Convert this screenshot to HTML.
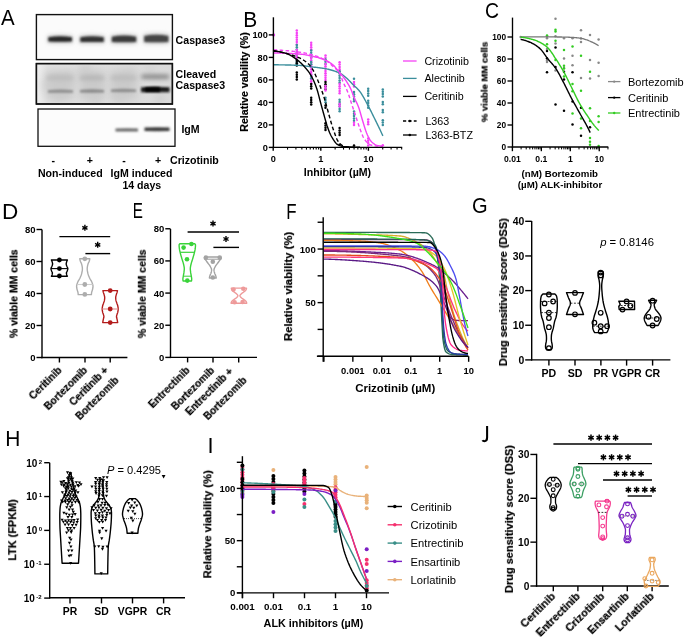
<!DOCTYPE html>
<html><head><meta charset="utf-8"><style>
html,body{margin:0;padding:0;background:#fff;}
svg{display:block;font-family:"Liberation Sans", sans-serif;}
text{filter:url(#gs);}
</style></head><body>
<svg width="685" height="637" viewBox="0 0 685 637">
<defs><filter id="gs" x="-5%" y="-20%" width="110%" height="140%" color-interpolation-filters="sRGB"><feColorMatrix type="saturate" values="0"/></filter></defs>
<rect width="685" height="637" fill="#fff"/>
<text x="0" y="0" font-size="22.5" transform="translate(1.10,25.40) scale(0.910,1)">A</text>
<text x="0" y="0" font-size="22.5" transform="translate(243.29,26.70) scale(0.933,1)">B</text>
<text x="0" y="0" font-size="22.5" transform="translate(484.95,17.70) scale(0.864,1)">C</text>
<text x="0" y="0" font-size="22.5" transform="translate(1.99,218.80) scale(1.004,1)">D</text>
<text x="0" y="0" font-size="22.5" transform="translate(132.65,217.60) scale(0.677,1)">E</text>
<text x="0" y="0" font-size="22.5" transform="translate(286.20,218.80) scale(0.750,1)">F</text>
<text x="0" y="0" font-size="22.5" transform="translate(471.92,212.50) scale(0.893,1)">G</text>
<text x="0" y="0" font-size="22.5" transform="translate(5.33,445.90) scale(0.931,1)">H</text>
<text x="0" y="0" font-size="22.5" transform="translate(207.46,452.80) scale(0.967,1)">I</text>
<path d="M487.1,426.0 L487.1,437.6 Q487.1,441.2 484.4,441.2 Q483.0,441.2 482.4,440.3" fill="none" stroke="#000" stroke-width="2.05"/>
<defs><filter id="bl" x="-30%" y="-80%" width="160%" height="260%"><feGaussianBlur stdDeviation="1.3"/></filter><filter id="bl2" x="-30%" y="-80%" width="160%" height="260%"><feGaussianBlur stdDeviation="2.2"/></filter><filter id="bl3" x="-50%" y="-50%" width="200%" height="200%"><feGaussianBlur stdDeviation="4"/></filter><linearGradient id="g2" x1="0" x2="1" y1="0" y2="0"><stop offset="0" stop-color="#f0f0f0"/><stop offset="0.08" stop-color="#e2e2e2"/><stop offset="1" stop-color="#dadada"/></linearGradient></defs>
<rect x="36.4" y="14.6" width="136" height="45" fill="#fbfbfb" stroke="#111" stroke-width="1.4"/>
<path d="M47.5,35.849999999999994 Q60.15,33.769999999999996 72.8,35.849999999999994 L72.8,43.05 Q60.15,43.44 47.5,43.05 Z" fill="#c8c8c8" filter="url(#bl2)"/>
<path d="M79.5,35.699999999999996 Q92.05,33.62 104.6,35.699999999999996 L104.6,43.4 Q92.05,43.79 79.5,43.4 Z" fill="#c8c8c8" filter="url(#bl2)"/>
<path d="M111,35.25 Q124.0,33.17 137,35.25 L137,43.45 Q124.0,43.84 111,43.45 Z" fill="#c8c8c8" filter="url(#bl2)"/>
<path d="M143.4,34.349999999999994 Q156.3,32.269999999999996 169.2,34.349999999999994 L169.2,43.55 Q156.3,43.94 143.4,43.55 Z" fill="#c8c8c8" filter="url(#bl2)"/>
<path d="M48.3,37.3 Q60.15,35.22 72,37.3 L72,41.599999999999994 Q60.15,41.989999999999995 48.3,41.599999999999994 Z" fill="#262626" filter="url(#bl)"/>
<path d="M80.3,37.199999999999996 Q92.05,35.12 103.8,37.199999999999996 L103.8,41.9 Q92.05,42.29 80.3,41.9 Z" fill="#303030" filter="url(#bl)"/>
<path d="M111.8,36.7 Q124.0,34.46 136.2,36.7 L136.2,42.1 Q124.0,42.52 111.8,42.1 Z" fill="#3a3a3a" filter="url(#bl)"/>
<path d="M144.2,36.0 Q156.3,33.6 168.4,36.0 L168.4,42.099999999999994 Q156.3,42.55 144.2,42.099999999999994 Z" fill="#444444" filter="url(#bl)"/>
<rect x="36.4" y="63.6" width="136" height="40.4" fill="url(#g2)" stroke="#111" stroke-width="1.4"/>
<g clip-path="url(#cb2)">
<clipPath id="cb2"><rect x="37.2" y="64.4" width="134.4" height="38.8"/></clipPath>
<circle cx="60" cy="95" r="6" fill="#cbcbcb" filter="url(#bl3)"/>
<circle cx="85" cy="70" r="7" fill="#cfcfcf" filter="url(#bl3)"/>
<circle cx="120" cy="98" r="6" fill="#cdcdcd" filter="url(#bl3)"/>
<circle cx="100" cy="85" r="5" fill="#d2d2d2" filter="url(#bl3)"/>
<circle cx="150" cy="70" r="5" fill="#d0d0d0" filter="url(#bl3)"/>
<circle cx="48" cy="85" r="6" fill="#d2d2d2" filter="url(#bl3)"/>
<circle cx="160" cy="99" r="5" fill="#cbcbcb" filter="url(#bl3)"/>
<circle cx="70" cy="80" r="6" fill="#cdcdcd" filter="url(#bl3)"/>
<circle cx="128" cy="75" r="6" fill="#cfcfcf" filter="url(#bl3)"/>
<circle cx="95" cy="100" r="5" fill="#cbcbcb" filter="url(#bl3)"/>
<rect x="46" y="70" width="28" height="30" fill="#cacaca" filter="url(#bl3)"/>
<rect x="79" y="70" width="26" height="30" fill="#cacaca" filter="url(#bl3)"/>
<rect x="110" y="70" width="27" height="30" fill="#cacaca" filter="url(#bl3)"/>
<path d="M47,76.0 Q60.0,74.4 73,76.0 L73,80.0 Q60.0,80.3 47,80.0 Z" fill="#bcbcbc" filter="url(#bl2)"/>
<path d="M80,76.0 Q92.0,74.4 104,76.0 L104,80.0 Q92.0,80.3 80,80.0 Z" fill="#b6b6b6" filter="url(#bl2)"/>
<path d="M111,76.0 Q123.5,74.4 136,76.0 L136,80.0 Q123.5,80.3 111,80.0 Z" fill="#bcbcbc" filter="url(#bl2)"/>
<path d="M48,90.3 Q60.5,88.7 73,90.3 L73,92.7 Q60.5,93.0 48,92.7 Z" fill="#8e8e8e" filter="url(#bl)"/>
<path d="M80,90.1 Q92.0,88.5 104,90.1 L104,92.5 Q92.0,92.8 80,92.5 Z" fill="#8a8a8a" filter="url(#bl)"/>
<path d="M111,89.6 Q123.5,88.0 136,89.6 L136,92.0 Q123.5,92.3 111,92.0 Z" fill="#8e8e8e" filter="url(#bl)"/>
<path d="M141.5,74.6 Q155.25,73.8 169,74.6 L169,79.1 Q155.25,79.25 141.5,79.1 Z" fill="#8a8a8a" filter="url(#bl2)"/>
<path d="M141,87.15 Q155.25,86.35000000000001 169.5,87.15 L169.5,92.15 Q155.25,92.30000000000001 141,92.15 Z" fill="#1a1a1a" filter="url(#bl)"/>
<path d="M145,87.45 Q152.5,86.97 160,87.45 L160,91.65 Q152.5,91.74000000000001 145,91.65 Z" fill="#000" filter="url(#bl)"/>
</g>
<rect x="36.4" y="63.6" width="136" height="40.4" fill="none" stroke="#111" stroke-width="1.4"/>
<rect x="38" y="109" width="137" height="37.3" fill="#fcfcfc" stroke="#111" stroke-width="1.3"/>
<path d="M115.5,128.50000000000003 Q126.75,128.02 138,128.50000000000003 L138,131.4 Q126.75,131.49 115.5,131.4 Z" fill="#6a6a6a" filter="url(#bl)"/>
<path d="M144.5,127.59999999999998 Q157.0,127.11999999999998 169.5,127.59999999999998 L169.5,131.1 Q157.0,131.19 144.5,131.1 Z" fill="#3a3a3a" filter="url(#bl)"/>
<text x="175.60" y="44.20" font-size="10.6" font-weight="bold">Caspase3</text>
<text x="175.60" y="77.80" font-size="10.6" font-weight="bold">Cleaved</text>
<text x="175.60" y="89.20" font-size="10.6" font-weight="bold">Caspase3</text>
<text x="181.40" y="133.20" font-size="10.6" font-weight="bold">IgM</text>
<text x="53.20" y="163.50" font-size="10.6" font-weight="bold" text-anchor="middle">-</text>
<text x="89.90" y="163.50" font-size="10.6" font-weight="bold" text-anchor="middle">+</text>
<text x="124.00" y="163.50" font-size="10.6" font-weight="bold" text-anchor="middle">-</text>
<text x="158.00" y="163.50" font-size="10.6" font-weight="bold" text-anchor="middle">+</text>
<text x="170.00" y="163.60" font-size="10.6" font-weight="bold">Crizotinib</text>
<text x="37.90" y="176.80" font-size="10.6" font-weight="bold">Non-induced</text>
<text x="110.60" y="176.80" font-size="10.6" font-weight="bold">IgM induced</text>
<text x="122.40" y="189.00" font-size="10.6" font-weight="bold">14 days</text>
<circle cx="296.80" cy="30.60" r="1.25" fill="#f542f5"/>
<circle cx="296.80" cy="32.90" r="1.25" fill="#f542f5"/>
<circle cx="296.80" cy="35.20" r="1.25" fill="#f542f5"/>
<circle cx="296.80" cy="37.50" r="1.25" fill="#f542f5"/>
<circle cx="296.80" cy="39.80" r="1.25" fill="#f542f5"/>
<circle cx="296.80" cy="42.10" r="1.25" fill="#f542f5"/>
<circle cx="296.80" cy="44.40" r="1.25" fill="#f542f5"/>
<circle cx="296.80" cy="45.00" r="1.25" fill="#3b8e9c"/>
<circle cx="296.80" cy="47.30" r="1.25" fill="#3b8e9c"/>
<circle cx="296.80" cy="49.60" r="1.25" fill="#3b8e9c"/>
<circle cx="296.80" cy="51.90" r="1.25" fill="#3b8e9c"/>
<circle cx="296.80" cy="54.20" r="1.25" fill="#3b8e9c"/>
<circle cx="296.80" cy="56.50" r="1.25" fill="#3b8e9c"/>
<circle cx="296.80" cy="50.00" r="1.25" fill="#f542f5"/>
<circle cx="296.80" cy="52.30" r="1.25" fill="#f542f5"/>
<circle cx="296.80" cy="54.60" r="1.25" fill="#f542f5"/>
<circle cx="296.80" cy="56.90" r="1.25" fill="#f542f5"/>
<circle cx="296.80" cy="59.20" r="1.25" fill="#f542f5"/>
<circle cx="296.80" cy="60.00" r="1.25" fill="#3b8e9c"/>
<circle cx="296.80" cy="62.30" r="1.25" fill="#3b8e9c"/>
<circle cx="296.80" cy="64.60" r="1.25" fill="#3b8e9c"/>
<circle cx="296.80" cy="61.00" r="1.25" fill="#000"/>
<circle cx="296.80" cy="63.30" r="1.25" fill="#000"/>
<circle cx="296.80" cy="65.60" r="1.25" fill="#000"/>
<circle cx="296.80" cy="72.50" r="1.25" fill="#000"/>
<circle cx="296.80" cy="74.80" r="1.25" fill="#000"/>
<circle cx="296.80" cy="77.10" r="1.25" fill="#000"/>
<circle cx="296.80" cy="79.40" r="1.25" fill="#000"/>
<circle cx="311.20" cy="42.70" r="1.25" fill="#f542f5"/>
<circle cx="311.20" cy="45.00" r="1.25" fill="#f542f5"/>
<circle cx="311.20" cy="47.30" r="1.25" fill="#f542f5"/>
<circle cx="311.20" cy="49.60" r="1.25" fill="#f542f5"/>
<circle cx="311.20" cy="50.50" r="1.25" fill="#3b8e9c"/>
<circle cx="311.20" cy="52.80" r="1.25" fill="#3b8e9c"/>
<circle cx="311.20" cy="55.10" r="1.25" fill="#3b8e9c"/>
<circle cx="311.20" cy="57.40" r="1.25" fill="#3b8e9c"/>
<circle cx="311.20" cy="58.00" r="1.25" fill="#f542f5"/>
<circle cx="311.20" cy="60.30" r="1.25" fill="#f542f5"/>
<circle cx="311.20" cy="62.60" r="1.25" fill="#f542f5"/>
<circle cx="311.20" cy="64.90" r="1.25" fill="#f542f5"/>
<circle cx="311.20" cy="67.20" r="1.25" fill="#f542f5"/>
<circle cx="311.20" cy="69.50" r="1.25" fill="#f542f5"/>
<circle cx="311.20" cy="62.00" r="1.25" fill="#3b8e9c"/>
<circle cx="311.20" cy="64.30" r="1.25" fill="#3b8e9c"/>
<circle cx="311.20" cy="72.00" r="1.25" fill="#f542f5"/>
<circle cx="311.20" cy="74.30" r="1.25" fill="#f542f5"/>
<circle cx="311.20" cy="76.60" r="1.25" fill="#f542f5"/>
<circle cx="311.20" cy="78.90" r="1.25" fill="#f542f5"/>
<circle cx="311.20" cy="81.20" r="1.25" fill="#f542f5"/>
<circle cx="311.20" cy="83.50" r="1.25" fill="#f542f5"/>
<circle cx="311.20" cy="76.00" r="1.25" fill="#3b8e9c"/>
<circle cx="311.20" cy="78.30" r="1.25" fill="#3b8e9c"/>
<circle cx="311.20" cy="84.00" r="1.25" fill="#000"/>
<circle cx="311.20" cy="86.30" r="1.25" fill="#000"/>
<circle cx="311.20" cy="88.60" r="1.25" fill="#000"/>
<circle cx="311.20" cy="97.70" r="1.25" fill="#000"/>
<circle cx="311.20" cy="100.00" r="1.25" fill="#000"/>
<circle cx="311.20" cy="102.30" r="1.25" fill="#000"/>
<circle cx="311.20" cy="104.60" r="1.25" fill="#000"/>
<circle cx="325.50" cy="55.50" r="1.25" fill="#f542f5"/>
<circle cx="325.50" cy="57.80" r="1.25" fill="#f542f5"/>
<circle cx="325.50" cy="59.40" r="1.25" fill="#3b8e9c"/>
<circle cx="325.50" cy="61.70" r="1.25" fill="#3b8e9c"/>
<circle cx="325.50" cy="64.00" r="1.25" fill="#3b8e9c"/>
<circle cx="325.50" cy="64.00" r="1.25" fill="#f542f5"/>
<circle cx="325.50" cy="66.30" r="1.25" fill="#f542f5"/>
<circle cx="325.50" cy="68.60" r="1.25" fill="#f542f5"/>
<circle cx="325.50" cy="70.90" r="1.25" fill="#f542f5"/>
<circle cx="325.50" cy="73.20" r="1.25" fill="#f542f5"/>
<circle cx="325.50" cy="75.50" r="1.25" fill="#f542f5"/>
<circle cx="325.50" cy="77.80" r="1.25" fill="#f542f5"/>
<circle cx="325.50" cy="80.10" r="1.25" fill="#f542f5"/>
<circle cx="325.50" cy="82.00" r="1.25" fill="#000"/>
<circle cx="325.50" cy="84.30" r="1.25" fill="#000"/>
<circle cx="325.50" cy="86.60" r="1.25" fill="#000"/>
<circle cx="325.50" cy="88.90" r="1.25" fill="#000"/>
<circle cx="325.50" cy="86.00" r="1.25" fill="#f542f5"/>
<circle cx="325.50" cy="88.30" r="1.25" fill="#f542f5"/>
<circle cx="325.50" cy="90.60" r="1.25" fill="#f542f5"/>
<circle cx="325.50" cy="97.70" r="1.25" fill="#3b8e9c"/>
<circle cx="325.50" cy="100.00" r="1.25" fill="#3b8e9c"/>
<circle cx="325.50" cy="102.30" r="1.25" fill="#3b8e9c"/>
<circle cx="325.50" cy="105.50" r="1.25" fill="#000"/>
<circle cx="325.50" cy="107.80" r="1.25" fill="#000"/>
<circle cx="325.50" cy="123.20" r="1.25" fill="#000"/>
<circle cx="325.50" cy="125.50" r="1.25" fill="#000"/>
<circle cx="325.50" cy="127.80" r="1.25" fill="#000"/>
<circle cx="325.50" cy="130.10" r="1.25" fill="#000"/>
<circle cx="339.60" cy="62.30" r="1.25" fill="#f542f5"/>
<circle cx="339.60" cy="64.60" r="1.25" fill="#f542f5"/>
<circle cx="339.60" cy="66.90" r="1.25" fill="#f542f5"/>
<circle cx="339.60" cy="69.20" r="1.25" fill="#f542f5"/>
<circle cx="339.60" cy="71.50" r="1.25" fill="#f542f5"/>
<circle cx="339.60" cy="71.20" r="1.25" fill="#3b8e9c"/>
<circle cx="339.60" cy="73.50" r="1.25" fill="#3b8e9c"/>
<circle cx="339.60" cy="75.80" r="1.25" fill="#3b8e9c"/>
<circle cx="339.60" cy="78.10" r="1.25" fill="#3b8e9c"/>
<circle cx="339.60" cy="80.40" r="1.25" fill="#3b8e9c"/>
<circle cx="339.60" cy="82.70" r="1.25" fill="#3b8e9c"/>
<circle cx="339.60" cy="84.00" r="1.25" fill="#f542f5"/>
<circle cx="339.60" cy="86.30" r="1.25" fill="#f542f5"/>
<circle cx="339.60" cy="88.60" r="1.25" fill="#f542f5"/>
<circle cx="339.60" cy="90.90" r="1.25" fill="#f542f5"/>
<circle cx="339.60" cy="93.20" r="1.25" fill="#f542f5"/>
<circle cx="339.60" cy="99.70" r="1.25" fill="#3b8e9c"/>
<circle cx="339.60" cy="102.00" r="1.25" fill="#3b8e9c"/>
<circle cx="339.60" cy="104.30" r="1.25" fill="#3b8e9c"/>
<circle cx="339.60" cy="106.60" r="1.25" fill="#3b8e9c"/>
<circle cx="339.60" cy="108.90" r="1.25" fill="#3b8e9c"/>
<circle cx="339.60" cy="111.20" r="1.25" fill="#3b8e9c"/>
<circle cx="339.60" cy="104.00" r="1.25" fill="#f542f5"/>
<circle cx="339.60" cy="106.30" r="1.25" fill="#f542f5"/>
<circle cx="339.60" cy="128.10" r="1.25" fill="#000"/>
<circle cx="339.60" cy="130.40" r="1.25" fill="#000"/>
<circle cx="339.60" cy="132.70" r="1.25" fill="#000"/>
<circle cx="339.60" cy="135.00" r="1.25" fill="#000"/>
<circle cx="339.60" cy="144.80" r="1.25" fill="#000"/>
<circle cx="354.00" cy="78.80" r="1.25" fill="#3b8e9c"/>
<circle cx="354.00" cy="81.90" r="1.25" fill="#f542f5"/>
<circle cx="354.00" cy="84.20" r="1.25" fill="#f542f5"/>
<circle cx="354.00" cy="86.50" r="1.25" fill="#f542f5"/>
<circle cx="354.00" cy="92.00" r="1.25" fill="#3b8e9c"/>
<circle cx="354.00" cy="94.30" r="1.25" fill="#3b8e9c"/>
<circle cx="354.00" cy="96.60" r="1.25" fill="#3b8e9c"/>
<circle cx="354.00" cy="98.90" r="1.25" fill="#3b8e9c"/>
<circle cx="354.00" cy="101.20" r="1.25" fill="#3b8e9c"/>
<circle cx="354.00" cy="111.50" r="1.25" fill="#3b8e9c"/>
<circle cx="354.00" cy="113.80" r="1.25" fill="#3b8e9c"/>
<circle cx="354.00" cy="116.10" r="1.25" fill="#3b8e9c"/>
<circle cx="354.00" cy="118.40" r="1.25" fill="#3b8e9c"/>
<circle cx="354.00" cy="120.70" r="1.25" fill="#3b8e9c"/>
<circle cx="354.00" cy="122.80" r="1.25" fill="#f542f5"/>
<circle cx="354.00" cy="125.10" r="1.25" fill="#f542f5"/>
<circle cx="354.00" cy="145.40" r="1.25" fill="#000"/>
<circle cx="368.20" cy="88.80" r="1.25" fill="#3b8e9c"/>
<circle cx="368.20" cy="91.10" r="1.25" fill="#3b8e9c"/>
<circle cx="368.20" cy="93.40" r="1.25" fill="#3b8e9c"/>
<circle cx="368.20" cy="95.70" r="1.25" fill="#3b8e9c"/>
<circle cx="368.20" cy="100.80" r="1.25" fill="#3b8e9c"/>
<circle cx="368.20" cy="103.10" r="1.25" fill="#3b8e9c"/>
<circle cx="368.20" cy="105.40" r="1.25" fill="#3b8e9c"/>
<circle cx="368.20" cy="107.70" r="1.25" fill="#3b8e9c"/>
<circle cx="368.20" cy="119.60" r="1.25" fill="#f542f5"/>
<circle cx="368.20" cy="121.90" r="1.25" fill="#f542f5"/>
<circle cx="368.20" cy="124.20" r="1.25" fill="#f542f5"/>
<circle cx="368.20" cy="138.50" r="1.25" fill="#f542f5"/>
<circle cx="368.20" cy="140.80" r="1.25" fill="#f542f5"/>
<circle cx="368.20" cy="143.10" r="1.25" fill="#f542f5"/>
<circle cx="368.20" cy="145.40" r="1.25" fill="#f542f5"/>
<circle cx="382.80" cy="89.50" r="1.25" fill="#3b8e9c"/>
<circle cx="382.80" cy="91.80" r="1.25" fill="#3b8e9c"/>
<circle cx="382.80" cy="94.10" r="1.25" fill="#3b8e9c"/>
<circle cx="382.80" cy="96.40" r="1.25" fill="#3b8e9c"/>
<circle cx="382.80" cy="102.00" r="1.25" fill="#3b8e9c"/>
<circle cx="382.80" cy="104.30" r="1.25" fill="#3b8e9c"/>
<circle cx="382.80" cy="110.00" r="1.25" fill="#3b8e9c"/>
<circle cx="382.80" cy="112.30" r="1.25" fill="#3b8e9c"/>
<circle cx="382.80" cy="120.30" r="1.25" fill="#3b8e9c"/>
<circle cx="382.80" cy="122.60" r="1.25" fill="#3b8e9c"/>
<circle cx="382.80" cy="124.90" r="1.25" fill="#3b8e9c"/>
<circle cx="382.80" cy="145.20" r="1.25" fill="#f542f5"/>
<circle cx="273.60" cy="34.90" r="1.6" fill="#f542f5"/>
<path d="M273.60,64.80 L274.51,64.80 L275.42,64.80 L276.33,64.81 L277.24,64.81 L278.15,64.82 L279.06,64.83 L279.98,64.84 L280.89,64.85 L281.80,64.86 L282.71,64.88 L283.62,64.89 L284.53,64.91 L285.44,64.93 L286.35,64.95 L287.26,64.97 L288.17,64.99 L289.08,65.02 L290.00,65.04 L290.91,65.07 L291.82,65.10 L292.73,65.13 L293.64,65.16 L294.55,65.19 L295.46,65.22 L296.37,65.25 L297.28,65.29 L298.19,65.33 L299.10,65.36 L300.01,65.40 L300.93,65.45 L301.84,65.52 L302.75,65.61 L303.66,65.71 L304.57,65.83 L305.48,65.95 L306.39,66.09 L307.30,66.22 L308.21,66.36 L309.12,66.50 L310.03,66.63 L310.94,66.75 L311.86,66.87 L312.77,66.98 L313.68,67.09 L314.59,67.20 L315.50,67.31 L316.41,67.41 L317.32,67.52 L318.23,67.63 L319.14,67.75 L320.05,67.86 L320.96,67.99 L321.87,68.12 L322.78,68.25 L323.70,68.40 L324.61,68.56 L325.52,68.72 L326.43,68.90 L327.34,69.09 L328.25,69.29 L329.16,69.50 L330.07,69.73 L330.98,69.97 L331.89,70.22 L332.80,70.49 L333.72,70.78 L334.63,71.08 L335.54,71.40 L336.45,71.74 L337.36,72.09 L338.27,72.46 L339.18,72.86 L340.09,73.29 L341.00,73.80 L341.91,74.39 L342.82,75.04 L343.73,75.75 L344.64,76.50 L345.56,77.27 L346.47,78.05 L347.38,78.84 L348.29,79.70 L349.20,80.62 L350.11,81.58 L351.02,82.55 L351.93,83.51 L352.84,84.44 L353.75,85.32 L354.66,86.15 L355.57,86.97 L356.49,87.81 L357.40,88.70 L358.31,89.65 L359.22,90.70 L360.13,91.88 L361.04,93.19 L361.95,94.61 L362.86,96.12 L363.77,97.71 L364.68,99.35 L365.59,101.03 L366.50,102.72 L367.42,104.41 L368.33,106.09 L369.24,107.82 L370.15,109.59 L371.06,111.41 L371.97,113.25 L372.88,115.11 L373.79,116.97 L374.70,118.81 L375.61,120.65 L376.52,122.51 L377.44,124.37 L378.35,126.26 L379.26,128.15 L380.17,130.07 L381.08,132.00 L381.99,133.94 L382.90,135.90" stroke="#3b8e9c" stroke-width="1.4" fill="none"/>
<path d="M273.60,53.00 L274.51,53.00 L275.42,53.01 L276.33,53.01 L277.24,53.03 L278.15,53.04 L279.06,53.06 L279.98,53.08 L280.89,53.10 L281.80,53.12 L282.71,53.15 L283.62,53.18 L284.53,53.22 L285.44,53.25 L286.35,53.29 L287.26,53.33 L288.17,53.37 L289.08,53.42 L290.00,53.47 L290.91,53.51 L291.82,53.57 L292.73,53.62 L293.64,53.67 L294.55,53.73 L295.46,53.79 L296.37,53.85 L297.28,53.91 L298.19,53.97 L299.10,54.04 L300.01,54.10 L300.93,54.18 L301.84,54.27 L302.75,54.39 L303.66,54.52 L304.57,54.66 L305.48,54.82 L306.39,54.99 L307.30,55.17 L308.21,55.35 L309.12,55.54 L310.03,55.73 L310.94,55.92 L311.86,56.12 L312.77,56.32 L313.68,56.53 L314.59,56.74 L315.50,56.97 L316.41,57.20 L317.32,57.45 L318.23,57.70 L319.14,57.97 L320.05,58.25 L320.96,58.54 L321.87,58.85 L322.78,59.18 L323.70,59.52 L324.61,59.87 L325.52,60.25 L326.43,60.66 L327.34,61.13 L328.25,61.64 L329.16,62.19 L330.07,62.79 L330.98,63.43 L331.89,64.12 L332.80,64.84 L333.72,65.63 L334.63,66.56 L335.54,67.59 L336.45,68.69 L337.36,69.84 L338.27,70.99 L339.18,72.12 L340.09,73.20 L341.00,74.26 L341.91,75.32 L342.82,76.40 L343.73,77.53 L344.64,78.73 L345.56,80.01 L346.47,81.35 L347.38,82.77 L348.29,84.27 L349.20,85.87 L350.11,87.60 L351.02,89.48 L351.93,91.78 L352.84,94.28 L353.75,96.63 L354.66,98.65 L355.57,100.50 L356.49,102.33 L357.40,104.27 L358.31,106.46 L359.22,109.06 L360.13,112.07 L361.04,115.28 L361.95,118.48 L362.86,121.49 L363.77,124.45 L364.68,127.43 L365.59,130.28 L366.50,132.84 L367.42,134.97 L368.33,136.87 L369.24,138.62 L370.15,140.14 L371.06,141.35 L371.97,142.22 L372.88,142.99 L373.79,143.68 L374.70,144.28 L375.61,144.78 L376.52,145.15 L377.44,145.41 L378.35,145.59 L379.26,145.76 L380.17,145.90 L381.08,146.00 L381.99,146.08 L382.90,146.10" stroke="#f542f5" stroke-width="1.4" fill="none"/>
<path d="M273.60,50.00 L274.51,50.00 L275.42,50.02 L276.33,50.03 L277.24,50.06 L278.15,50.09 L279.06,50.13 L279.98,50.17 L280.89,50.23 L281.80,50.28 L282.71,50.34 L283.62,50.41 L284.53,50.48 L285.44,50.56 L286.35,50.64 L287.26,50.72 L288.17,50.81 L289.08,50.91 L290.00,51.00 L290.91,51.10 L291.82,51.20 L292.73,51.31 L293.64,51.41 L294.55,51.52 L295.46,51.63 L296.37,51.74 L297.28,51.86 L298.19,51.97 L299.10,52.09 L300.01,52.20 L300.93,52.33 L301.84,52.47 L302.75,52.63 L303.66,52.80 L304.57,52.98 L305.48,53.18 L306.39,53.38 L307.30,53.60 L308.21,53.82 L309.12,54.04 L310.03,54.27 L310.94,54.51 L311.86,54.75 L312.77,55.00 L313.68,55.26 L314.59,55.53 L315.50,55.82 L316.41,56.13 L317.32,56.45 L318.23,56.78 L319.14,57.13 L320.05,57.50 L320.96,57.90 L321.87,58.31 L322.78,58.76 L323.70,59.23 L324.61,59.73 L325.52,60.27 L326.43,60.87 L327.34,61.52 L328.25,62.23 L329.16,62.98 L330.07,63.76 L330.98,64.57 L331.89,65.39 L332.80,66.22 L333.72,67.03 L334.63,67.81 L335.54,68.58 L336.45,69.41 L337.36,70.31 L338.27,71.34 L339.18,72.53 L340.09,74.06 L341.00,76.23 L341.91,78.73 L342.82,81.22 L343.73,83.39 L344.64,85.33 L345.56,87.20 L346.47,89.10 L347.38,91.16 L348.29,93.48 L349.20,96.20 L350.11,99.15 L351.02,102.06 L351.93,104.82 L352.84,107.56 L353.75,110.29 L354.66,113.01 L355.57,115.72 L356.49,118.50 L357.40,121.31 L358.31,124.08 L359.22,126.74 L360.13,129.21 L361.04,131.68 L361.95,134.09 L362.86,136.30 L363.77,138.12 L364.68,139.49 L365.59,140.72 L366.50,141.85 L367.42,142.84 L368.33,143.67 L369.24,144.31 L370.15,144.72 L371.06,145.00 L371.97,145.24 L372.88,145.45 L373.79,145.63 L374.70,145.79 L375.61,145.91 L376.52,146.02 L377.44,146.10 L378.35,146.18 L379.26,146.25 L380.17,146.31 L381.08,146.36 L381.99,146.39 L382.90,146.40" stroke="#f542f5" stroke-width="1.4" fill="none" stroke-dasharray="3.6 2.4"/>
<path d="M273.60,51.20 L274.32,51.21 L275.04,51.24 L275.76,51.29 L276.48,51.36 L277.20,51.44 L277.92,51.54 L278.64,51.65 L279.36,51.78 L280.08,51.92 L280.80,52.07 L281.52,52.23 L282.24,52.39 L282.96,52.57 L283.68,52.75 L284.40,52.93 L285.12,53.12 L285.84,53.31 L286.56,53.53 L287.28,53.78 L288.00,54.07 L288.72,54.40 L289.44,54.75 L290.16,55.14 L290.88,55.55 L291.60,55.98 L292.32,56.44 L293.04,56.91 L293.76,57.40 L294.48,57.89 L295.20,58.40 L295.92,58.92 L296.64,59.44 L297.36,59.97 L298.08,60.53 L298.80,61.12 L299.52,61.76 L300.24,62.42 L300.96,63.11 L301.68,63.82 L302.40,64.56 L303.12,65.31 L303.84,66.08 L304.56,66.87 L305.28,67.66 L306.00,68.49 L306.72,69.34 L307.44,70.23 L308.16,71.16 L308.88,72.15 L309.60,73.19 L310.32,74.31 L311.04,75.52 L311.76,76.83 L312.48,78.24 L313.20,79.74 L313.92,81.32 L314.64,83.00 L315.36,84.81 L316.08,86.76 L316.80,88.84 L317.52,91.06 L318.24,93.57 L318.96,96.35 L319.68,99.22 L320.40,102.00 L321.12,104.65 L321.84,107.28 L322.56,109.88 L323.28,112.46 L324.00,115.01 L324.72,117.63 L325.44,120.26 L326.16,122.79 L326.88,125.15 L327.60,127.25 L328.32,129.24 L329.04,131.13 L329.76,132.91 L330.48,134.53 L331.20,135.98 L331.92,137.25 L332.64,138.46 L333.36,139.63 L334.08,140.73 L334.80,141.75 L335.52,142.67 L336.24,143.45 L336.96,144.08 L337.68,144.54 L338.40,144.92 L339.12,145.27 L339.84,145.59 L340.56,145.89 L341.28,146.15 L342.00,146.37 L342.72,146.55 L343.44,146.69 L344.16,146.78 L344.88,146.82 L345.60,146.86 L346.32,146.89 L347.04,146.92 L347.76,146.96 L348.48,146.98 L349.20,147.01 L349.92,147.04 L350.64,147.06 L351.36,147.08 L352.08,147.10 L352.80,147.12 L353.52,147.13 L354.24,147.15 L354.96,147.16 L355.68,147.17 L356.40,147.18 L357.12,147.19 L357.84,147.19 L358.56,147.20 L359.28,147.20 L360.00,147.20" stroke="#000" stroke-width="1.4" fill="none"/>
<path d="M273.60,50.70 L274.28,50.80 L274.96,50.91 L275.64,51.02 L276.31,51.14 L276.99,51.27 L277.67,51.40 L278.35,51.54 L279.03,51.68 L279.71,51.82 L280.38,51.97 L281.06,52.13 L281.74,52.29 L282.42,52.45 L283.10,52.62 L283.78,52.79 L284.45,52.97 L285.13,53.14 L285.81,53.32 L286.49,53.51 L287.17,53.69 L287.85,53.88 L288.52,54.08 L289.20,54.27 L289.88,54.47 L290.56,54.66 L291.24,54.87 L291.92,55.08 L292.59,55.29 L293.27,55.51 L293.95,55.74 L294.63,55.98 L295.31,56.22 L295.99,56.48 L296.66,56.74 L297.34,57.01 L298.02,57.30 L298.70,57.60 L299.38,57.90 L300.06,58.23 L300.73,58.56 L301.41,58.92 L302.09,59.29 L302.77,59.68 L303.45,60.09 L304.12,60.53 L304.80,60.99 L305.48,61.48 L306.16,61.99 L306.84,62.53 L307.52,63.10 L308.19,63.70 L308.87,64.36 L309.55,65.10 L310.23,65.93 L310.91,66.83 L311.59,67.80 L312.26,68.82 L312.94,69.91 L313.62,71.09 L314.30,72.43 L314.98,73.88 L315.66,75.41 L316.34,76.97 L317.01,78.53 L317.69,80.09 L318.37,81.69 L319.05,83.34 L319.73,85.05 L320.41,86.81 L321.08,88.64 L321.76,90.53 L322.44,92.49 L323.12,94.50 L323.80,96.59 L324.48,98.74 L325.15,101.02 L325.83,103.42 L326.51,105.90 L327.19,108.42 L327.87,110.93 L328.55,113.39 L329.22,115.78 L329.90,118.18 L330.58,120.60 L331.26,122.98 L331.94,125.29 L332.62,127.47 L333.29,129.48 L333.97,131.41 L334.65,133.35 L335.33,135.24 L336.01,137.04 L336.69,138.68 L337.36,140.11 L338.04,141.28 L338.72,142.16 L339.40,142.93 L340.08,143.65 L340.75,144.32 L341.43,144.93 L342.11,145.45 L342.79,145.89 L343.47,146.22 L344.15,146.44 L344.82,146.54 L345.50,146.63 L346.18,146.71 L346.86,146.78 L347.54,146.85 L348.22,146.91 L348.89,146.96 L349.57,147.01 L350.25,147.06 L350.93,147.09 L351.61,147.13 L352.29,147.15 L352.97,147.17 L353.64,147.19 L354.32,147.20 L355.00,147.20" stroke="#000" stroke-width="1.4" fill="none" stroke-dasharray="3.8 2.4"/>
<line x1="273.40" y1="17.30" x2="273.40" y2="148.10" stroke="#000" stroke-width="1.4"/>
<line x1="268.80" y1="147.40" x2="273.40" y2="147.40" stroke="#000" stroke-width="1.4"/>
<text x="267.80" y="150.71" font-size="9.2" font-weight="bold" text-anchor="end">0</text>
<line x1="268.80" y1="124.90" x2="273.40" y2="124.90" stroke="#000" stroke-width="1.4"/>
<text x="267.80" y="128.21" font-size="9.2" font-weight="bold" text-anchor="end">20</text>
<line x1="268.80" y1="102.40" x2="273.40" y2="102.40" stroke="#000" stroke-width="1.4"/>
<text x="267.80" y="105.71" font-size="9.2" font-weight="bold" text-anchor="end">40</text>
<line x1="268.80" y1="79.90" x2="273.40" y2="79.90" stroke="#000" stroke-width="1.4"/>
<text x="267.80" y="83.21" font-size="9.2" font-weight="bold" text-anchor="end">60</text>
<line x1="268.80" y1="57.40" x2="273.40" y2="57.40" stroke="#000" stroke-width="1.4"/>
<text x="267.80" y="60.71" font-size="9.2" font-weight="bold" text-anchor="end">80</text>
<line x1="268.80" y1="34.90" x2="273.40" y2="34.90" stroke="#000" stroke-width="1.4"/>
<text x="267.80" y="38.21" font-size="9.2" font-weight="bold" text-anchor="end">100</text>
<line x1="272.70" y1="147.40" x2="402.20" y2="147.40" stroke="#000" stroke-width="1.4"/>
<line x1="273.20" y1="147.40" x2="273.20" y2="150.80" stroke="#000" stroke-width="1.4"/>
<line x1="287.53" y1="147.40" x2="287.53" y2="149.60" stroke="#000" stroke-width="1.1"/>
<line x1="295.91" y1="147.40" x2="295.91" y2="149.60" stroke="#000" stroke-width="1.1"/>
<line x1="301.86" y1="147.40" x2="301.86" y2="149.60" stroke="#000" stroke-width="1.1"/>
<line x1="306.47" y1="147.40" x2="306.47" y2="149.60" stroke="#000" stroke-width="1.1"/>
<line x1="310.24" y1="147.40" x2="310.24" y2="149.60" stroke="#000" stroke-width="1.1"/>
<line x1="313.43" y1="147.40" x2="313.43" y2="149.60" stroke="#000" stroke-width="1.1"/>
<line x1="316.19" y1="147.40" x2="316.19" y2="149.60" stroke="#000" stroke-width="1.1"/>
<line x1="318.62" y1="147.40" x2="318.62" y2="149.60" stroke="#000" stroke-width="1.1"/>
<line x1="320.80" y1="147.40" x2="320.80" y2="150.80" stroke="#000" stroke-width="1.4"/>
<line x1="335.13" y1="147.40" x2="335.13" y2="149.60" stroke="#000" stroke-width="1.1"/>
<line x1="343.51" y1="147.40" x2="343.51" y2="149.60" stroke="#000" stroke-width="1.1"/>
<line x1="349.46" y1="147.40" x2="349.46" y2="149.60" stroke="#000" stroke-width="1.1"/>
<line x1="354.07" y1="147.40" x2="354.07" y2="149.60" stroke="#000" stroke-width="1.1"/>
<line x1="357.84" y1="147.40" x2="357.84" y2="149.60" stroke="#000" stroke-width="1.1"/>
<line x1="361.03" y1="147.40" x2="361.03" y2="149.60" stroke="#000" stroke-width="1.1"/>
<line x1="363.79" y1="147.40" x2="363.79" y2="149.60" stroke="#000" stroke-width="1.1"/>
<line x1="366.22" y1="147.40" x2="366.22" y2="149.60" stroke="#000" stroke-width="1.1"/>
<line x1="368.40" y1="147.40" x2="368.40" y2="150.80" stroke="#000" stroke-width="1.4"/>
<line x1="382.73" y1="147.40" x2="382.73" y2="149.60" stroke="#000" stroke-width="1.1"/>
<line x1="391.11" y1="147.40" x2="391.11" y2="149.60" stroke="#000" stroke-width="1.1"/>
<line x1="397.06" y1="147.40" x2="397.06" y2="149.60" stroke="#000" stroke-width="1.1"/>
<line x1="401.67" y1="147.40" x2="401.67" y2="149.60" stroke="#000" stroke-width="1.1"/>
<text x="273.20" y="162.00" font-size="9.2" font-weight="bold" text-anchor="middle">0</text>
<text x="320.80" y="162.00" font-size="9.2" font-weight="bold" text-anchor="middle">1</text>
<text x="368.40" y="162.00" font-size="9.2" font-weight="bold" text-anchor="middle">10</text>
<text x="303.80" y="176.30" font-size="10.6" font-weight="bold">Inhibitor (µM)</text>
<text x="248.00" y="82.00" font-size="10.6" font-weight="bold" text-anchor="middle" transform="rotate(-90 248.00 82.00)" stroke="#000" stroke-width="0.22">Relative vability (%)</text>
<line x1="403.00" y1="61.00" x2="416.60" y2="61.00" stroke="#f542f5" stroke-width="1.3"/>
<text x="424.40" y="65.00" font-size="10.7">Crizotinib</text>
<line x1="403.00" y1="78.40" x2="416.60" y2="78.40" stroke="#3b8e9c" stroke-width="1.3"/>
<text x="424.40" y="82.40" font-size="10.7">Alectinib</text>
<line x1="403.00" y1="96.40" x2="416.60" y2="96.40" stroke="#000" stroke-width="1.3"/>
<text x="424.40" y="100.40" font-size="10.7">Ceritinib</text>
<line x1="403.00" y1="121.00" x2="416.60" y2="121.00" stroke="#000" stroke-width="1.3" stroke-dasharray="3.2 2.2"/>
<circle cx="409.80" cy="121.00" r="1.3" fill="#000"/>
<text x="425.40" y="125.00" font-size="10.7">L363</text>
<line x1="403.00" y1="135.00" x2="416.60" y2="135.00" stroke="#000" stroke-width="1.3"/>
<circle cx="409.80" cy="135.00" r="1.3" fill="#000"/>
<text x="425.40" y="139.00" font-size="10.7">L363-BTZ</text>
<circle cx="547.00" cy="36.20" r="1.25" fill="#888"/>
<circle cx="547.00" cy="38.30" r="1.25" fill="#888"/>
<circle cx="547.00" cy="35.50" r="1.25" fill="#33cc22"/>
<circle cx="547.00" cy="44.20" r="1.25" fill="#33cc22"/>
<circle cx="547.00" cy="51.00" r="1.25" fill="#000"/>
<circle cx="547.00" cy="49.00" r="1.25" fill="#888"/>
<circle cx="547.00" cy="58.40" r="1.25" fill="#888"/>
<circle cx="547.00" cy="58.40" r="1.25" fill="#000"/>
<circle cx="547.00" cy="60.50" r="1.25" fill="#888"/>
<circle cx="547.00" cy="72.20" r="1.25" fill="#000"/>
<circle cx="547.00" cy="62.00" r="1.25" fill="#888"/>
<circle cx="555.50" cy="18.80" r="1.25" fill="#888"/>
<circle cx="555.50" cy="29.80" r="1.25" fill="#33cc22"/>
<circle cx="555.50" cy="31.50" r="1.25" fill="#33cc22"/>
<circle cx="555.50" cy="36.20" r="1.25" fill="#888"/>
<circle cx="555.50" cy="40.80" r="1.25" fill="#33cc22"/>
<circle cx="555.50" cy="43.60" r="1.25" fill="#888"/>
<circle cx="555.50" cy="47.40" r="1.25" fill="#000"/>
<circle cx="555.50" cy="59.90" r="1.25" fill="#33cc22"/>
<circle cx="555.50" cy="66.90" r="1.25" fill="#000"/>
<circle cx="555.50" cy="70.50" r="1.25" fill="#888"/>
<circle cx="555.50" cy="104.60" r="1.25" fill="#000"/>
<circle cx="564.00" cy="38.30" r="1.25" fill="#888"/>
<circle cx="564.00" cy="50.00" r="1.25" fill="#33cc22"/>
<circle cx="564.00" cy="58.40" r="1.25" fill="#888"/>
<circle cx="564.00" cy="65.80" r="1.25" fill="#33cc22"/>
<circle cx="564.00" cy="68.00" r="1.25" fill="#888"/>
<circle cx="564.00" cy="71.80" r="1.25" fill="#000"/>
<circle cx="564.00" cy="76.40" r="1.25" fill="#33cc22"/>
<circle cx="564.00" cy="79.60" r="1.25" fill="#000"/>
<circle cx="564.00" cy="110.80" r="1.25" fill="#000"/>
<circle cx="564.00" cy="68.50" r="1.25" fill="#33cc22"/>
<circle cx="572.50" cy="38.30" r="1.25" fill="#888"/>
<circle cx="572.50" cy="46.40" r="1.25" fill="#33cc22"/>
<circle cx="572.50" cy="55.70" r="1.25" fill="#888"/>
<circle cx="572.50" cy="65.20" r="1.25" fill="#888"/>
<circle cx="572.50" cy="72.20" r="1.25" fill="#000"/>
<circle cx="572.50" cy="83.90" r="1.25" fill="#33cc22"/>
<circle cx="572.50" cy="91.30" r="1.25" fill="#33cc22"/>
<circle cx="572.50" cy="101.40" r="1.25" fill="#000"/>
<circle cx="572.50" cy="113.50" r="1.25" fill="#33cc22"/>
<circle cx="572.50" cy="124.50" r="1.25" fill="#000"/>
<circle cx="581.00" cy="30.30" r="1.25" fill="#888"/>
<circle cx="581.00" cy="42.10" r="1.25" fill="#888"/>
<circle cx="581.00" cy="55.70" r="1.25" fill="#33cc22"/>
<circle cx="581.00" cy="78.10" r="1.25" fill="#888"/>
<circle cx="581.00" cy="90.80" r="1.25" fill="#33cc22"/>
<circle cx="581.00" cy="107.80" r="1.25" fill="#000"/>
<circle cx="581.00" cy="118.40" r="1.25" fill="#33cc22"/>
<circle cx="581.00" cy="128.30" r="1.25" fill="#33cc22"/>
<circle cx="581.00" cy="135.80" r="1.25" fill="#000"/>
<circle cx="581.00" cy="38.50" r="1.25" fill="#888"/>
<circle cx="590.00" cy="35.10" r="1.25" fill="#888"/>
<circle cx="590.00" cy="59.90" r="1.25" fill="#888"/>
<circle cx="590.00" cy="71.80" r="1.25" fill="#33cc22"/>
<circle cx="590.00" cy="78.60" r="1.25" fill="#888"/>
<circle cx="590.00" cy="108.20" r="1.25" fill="#33cc22"/>
<circle cx="590.00" cy="120.90" r="1.25" fill="#33cc22"/>
<circle cx="590.00" cy="127.30" r="1.25" fill="#000"/>
<circle cx="590.00" cy="141.70" r="1.25" fill="#33cc22"/>
<circle cx="590.00" cy="144.70" r="1.25" fill="#33cc22"/>
<circle cx="590.00" cy="138.00" r="1.25" fill="#33cc22"/>
<circle cx="598.60" cy="39.40" r="1.25" fill="#888"/>
<circle cx="598.60" cy="62.70" r="1.25" fill="#888"/>
<circle cx="598.60" cy="76.00" r="1.25" fill="#888"/>
<circle cx="598.60" cy="116.30" r="1.25" fill="#33cc22"/>
<circle cx="598.60" cy="122.00" r="1.25" fill="#33cc22"/>
<circle cx="598.60" cy="145.90" r="1.25" fill="#33cc22"/>
<circle cx="520.60" cy="37.00" r="1.2" fill="#888"/>
<path d="M520.60,36.80 L521.25,36.80 L521.90,36.81 L522.55,36.81 L523.20,36.81 L523.85,36.82 L524.50,36.82 L525.15,36.82 L525.80,36.83 L526.45,36.83 L527.10,36.83 L527.75,36.84 L528.40,36.84 L529.05,36.84 L529.70,36.85 L530.35,36.85 L531.00,36.85 L531.65,36.86 L532.30,36.86 L532.95,36.86 L533.60,36.87 L534.25,36.87 L534.90,36.87 L535.55,36.88 L536.20,36.88 L536.85,36.88 L537.50,36.89 L538.15,36.89 L538.80,36.89 L539.45,36.90 L540.10,36.90 L540.75,36.90 L541.40,36.91 L542.05,36.91 L542.70,36.91 L543.35,36.91 L544.00,36.92 L544.65,36.92 L545.30,36.92 L545.95,36.92 L546.60,36.93 L547.25,36.93 L547.90,36.93 L548.55,36.93 L549.20,36.94 L549.85,36.94 L550.50,36.94 L551.15,36.94 L551.80,36.95 L552.45,36.95 L553.10,36.95 L553.75,36.96 L554.40,36.96 L555.05,36.96 L555.70,36.97 L556.35,36.97 L557.00,36.98 L557.65,36.98 L558.30,36.99 L558.95,36.99 L559.60,37.00 L560.25,37.00 L560.90,37.01 L561.55,37.02 L562.20,37.03 L562.85,37.05 L563.50,37.06 L564.15,37.08 L564.80,37.10 L565.45,37.12 L566.10,37.14 L566.75,37.16 L567.40,37.19 L568.05,37.22 L568.70,37.24 L569.35,37.27 L570.00,37.30 L570.65,37.33 L571.30,37.36 L571.95,37.40 L572.60,37.43 L573.25,37.47 L573.90,37.52 L574.55,37.56 L575.20,37.62 L575.85,37.67 L576.50,37.74 L577.15,37.80 L577.80,37.87 L578.45,37.95 L579.10,38.03 L579.75,38.12 L580.40,38.21 L581.05,38.31 L581.70,38.42 L582.35,38.56 L583.00,38.71 L583.65,38.89 L584.30,39.08 L584.95,39.29 L585.60,39.51 L586.25,39.74 L586.90,39.98 L587.55,40.23 L588.20,40.48 L588.85,40.74 L589.50,41.00 L590.15,41.26 L590.80,41.53 L591.45,41.81 L592.10,42.11 L592.75,42.42 L593.40,42.75 L594.05,43.08 L594.70,43.43 L595.35,43.78 L596.00,44.15 L596.65,44.52 L597.30,44.91 L597.95,45.30 L598.60,45.70" stroke="#777" stroke-width="1.3" fill="none"/>
<path d="M520.60,39.40 L521.18,39.49 L521.76,39.59 L522.34,39.71 L522.92,39.84 L523.50,39.98 L524.08,40.14 L524.66,40.31 L525.24,40.49 L525.82,40.68 L526.40,40.87 L526.98,41.08 L527.56,41.30 L528.14,41.52 L528.72,41.75 L529.30,41.99 L529.88,42.23 L530.46,42.48 L531.04,42.73 L531.62,42.99 L532.20,43.26 L532.78,43.55 L533.36,43.86 L533.94,44.19 L534.52,44.53 L535.10,44.89 L535.68,45.26 L536.26,45.66 L536.84,46.07 L537.42,46.49 L538.00,46.94 L538.58,47.40 L539.16,47.88 L539.74,48.37 L540.32,48.89 L540.90,49.48 L541.48,50.13 L542.06,50.84 L542.64,51.59 L543.22,52.38 L543.80,53.20 L544.38,54.03 L544.96,54.87 L545.54,55.71 L546.12,56.54 L546.70,57.35 L547.28,58.13 L547.86,58.88 L548.44,59.59 L549.02,60.27 L549.60,60.94 L550.18,61.60 L550.76,62.25 L551.34,62.90 L551.92,63.55 L552.50,64.22 L553.08,64.90 L553.66,65.59 L554.24,66.32 L554.82,67.08 L555.40,67.87 L555.98,68.71 L556.56,69.60 L557.14,70.54 L557.72,71.52 L558.30,72.53 L558.88,73.58 L559.46,74.65 L560.04,75.74 L560.62,76.85 L561.20,77.97 L561.78,79.09 L562.36,80.22 L562.94,81.33 L563.52,82.44 L564.10,83.55 L564.68,84.68 L565.26,85.83 L565.84,86.99 L566.42,88.16 L567.00,89.33 L567.58,90.51 L568.16,91.69 L568.74,92.87 L569.32,94.03 L569.90,95.19 L570.48,96.33 L571.06,97.45 L571.64,98.55 L572.22,99.64 L572.80,100.71 L573.38,101.78 L573.96,102.83 L574.54,103.88 L575.12,104.92 L575.70,105.96 L576.28,106.99 L576.86,108.03 L577.44,109.06 L578.02,110.09 L578.60,111.12 L579.18,112.16 L579.76,113.20 L580.34,114.23 L580.92,115.24 L581.50,116.25 L582.08,117.26 L582.66,118.27 L583.24,119.29 L583.82,120.30 L584.40,121.33 L584.98,122.37 L585.56,123.42 L586.14,124.49 L586.72,125.58 L587.30,126.69 L587.88,127.83 L588.46,128.99 L589.04,130.18 L589.62,131.38 L590.20,132.60" stroke="#000" stroke-width="1.4" fill="none"/>
<path d="M520.60,37.20 L521.25,37.25 L521.90,37.31 L522.56,37.38 L523.21,37.46 L523.86,37.55 L524.51,37.65 L525.17,37.76 L525.82,37.88 L526.47,38.01 L527.12,38.15 L527.78,38.29 L528.43,38.44 L529.08,38.59 L529.74,38.75 L530.39,38.91 L531.04,39.08 L531.69,39.25 L532.35,39.42 L533.00,39.60 L533.65,39.78 L534.30,39.99 L534.96,40.21 L535.61,40.45 L536.26,40.70 L536.91,40.96 L537.57,41.25 L538.22,41.54 L538.87,41.84 L539.52,42.16 L540.17,42.49 L540.83,42.83 L541.48,43.19 L542.13,43.57 L542.78,43.96 L543.44,44.38 L544.09,44.82 L544.74,45.28 L545.39,45.77 L546.05,46.29 L546.70,46.83 L547.35,47.39 L548.00,47.99 L548.66,48.67 L549.31,49.42 L549.96,50.23 L550.62,51.11 L551.27,52.03 L551.92,52.99 L552.57,53.98 L553.23,54.98 L553.88,56.00 L554.53,57.01 L555.18,58.02 L555.84,59.00 L556.49,59.98 L557.14,60.98 L557.79,61.98 L558.45,62.99 L559.10,64.02 L559.75,65.06 L560.40,66.12 L561.05,67.20 L561.71,68.29 L562.36,69.40 L563.01,70.54 L563.66,71.70 L564.32,72.89 L564.97,74.12 L565.62,75.38 L566.27,76.67 L566.93,77.98 L567.58,79.30 L568.23,80.63 L568.88,81.97 L569.54,83.32 L570.19,84.65 L570.84,85.98 L571.50,87.29 L572.15,88.61 L572.80,89.95 L573.45,91.31 L574.11,92.67 L574.76,94.04 L575.41,95.39 L576.06,96.74 L576.72,98.06 L577.37,99.36 L578.02,100.62 L578.67,101.84 L579.33,103.02 L579.98,104.16 L580.63,105.28 L581.28,106.37 L581.93,107.44 L582.59,108.50 L583.24,109.53 L583.89,110.55 L584.54,111.55 L585.20,112.55 L585.85,113.53 L586.50,114.51 L587.15,115.48 L587.81,116.46 L588.46,117.43 L589.11,118.40 L589.76,119.36 L590.42,120.31 L591.07,121.25 L591.72,122.17 L592.38,123.07 L593.03,123.95 L593.68,124.80 L594.33,125.62 L594.99,126.40 L595.64,127.15 L596.29,127.87 L596.94,128.57 L597.60,129.24 L598.25,129.88 L598.90,130.50" stroke="#33cc22" stroke-width="1.4" fill="none"/>
<line x1="512.50" y1="17.60" x2="512.50" y2="147.68" stroke="#000" stroke-width="1.35"/>
<line x1="507.50" y1="147.00" x2="512.50" y2="147.00" stroke="#000" stroke-width="1.35"/>
<text x="506.00" y="149.99" font-size="8.3" font-weight="bold" text-anchor="end">0</text>
<line x1="507.50" y1="125.00" x2="512.50" y2="125.00" stroke="#000" stroke-width="1.35"/>
<text x="506.00" y="127.99" font-size="8.3" font-weight="bold" text-anchor="end">20</text>
<line x1="507.50" y1="103.00" x2="512.50" y2="103.00" stroke="#000" stroke-width="1.35"/>
<text x="506.00" y="105.99" font-size="8.3" font-weight="bold" text-anchor="end">40</text>
<line x1="507.50" y1="81.00" x2="512.50" y2="81.00" stroke="#000" stroke-width="1.35"/>
<text x="506.00" y="83.99" font-size="8.3" font-weight="bold" text-anchor="end">60</text>
<line x1="507.50" y1="59.00" x2="512.50" y2="59.00" stroke="#000" stroke-width="1.35"/>
<text x="506.00" y="61.99" font-size="8.3" font-weight="bold" text-anchor="end">80</text>
<line x1="507.50" y1="37.00" x2="512.50" y2="37.00" stroke="#000" stroke-width="1.35"/>
<text x="506.00" y="39.99" font-size="8.3" font-weight="bold" text-anchor="end">100</text>
<line x1="511.82" y1="147.00" x2="608.30" y2="147.00" stroke="#000" stroke-width="1.35"/>
<line x1="512.40" y1="147.00" x2="512.40" y2="151.20" stroke="#000" stroke-width="1.35"/>
<line x1="521.11" y1="147.00" x2="521.11" y2="149.40" stroke="#000" stroke-width="1.0"/>
<line x1="526.21" y1="147.00" x2="526.21" y2="149.40" stroke="#000" stroke-width="1.0"/>
<line x1="529.83" y1="147.00" x2="529.83" y2="149.40" stroke="#000" stroke-width="1.0"/>
<line x1="532.64" y1="147.00" x2="532.64" y2="149.40" stroke="#000" stroke-width="1.0"/>
<line x1="534.93" y1="147.00" x2="534.93" y2="149.40" stroke="#000" stroke-width="1.0"/>
<line x1="536.87" y1="147.00" x2="536.87" y2="149.40" stroke="#000" stroke-width="1.0"/>
<line x1="538.54" y1="147.00" x2="538.54" y2="149.40" stroke="#000" stroke-width="1.0"/>
<line x1="540.03" y1="147.00" x2="540.03" y2="149.40" stroke="#000" stroke-width="1.0"/>
<line x1="541.35" y1="147.00" x2="541.35" y2="151.20" stroke="#000" stroke-width="1.35"/>
<line x1="550.06" y1="147.00" x2="550.06" y2="149.40" stroke="#000" stroke-width="1.0"/>
<line x1="555.16" y1="147.00" x2="555.16" y2="149.40" stroke="#000" stroke-width="1.0"/>
<line x1="558.78" y1="147.00" x2="558.78" y2="149.40" stroke="#000" stroke-width="1.0"/>
<line x1="561.59" y1="147.00" x2="561.59" y2="149.40" stroke="#000" stroke-width="1.0"/>
<line x1="563.88" y1="147.00" x2="563.88" y2="149.40" stroke="#000" stroke-width="1.0"/>
<line x1="565.82" y1="147.00" x2="565.82" y2="149.40" stroke="#000" stroke-width="1.0"/>
<line x1="567.49" y1="147.00" x2="567.49" y2="149.40" stroke="#000" stroke-width="1.0"/>
<line x1="568.98" y1="147.00" x2="568.98" y2="149.40" stroke="#000" stroke-width="1.0"/>
<line x1="570.30" y1="147.00" x2="570.30" y2="151.20" stroke="#000" stroke-width="1.35"/>
<line x1="579.01" y1="147.00" x2="579.01" y2="149.40" stroke="#000" stroke-width="1.0"/>
<line x1="584.11" y1="147.00" x2="584.11" y2="149.40" stroke="#000" stroke-width="1.0"/>
<line x1="587.73" y1="147.00" x2="587.73" y2="149.40" stroke="#000" stroke-width="1.0"/>
<line x1="590.54" y1="147.00" x2="590.54" y2="149.40" stroke="#000" stroke-width="1.0"/>
<line x1="592.83" y1="147.00" x2="592.83" y2="149.40" stroke="#000" stroke-width="1.0"/>
<line x1="594.77" y1="147.00" x2="594.77" y2="149.40" stroke="#000" stroke-width="1.0"/>
<line x1="596.44" y1="147.00" x2="596.44" y2="149.40" stroke="#000" stroke-width="1.0"/>
<line x1="597.93" y1="147.00" x2="597.93" y2="149.40" stroke="#000" stroke-width="1.0"/>
<line x1="599.25" y1="147.00" x2="599.25" y2="151.20" stroke="#000" stroke-width="1.35"/>
<line x1="607.96" y1="147.00" x2="607.96" y2="149.40" stroke="#000" stroke-width="1.0"/>
<text x="512.40" y="162.20" font-size="8.6" font-weight="bold" text-anchor="middle">0.01</text>
<text x="541.35" y="162.20" font-size="8.6" font-weight="bold" text-anchor="middle">0.1</text>
<text x="570.30" y="162.20" font-size="8.6" font-weight="bold" text-anchor="middle">1</text>
<text x="599.25" y="162.20" font-size="8.6" font-weight="bold" text-anchor="middle">10</text>
<text x="559.80" y="176.50" font-size="9.7" font-weight="bold" text-anchor="middle">(nM) Bortezomib</text>
<text x="560.00" y="187.50" font-size="9.7" font-weight="bold" text-anchor="middle">(µM) ALK-inhibitor</text>
<text x="487.60" y="82.00" font-size="9.5" font-weight="bold" text-anchor="middle" transform="rotate(-90 487.60 82.00)" stroke="#000" stroke-width="0.22">% viable MM cells</text>
<line x1="608.00" y1="81.60" x2="620.40" y2="81.60" stroke="#888" stroke-width="1.3"/>
<circle cx="614.20" cy="81.60" r="1.2" fill="#888"/>
<text x="628.00" y="85.60" font-size="11.0">Bortezomib</text>
<line x1="608.00" y1="97.60" x2="620.40" y2="97.60" stroke="#000" stroke-width="1.3"/>
<circle cx="614.20" cy="97.60" r="1.2" fill="#000"/>
<text x="628.00" y="101.60" font-size="11.0">Ceritinib</text>
<line x1="608.00" y1="113.00" x2="620.40" y2="113.00" stroke="#33cc22" stroke-width="1.3"/>
<circle cx="614.20" cy="113.00" r="1.2" fill="#33cc22"/>
<text x="628.00" y="117.00" font-size="11.0">Entrectinib</text>
<line x1="42.00" y1="229.60" x2="42.00" y2="358.20" stroke="#000" stroke-width="1.4"/>
<line x1="36.50" y1="357.50" x2="42.00" y2="357.50" stroke="#000" stroke-width="1.4"/>
<text x="35.50" y="360.92" font-size="9.5" font-weight="bold" text-anchor="end">0</text>
<line x1="36.50" y1="325.50" x2="42.00" y2="325.50" stroke="#000" stroke-width="1.4"/>
<text x="35.50" y="328.92" font-size="9.5" font-weight="bold" text-anchor="end">20</text>
<line x1="36.50" y1="293.50" x2="42.00" y2="293.50" stroke="#000" stroke-width="1.4"/>
<text x="35.50" y="296.92" font-size="9.5" font-weight="bold" text-anchor="end">40</text>
<line x1="36.50" y1="261.50" x2="42.00" y2="261.50" stroke="#000" stroke-width="1.4"/>
<text x="35.50" y="264.92" font-size="9.5" font-weight="bold" text-anchor="end">60</text>
<line x1="36.50" y1="229.50" x2="42.00" y2="229.50" stroke="#000" stroke-width="1.4"/>
<text x="35.50" y="232.92" font-size="9.5" font-weight="bold" text-anchor="end">80</text>
<line x1="41.30" y1="357.50" x2="127.40" y2="357.50" stroke="#000" stroke-width="1.4"/>
<line x1="59.40" y1="357.50" x2="59.40" y2="362.50" stroke="#000" stroke-width="1.4"/>
<line x1="85.00" y1="357.50" x2="85.00" y2="362.50" stroke="#000" stroke-width="1.4"/>
<line x1="110.20" y1="357.50" x2="110.20" y2="362.50" stroke="#000" stroke-width="1.4"/>
<text x="17.30" y="293.80" font-size="10.5" font-weight="bold" text-anchor="middle" transform="rotate(-90 17.30 293.80)" stroke="#000" stroke-width="0.22">% viable MM cells</text>
<line x1="59.40" y1="236.60" x2="110.20" y2="236.60" stroke="#000" stroke-width="1.4"/>
<line x1="85.40" y1="253.60" x2="110.20" y2="253.60" stroke="#000" stroke-width="1.4"/>
<line x1="84.90" y1="224.80" x2="84.90" y2="230.80" stroke="#000" stroke-width="1.4"/>
<line x1="82.30" y1="226.30" x2="87.50" y2="229.30" stroke="#000" stroke-width="1.4"/>
<line x1="82.30" y1="229.30" x2="87.50" y2="226.30" stroke="#000" stroke-width="1.4"/>
<circle cx="84.90" cy="227.80" r="1.1" fill="#000"/>
<line x1="97.70" y1="241.80" x2="97.70" y2="247.80" stroke="#000" stroke-width="1.4"/>
<line x1="95.10" y1="243.30" x2="100.30" y2="246.30" stroke="#000" stroke-width="1.4"/>
<line x1="95.10" y1="246.30" x2="100.30" y2="243.30" stroke="#000" stroke-width="1.4"/>
<circle cx="97.70" cy="244.80" r="1.1" fill="#000"/>
<path d="M67.40,260.00 L67.20,260.40 L67.02,260.81 L66.86,261.21 L66.71,261.62 L66.59,262.02 L66.48,262.43 L66.37,262.83 L66.28,263.24 L66.22,263.64 L66.20,264.05 L66.25,264.45 L66.35,264.86 L66.50,265.26 L66.66,265.67 L66.84,266.07 L66.99,266.48 L67.16,266.88 L67.36,267.29 L67.56,267.69 L67.72,268.10 L67.80,268.50 L67.78,268.91 L67.72,269.31 L67.62,269.72 L67.49,270.12 L67.35,270.53 L67.22,270.94 L67.07,271.34 L66.86,271.75 L66.65,272.15 L66.48,272.56 L66.40,272.96 L66.42,273.37 L66.48,273.77 L66.57,274.18 L66.68,274.58 L66.80,274.99 L66.95,275.39 L67.16,275.79 L67.40,276.20 L51.40,276.20 L51.64,275.79 L51.85,275.39 L52.00,274.99 L52.12,274.58 L52.23,274.18 L52.32,273.77 L52.38,273.37 L52.40,272.96 L52.32,272.56 L52.15,272.15 L51.94,271.75 L51.73,271.34 L51.58,270.94 L51.45,270.53 L51.31,270.12 L51.18,269.72 L51.08,269.31 L51.02,268.91 L51.00,268.50 L51.08,268.10 L51.24,267.69 L51.44,267.29 L51.64,266.88 L51.81,266.48 L51.96,266.07 L52.14,265.67 L52.30,265.26 L52.45,264.86 L52.55,264.45 L52.60,264.05 L52.58,263.64 L52.52,263.24 L52.43,262.83 L52.32,262.43 L52.21,262.02 L52.09,261.62 L51.94,261.21 L51.78,260.81 L51.60,260.40 L51.40,260.00 Z" stroke="#000" stroke-width="1.4" fill="none" stroke-linejoin="round"/>
<line x1="51.00" y1="268.60" x2="67.80" y2="268.60" stroke="#000" stroke-width="1.1"/>
<circle cx="59.40" cy="260.00" r="2.4" fill="#000"/>
<circle cx="59.40" cy="268.60" r="2.4" fill="#000"/>
<circle cx="59.40" cy="276.00" r="2.4" fill="#000"/>
<path d="M89.80,258.80 L89.64,259.69 L89.42,260.59 L89.13,261.49 L88.70,262.38 L88.26,263.28 L87.96,264.17 L87.74,265.06 L87.54,265.96 L87.37,266.86 L87.25,267.75 L87.20,268.65 L87.23,269.54 L87.32,270.44 L87.47,271.33 L87.64,272.23 L87.82,273.12 L88.05,274.01 L88.34,274.91 L88.67,275.81 L89.04,276.70 L89.42,277.60 L89.84,278.49 L90.35,279.38 L90.91,280.28 L91.43,281.18 L91.83,282.07 L92.16,282.97 L92.49,283.86 L92.76,284.75 L92.95,285.65 L93.00,286.55 L92.93,287.44 L92.77,288.34 L92.58,289.23 L92.37,290.12 L92.06,291.02 L91.74,291.92 L91.56,292.81 L91.45,293.71 L91.40,294.60 L78.20,294.60 L78.15,293.71 L78.04,292.81 L77.86,291.92 L77.54,291.02 L77.23,290.12 L77.02,289.23 L76.83,288.34 L76.67,287.44 L76.60,286.55 L76.65,285.65 L76.84,284.75 L77.11,283.86 L77.44,282.97 L77.77,282.07 L78.17,281.18 L78.69,280.28 L79.25,279.38 L79.76,278.49 L80.18,277.60 L80.56,276.70 L80.93,275.81 L81.26,274.91 L81.55,274.01 L81.78,273.12 L81.96,272.23 L82.13,271.33 L82.28,270.44 L82.37,269.54 L82.40,268.65 L82.35,267.75 L82.23,266.86 L82.06,265.96 L81.86,265.06 L81.64,264.17 L81.34,263.28 L80.90,262.38 L80.47,261.49 L80.18,260.59 L79.96,259.69 L79.80,258.80 Z" stroke="#adadad" stroke-width="1.4" fill="none" stroke-linejoin="round"/>
<line x1="76.91" y1="284.50" x2="92.69" y2="284.50" stroke="#d0d0d0" stroke-width="1.1"/>
<circle cx="84.80" cy="258.80" r="2.4" fill="#adadad"/>
<circle cx="84.80" cy="284.50" r="2.4" fill="#adadad"/>
<circle cx="84.80" cy="294.40" r="2.4" fill="#adadad"/>
<path d="M117.50,290.60 L117.30,291.40 L117.09,292.20 L116.84,293.00 L116.57,293.80 L116.31,294.60 L116.10,295.40 L115.90,296.20 L115.75,297.00 L115.70,297.80 L115.74,298.60 L115.82,299.40 L115.93,300.20 L116.12,301.00 L116.38,301.80 L116.67,302.60 L116.93,303.40 L117.23,304.20 L117.53,305.00 L117.76,305.80 L117.91,306.60 L118.06,307.40 L118.16,308.20 L118.20,309.00 L118.16,309.80 L118.06,310.60 L117.91,311.40 L117.76,312.20 L117.52,313.00 L117.22,313.80 L116.97,314.60 L116.72,315.40 L116.53,316.20 L116.53,317.00 L116.69,317.80 L116.91,318.60 L117.08,319.40 L117.24,320.20 L117.40,321.00 L117.55,321.80 L117.70,322.60 L102.70,322.60 L102.85,321.80 L103.00,321.00 L103.16,320.20 L103.32,319.40 L103.49,318.60 L103.71,317.80 L103.87,317.00 L103.87,316.20 L103.68,315.40 L103.43,314.60 L103.18,313.80 L102.88,313.00 L102.64,312.20 L102.49,311.40 L102.34,310.60 L102.24,309.80 L102.20,309.00 L102.24,308.20 L102.34,307.40 L102.49,306.60 L102.64,305.80 L102.87,305.00 L103.17,304.20 L103.47,303.40 L103.73,302.60 L104.02,301.80 L104.28,301.00 L104.47,300.20 L104.58,299.40 L104.66,298.60 L104.70,297.80 L104.65,297.00 L104.50,296.20 L104.30,295.40 L104.09,294.60 L103.83,293.80 L103.56,293.00 L103.31,292.20 L103.10,291.40 L102.90,290.60 Z" stroke="#b31b1b" stroke-width="1.4" fill="none" stroke-linejoin="round"/>
<line x1="102.20" y1="309.00" x2="118.20" y2="309.00" stroke="#e09090" stroke-width="1.1"/>
<circle cx="110.20" cy="290.60" r="2.4" fill="#b31b1b"/>
<circle cx="110.20" cy="309.00" r="2.4" fill="#b31b1b"/>
<circle cx="110.20" cy="322.60" r="2.4" fill="#b31b1b"/>
<text x="62.50" y="371.00" font-size="10.2" font-weight="bold" text-anchor="end" transform="rotate(-45 62.50 371.00)" stroke="#000" stroke-width="0.22">Ceritinib</text>
<text x="88.00" y="371.00" font-size="10.2" font-weight="bold" text-anchor="end" transform="rotate(-45 88.00 371.00)" stroke="#000" stroke-width="0.22">Bortezomib</text>
<text x="109.00" y="371.00" font-size="10.2" font-weight="bold" text-anchor="end" transform="rotate(-45 109.00 371.00)" stroke="#000" stroke-width="0.22">Ceritinib +</text>
<text x="119.50" y="381.00" font-size="10.2" font-weight="bold" text-anchor="end" transform="rotate(-45 119.50 381.00)" stroke="#000" stroke-width="0.22">Bortezomib</text>
<line x1="170.50" y1="229.00" x2="170.50" y2="358.10" stroke="#000" stroke-width="1.4"/>
<line x1="165.30" y1="357.40" x2="170.50" y2="357.40" stroke="#000" stroke-width="1.4"/>
<text x="164.30" y="360.82" font-size="9.5" font-weight="bold" text-anchor="end">0</text>
<line x1="165.30" y1="325.24" x2="170.50" y2="325.24" stroke="#000" stroke-width="1.4"/>
<text x="164.30" y="328.66" font-size="9.5" font-weight="bold" text-anchor="end">20</text>
<line x1="165.30" y1="293.08" x2="170.50" y2="293.08" stroke="#000" stroke-width="1.4"/>
<text x="164.30" y="296.50" font-size="9.5" font-weight="bold" text-anchor="end">40</text>
<line x1="165.30" y1="260.92" x2="170.50" y2="260.92" stroke="#000" stroke-width="1.4"/>
<text x="164.30" y="264.34" font-size="9.5" font-weight="bold" text-anchor="end">60</text>
<line x1="165.30" y1="228.76" x2="170.50" y2="228.76" stroke="#000" stroke-width="1.4"/>
<text x="164.30" y="232.18" font-size="9.5" font-weight="bold" text-anchor="end">80</text>
<line x1="169.80" y1="357.40" x2="257.00" y2="357.40" stroke="#000" stroke-width="1.4"/>
<line x1="187.60" y1="357.40" x2="187.60" y2="362.40" stroke="#000" stroke-width="1.4"/>
<line x1="213.00" y1="357.40" x2="213.00" y2="362.40" stroke="#000" stroke-width="1.4"/>
<line x1="238.70" y1="357.40" x2="238.70" y2="362.40" stroke="#000" stroke-width="1.4"/>
<text x="145.60" y="293.80" font-size="10.5" font-weight="bold" text-anchor="middle" transform="rotate(-90 145.60 293.80)" stroke="#000" stroke-width="0.22">% viable MM cells</text>
<line x1="187.60" y1="232.00" x2="239.00" y2="232.00" stroke="#000" stroke-width="1.4"/>
<line x1="213.40" y1="247.40" x2="239.00" y2="247.40" stroke="#000" stroke-width="1.4"/>
<line x1="213.00" y1="220.60" x2="213.00" y2="226.60" stroke="#000" stroke-width="1.4"/>
<line x1="210.40" y1="222.10" x2="215.60" y2="225.10" stroke="#000" stroke-width="1.4"/>
<line x1="210.40" y1="225.10" x2="215.60" y2="222.10" stroke="#000" stroke-width="1.4"/>
<circle cx="213.00" cy="223.60" r="1.1" fill="#000"/>
<line x1="226.00" y1="236.00" x2="226.00" y2="242.00" stroke="#000" stroke-width="1.4"/>
<line x1="223.40" y1="237.50" x2="228.60" y2="240.50" stroke="#000" stroke-width="1.4"/>
<line x1="223.40" y1="240.50" x2="228.60" y2="237.50" stroke="#000" stroke-width="1.4"/>
<circle cx="226.00" cy="239.00" r="1.1" fill="#000"/>
<path d="M194.90,243.80 L195.45,244.73 L195.49,245.66 L195.43,246.59 L195.35,247.52 L195.25,248.45 L195.11,249.38 L194.94,250.31 L194.74,251.24 L194.53,252.17 L194.31,253.10 L194.06,254.03 L193.80,254.96 L193.53,255.89 L193.26,256.82 L192.98,257.75 L192.70,258.68 L192.42,259.61 L192.13,260.54 L191.83,261.47 L191.53,262.40 L191.26,263.33 L191.04,264.26 L190.83,265.19 L190.62,266.12 L190.44,267.05 L190.33,267.98 L190.30,268.91 L190.35,269.84 L190.45,270.77 L190.56,271.70 L190.68,272.63 L190.83,273.56 L191.00,274.49 L191.17,275.42 L191.32,276.35 L191.50,277.28 L191.65,278.21 L191.70,279.14 L191.64,280.07 L191.50,281.00 L183.10,281.00 L182.96,280.07 L182.90,279.14 L182.95,278.21 L183.10,277.28 L183.28,276.35 L183.43,275.42 L183.60,274.49 L183.77,273.56 L183.92,272.63 L184.04,271.70 L184.15,270.77 L184.25,269.84 L184.30,268.91 L184.27,267.98 L184.16,267.05 L183.98,266.12 L183.77,265.19 L183.56,264.26 L183.34,263.33 L183.07,262.40 L182.77,261.47 L182.47,260.54 L182.18,259.61 L181.90,258.68 L181.62,257.75 L181.34,256.82 L181.07,255.89 L180.80,254.96 L180.54,254.03 L180.29,253.10 L180.07,252.17 L179.86,251.24 L179.66,250.31 L179.49,249.38 L179.35,248.45 L179.25,247.52 L179.17,246.59 L179.11,245.66 L179.15,244.73 L179.70,243.80 Z" stroke="#39d339" stroke-width="1.4" fill="none" stroke-linejoin="round"/>
<line x1="180.10" y1="252.30" x2="194.50" y2="252.30" stroke="#39d339" stroke-width="1.2"/>
<line x1="183.30" y1="276.20" x2="191.30" y2="276.20" stroke="#39d339" stroke-width="1.0"/>
<circle cx="183.60" cy="247.60" r="2.3" fill="#39d339"/>
<circle cx="191.40" cy="244.00" r="2.3" fill="#39d339"/>
<circle cx="187.00" cy="259.20" r="2.3" fill="#39d339"/>
<circle cx="187.30" cy="280.60" r="2.3" fill="#39d339"/>
<path d="M220.80,257.00 L221.09,257.52 L221.19,258.05 L221.19,258.57 L220.89,259.10 L220.35,259.62 L219.89,260.15 L219.49,260.68 L219.10,261.20 L218.72,261.73 L218.34,262.25 L217.96,262.77 L217.57,263.30 L217.16,263.82 L216.74,264.35 L216.33,264.88 L215.96,265.40 L215.64,265.93 L215.36,266.45 L215.07,266.98 L214.79,267.50 L214.53,268.02 L214.30,268.55 L214.13,269.07 L214.03,269.60 L214.00,270.12 L214.04,270.65 L214.13,271.18 L214.25,271.70 L214.39,272.23 L214.53,272.75 L214.68,273.27 L214.88,273.80 L215.12,274.32 L215.36,274.85 L215.59,275.38 L215.77,275.90 L215.91,276.43 L216.02,276.95 L216.12,277.48 L216.20,278.00 L209.40,278.00 L209.48,277.48 L209.58,276.95 L209.69,276.43 L209.83,275.90 L210.01,275.38 L210.24,274.85 L210.48,274.32 L210.72,273.80 L210.92,273.27 L211.07,272.75 L211.21,272.23 L211.35,271.70 L211.47,271.18 L211.56,270.65 L211.60,270.12 L211.57,269.60 L211.47,269.07 L211.30,268.55 L211.07,268.02 L210.81,267.50 L210.53,266.98 L210.24,266.45 L209.96,265.93 L209.64,265.40 L209.27,264.88 L208.86,264.35 L208.44,263.82 L208.03,263.30 L207.64,262.77 L207.26,262.25 L206.88,261.73 L206.50,261.20 L206.11,260.68 L205.71,260.15 L205.25,259.62 L204.71,259.10 L204.41,258.57 L204.41,258.05 L204.51,257.52 L204.80,257.00 Z" stroke="#a3a3a3" stroke-width="1.4" fill="none" stroke-linejoin="round"/>
<line x1="204.81" y1="259.20" x2="220.79" y2="259.20" stroke="#a3a3a3" stroke-width="1.1"/>
<circle cx="205.90" cy="257.60" r="2.3" fill="#a3a3a3"/>
<circle cx="219.70" cy="257.60" r="2.3" fill="#a3a3a3"/>
<circle cx="212.80" cy="261.70" r="2.3" fill="#a3a3a3"/>
<circle cx="212.80" cy="277.50" r="2.3" fill="#a3a3a3"/>
<path d="M246.50,288.10 L246.47,288.48 L246.38,288.86 L246.25,289.23 L246.09,289.61 L245.91,289.99 L245.65,290.37 L245.28,290.74 L244.83,291.12 L244.34,291.50 L243.85,291.88 L243.38,292.25 L242.86,292.63 L242.32,293.01 L241.80,293.38 L241.34,293.76 L240.97,294.14 L240.61,294.52 L240.27,294.89 L240.02,295.27 L239.90,295.65 L239.96,296.03 L240.16,296.41 L240.45,296.78 L240.79,297.16 L241.13,297.54 L241.53,297.92 L242.02,298.29 L242.55,298.67 L243.09,299.05 L243.60,299.43 L244.10,299.80 L244.63,300.18 L245.15,300.56 L245.62,300.94 L245.98,301.31 L246.20,301.69 L246.39,302.07 L246.55,302.44 L246.66,302.82 L246.70,303.20 L231.10,303.20 L231.14,302.82 L231.25,302.44 L231.41,302.07 L231.60,301.69 L231.82,301.31 L232.18,300.94 L232.65,300.56 L233.17,300.18 L233.70,299.80 L234.20,299.43 L234.71,299.05 L235.25,298.67 L235.78,298.29 L236.27,297.92 L236.67,297.54 L237.01,297.16 L237.35,296.78 L237.64,296.41 L237.84,296.03 L237.90,295.65 L237.78,295.27 L237.53,294.89 L237.19,294.52 L236.83,294.14 L236.46,293.76 L236.00,293.38 L235.48,293.01 L234.94,292.63 L234.42,292.25 L233.95,291.88 L233.46,291.50 L232.97,291.12 L232.52,290.74 L232.15,290.37 L231.89,289.99 L231.71,289.61 L231.55,289.23 L231.42,288.86 L231.33,288.48 L231.30,288.10 Z" stroke="#ee9a9a" stroke-width="1.4" fill="none" stroke-linejoin="round"/>
<circle cx="233.50" cy="289.60" r="2.3" fill="#ee9a9a"/>
<circle cx="243.30" cy="288.80" r="2.3" fill="#ee9a9a"/>
<circle cx="234.60" cy="302.30" r="2.3" fill="#ee9a9a"/>
<circle cx="242.60" cy="302.00" r="2.3" fill="#ee9a9a"/>
<text x="190.50" y="371.00" font-size="10.2" font-weight="bold" text-anchor="end" transform="rotate(-45 190.50 371.00)" stroke="#000" stroke-width="0.22">Entrectinib</text>
<text x="215.50" y="371.50" font-size="10.2" font-weight="bold" text-anchor="end" transform="rotate(-45 215.50 371.50)" stroke="#000" stroke-width="0.22">Bortezomib</text>
<text x="234.00" y="372.50" font-size="10.2" font-weight="bold" text-anchor="end" transform="rotate(-45 234.00 372.50)" stroke="#000" stroke-width="0.22">Entrectinib +</text>
<text x="247.50" y="381.00" font-size="10.2" font-weight="bold" text-anchor="end" transform="rotate(-45 247.50 381.00)" stroke="#000" stroke-width="0.22">Bortezomib</text>
<path d="M323.70,232.40 L324.60,232.40 L325.50,232.40 L326.41,232.40 L327.31,232.40 L328.21,232.40 L329.11,232.40 L330.01,232.40 L330.91,232.40 L331.82,232.40 L332.72,232.40 L333.62,232.40 L334.52,232.40 L335.42,232.40 L336.33,232.40 L337.23,232.40 L338.13,232.40 L339.03,232.40 L339.93,232.40 L340.84,232.40 L341.74,232.41 L342.64,232.41 L343.54,232.41 L344.44,232.41 L345.34,232.41 L346.25,232.41 L347.15,232.41 L348.05,232.41 L348.95,232.41 L349.85,232.41 L350.76,232.41 L351.66,232.41 L352.56,232.41 L353.46,232.41 L354.36,232.42 L355.27,232.42 L356.17,232.42 L357.07,232.42 L357.97,232.42 L358.87,232.42 L359.77,232.42 L360.68,232.42 L361.58,232.42 L362.48,232.42 L363.38,232.43 L364.28,232.43 L365.19,232.43 L366.09,232.43 L366.99,232.43 L367.89,232.43 L368.79,232.43 L369.70,232.44 L370.60,232.44 L371.50,232.44 L372.40,232.44 L373.30,232.44 L374.20,232.44 L375.11,232.44 L376.01,232.45 L376.91,232.45 L377.81,232.45 L378.71,232.45 L379.62,232.45 L380.52,232.45 L381.42,232.46 L382.32,232.46 L383.22,232.46 L384.13,232.46 L385.03,232.46 L385.93,232.47 L386.83,232.47 L387.73,232.47 L388.63,232.47 L389.54,232.47 L390.44,232.48 L391.34,232.48 L392.24,232.48 L393.14,232.48 L394.05,232.48 L394.95,232.49 L395.85,232.49 L396.75,232.49 L397.65,232.49 L398.56,232.50 L399.46,232.50 L400.36,232.50 L401.26,232.50 L402.16,232.51 L403.06,232.51 L403.97,232.51 L404.87,232.52 L405.77,232.52 L406.67,232.52 L407.57,232.53 L408.48,232.53 L409.38,232.54 L410.28,232.55 L411.18,232.55 L412.08,232.56 L412.99,232.57 L413.89,232.58 L414.79,232.59 L415.69,232.60 L416.59,232.62 L417.50,232.63 L418.40,232.64 L419.30,232.66 L420.20,232.68 L421.10,232.70 L422.00,232.72 L422.91,232.74 L423.81,232.76 L424.71,232.78 L425.61,232.82 L426.51,233.03 L427.42,233.43 L428.32,234.00 L429.22,234.73 L430.12,235.59 L431.02,236.57 L431.92,237.63 L432.83,239.20 L433.73,241.51 L434.63,244.38 L435.53,247.68 L436.43,251.90 L437.34,257.27 L438.24,263.95 L439.14,273.38 L440.04,285.63 L440.94,303.60 L441.85,321.67 L442.75,337.55 L443.65,344.11 L444.55,348.49 L445.45,351.21 L446.36,352.28 L447.26,352.92 L448.16,353.44 L449.06,353.85 L449.96,354.15 L450.86,354.36 L451.77,354.48 L452.67,354.54 L453.57,354.60 L454.47,354.65 L455.37,354.70 L456.28,354.74 L457.18,354.78 L458.08,354.82 L458.98,354.85 L459.88,354.88 L460.78,354.91 L461.69,354.93 L462.59,354.95 L463.49,354.96 L464.39,354.98 L465.29,354.99 L466.20,354.99 L467.10,355.00 L468.00,355.00" stroke="#2b6b58" stroke-width="1.35" fill="none" stroke-linejoin="round"/>
<path d="M323.70,233.80 L324.60,233.81 L325.50,233.82 L326.41,233.83 L327.31,233.84 L328.21,233.85 L329.11,233.87 L330.01,233.88 L330.91,233.89 L331.82,233.91 L332.72,233.92 L333.62,233.93 L334.52,233.95 L335.42,233.96 L336.33,233.98 L337.23,234.00 L338.13,234.01 L339.03,234.03 L339.93,234.05 L340.84,234.06 L341.74,234.08 L342.64,234.10 L343.54,234.12 L344.44,234.14 L345.34,234.16 L346.25,234.17 L347.15,234.19 L348.05,234.21 L348.95,234.23 L349.85,234.25 L350.76,234.28 L351.66,234.30 L352.56,234.32 L353.46,234.34 L354.36,234.36 L355.27,234.38 L356.17,234.40 L357.07,234.43 L357.97,234.45 L358.87,234.47 L359.77,234.49 L360.68,234.52 L361.58,234.54 L362.48,234.56 L363.38,234.58 L364.28,234.60 L365.19,234.62 L366.09,234.64 L366.99,234.66 L367.89,234.69 L368.79,234.71 L369.70,234.73 L370.60,234.75 L371.50,234.77 L372.40,234.79 L373.30,234.81 L374.20,234.83 L375.11,234.86 L376.01,234.88 L376.91,234.90 L377.81,234.93 L378.71,234.96 L379.62,234.98 L380.52,235.01 L381.42,235.04 L382.32,235.07 L383.22,235.10 L384.13,235.13 L385.03,235.17 L385.93,235.20 L386.83,235.24 L387.73,235.28 L388.63,235.32 L389.54,235.36 L390.44,235.40 L391.34,235.45 L392.24,235.50 L393.14,235.55 L394.05,235.60 L394.95,235.65 L395.85,235.71 L396.75,235.77 L397.65,235.83 L398.56,235.89 L399.46,235.96 L400.36,236.03 L401.26,236.14 L402.16,236.29 L403.06,236.47 L403.97,236.69 L404.87,236.94 L405.77,237.23 L406.67,237.54 L407.57,237.87 L408.48,238.23 L409.38,238.61 L410.28,239.01 L411.18,239.42 L412.08,239.84 L412.99,240.27 L413.89,240.71 L414.79,241.15 L415.69,241.60 L416.59,242.05 L417.50,242.51 L418.40,243.00 L419.30,243.52 L420.20,244.07 L421.10,244.65 L422.00,245.27 L422.91,245.91 L423.81,246.59 L424.71,247.31 L425.61,248.06 L426.51,248.84 L427.42,249.66 L428.32,250.52 L429.22,251.45 L430.12,252.51 L431.02,253.69 L431.92,254.97 L432.83,256.32 L433.73,257.73 L434.63,259.16 L435.53,260.59 L436.43,262.01 L437.34,263.34 L438.24,264.61 L439.14,265.87 L440.04,267.19 L440.94,268.61 L441.85,270.19 L442.75,272.01 L443.65,274.10 L444.55,276.81 L445.45,280.90 L446.36,285.55 L447.26,289.82 L448.16,293.50 L449.06,297.12 L449.96,300.67 L450.86,304.11 L451.77,307.43 L452.67,310.61 L453.57,313.62 L454.47,316.44 L455.37,319.07 L456.28,321.63 L457.18,324.14 L458.08,326.59 L458.98,328.99 L459.88,331.31 L460.78,333.56 L461.69,335.73 L462.59,337.80 L463.49,339.78 L464.39,341.66 L465.29,343.43 L466.20,345.08 L467.10,346.60 L468.00,348.00" stroke="#d7ac2a" stroke-width="1.35" fill="none" stroke-linejoin="round"/>
<path d="M323.70,239.50 L324.60,239.50 L325.50,239.50 L326.41,239.50 L327.31,239.50 L328.21,239.50 L329.11,239.50 L330.01,239.50 L330.91,239.50 L331.82,239.50 L332.72,239.50 L333.62,239.50 L334.52,239.50 L335.42,239.50 L336.33,239.50 L337.23,239.50 L338.13,239.50 L339.03,239.50 L339.93,239.50 L340.84,239.51 L341.74,239.51 L342.64,239.51 L343.54,239.51 L344.44,239.51 L345.34,239.51 L346.25,239.51 L347.15,239.51 L348.05,239.51 L348.95,239.51 L349.85,239.51 L350.76,239.51 L351.66,239.51 L352.56,239.51 L353.46,239.52 L354.36,239.52 L355.27,239.52 L356.17,239.52 L357.07,239.52 L357.97,239.52 L358.87,239.52 L359.77,239.52 L360.68,239.52 L361.58,239.53 L362.48,239.53 L363.38,239.53 L364.28,239.53 L365.19,239.53 L366.09,239.53 L366.99,239.53 L367.89,239.53 L368.79,239.54 L369.70,239.54 L370.60,239.54 L371.50,239.54 L372.40,239.54 L373.30,239.54 L374.20,239.54 L375.11,239.55 L376.01,239.55 L376.91,239.55 L377.81,239.55 L378.71,239.55 L379.62,239.55 L380.52,239.56 L381.42,239.56 L382.32,239.56 L383.22,239.56 L384.13,239.56 L385.03,239.57 L385.93,239.57 L386.83,239.57 L387.73,239.57 L388.63,239.57 L389.54,239.57 L390.44,239.58 L391.34,239.58 L392.24,239.58 L393.14,239.58 L394.05,239.59 L394.95,239.59 L395.85,239.59 L396.75,239.59 L397.65,239.59 L398.56,239.60 L399.46,239.60 L400.36,239.60 L401.26,239.60 L402.16,239.61 L403.06,239.61 L403.97,239.61 L404.87,239.61 L405.77,239.62 L406.67,239.62 L407.57,239.62 L408.48,239.63 L409.38,239.63 L410.28,239.64 L411.18,239.64 L412.08,239.65 L412.99,239.65 L413.89,239.66 L414.79,239.67 L415.69,239.67 L416.59,239.68 L417.50,239.69 L418.40,239.70 L419.30,239.71 L420.20,239.72 L421.10,239.74 L422.00,239.75 L422.91,239.76 L423.81,239.78 L424.71,239.79 L425.61,239.83 L426.51,239.95 L427.42,240.15 L428.32,240.43 L429.22,240.79 L430.12,241.21 L431.02,241.70 L431.92,242.26 L432.83,242.88 L433.73,243.78 L434.63,245.36 L435.53,247.48 L436.43,250.02 L437.34,252.84 L438.24,255.82 L439.14,259.57 L440.04,264.09 L440.94,269.05 L441.85,274.14 L442.75,279.51 L443.65,285.57 L444.55,291.68 L445.45,297.20 L446.36,301.65 L447.26,305.89 L448.16,309.94 L449.06,313.49 L449.96,316.23 L450.86,317.87 L451.77,318.61 L452.67,319.24 L453.57,319.74 L454.47,320.11 L455.37,320.34 L456.28,320.41 L457.18,320.44 L458.08,320.47 L458.98,320.49 L459.88,320.51 L460.78,320.53 L461.69,320.55 L462.59,320.56 L463.49,320.58 L464.39,320.58 L465.29,320.59 L466.20,320.60 L467.10,320.60 L468.00,320.60" stroke="#8c2466" stroke-width="1.35" fill="none" stroke-linejoin="round"/>
<path d="M323.70,238.90 L324.60,238.90 L325.50,238.90 L326.41,238.90 L327.31,238.90 L328.21,238.90 L329.11,238.90 L330.01,238.90 L330.91,238.90 L331.82,238.90 L332.72,238.90 L333.62,238.90 L334.52,238.91 L335.42,238.91 L336.33,238.91 L337.23,238.91 L338.13,238.91 L339.03,238.91 L339.93,238.91 L340.84,238.91 L341.74,238.92 L342.64,238.92 L343.54,238.92 L344.44,238.92 L345.34,238.92 L346.25,238.93 L347.15,238.93 L348.05,238.93 L348.95,238.93 L349.85,238.93 L350.76,238.94 L351.66,238.94 L352.56,238.94 L353.46,238.94 L354.36,238.95 L355.27,238.95 L356.17,238.95 L357.07,238.96 L357.97,238.96 L358.87,238.96 L359.77,238.97 L360.68,238.97 L361.58,238.97 L362.48,238.98 L363.38,238.98 L364.28,238.98 L365.19,238.99 L366.09,238.99 L366.99,238.99 L367.89,239.00 L368.79,239.00 L369.70,239.01 L370.60,239.01 L371.50,239.02 L372.40,239.02 L373.30,239.02 L374.20,239.03 L375.11,239.03 L376.01,239.04 L376.91,239.04 L377.81,239.05 L378.71,239.05 L379.62,239.06 L380.52,239.06 L381.42,239.07 L382.32,239.07 L383.22,239.08 L384.13,239.09 L385.03,239.09 L385.93,239.10 L386.83,239.10 L387.73,239.11 L388.63,239.12 L389.54,239.12 L390.44,239.13 L391.34,239.13 L392.24,239.14 L393.14,239.15 L394.05,239.15 L394.95,239.16 L395.85,239.17 L396.75,239.17 L397.65,239.18 L398.56,239.19 L399.46,239.20 L400.36,239.20 L401.26,239.21 L402.16,239.22 L403.06,239.23 L403.97,239.24 L404.87,239.25 L405.77,239.27 L406.67,239.28 L407.57,239.30 L408.48,239.31 L409.38,239.33 L410.28,239.35 L411.18,239.37 L412.08,239.40 L412.99,239.42 L413.89,239.45 L414.79,239.48 L415.69,239.52 L416.59,239.55 L417.50,239.59 L418.40,239.63 L419.30,239.67 L420.20,239.71 L421.10,239.76 L422.00,239.81 L422.91,239.86 L423.81,239.92 L424.71,239.98 L425.61,240.06 L426.51,240.19 L427.42,240.39 L428.32,240.66 L429.22,241.00 L430.12,241.41 L431.02,241.89 L431.92,242.46 L432.83,243.10 L433.73,243.83 L434.63,244.64 L435.53,245.73 L436.43,247.87 L437.34,251.13 L438.24,255.48 L439.14,261.04 L440.04,272.99 L440.94,289.02 L441.85,307.30 L442.75,324.04 L443.65,337.19 L444.55,342.60 L445.45,346.04 L446.36,348.56 L447.26,350.22 L448.16,351.11 L449.06,351.71 L449.96,352.23 L450.86,352.68 L451.77,353.05 L452.67,353.37 L453.57,353.61 L454.47,353.80 L455.37,353.94 L456.28,354.02 L457.18,354.09 L458.08,354.15 L458.98,354.21 L459.88,354.26 L460.78,354.31 L461.69,354.36 L462.59,354.39 L463.49,354.43 L464.39,354.45 L465.29,354.47 L466.20,354.49 L467.10,354.50 L468.00,354.50" stroke="#1f6457" stroke-width="1.35" fill="none" stroke-linejoin="round"/>
<path d="M323.70,240.40 L324.60,240.40 L325.50,240.40 L326.41,240.40 L327.31,240.41 L328.21,240.41 L329.11,240.42 L330.01,240.42 L330.91,240.43 L331.82,240.43 L332.72,240.44 L333.62,240.45 L334.52,240.46 L335.42,240.47 L336.33,240.48 L337.23,240.49 L338.13,240.50 L339.03,240.52 L339.93,240.53 L340.84,240.54 L341.74,240.56 L342.64,240.58 L343.54,240.59 L344.44,240.61 L345.34,240.63 L346.25,240.65 L347.15,240.66 L348.05,240.68 L348.95,240.70 L349.85,240.73 L350.76,240.75 L351.66,240.77 L352.56,240.79 L353.46,240.81 L354.36,240.84 L355.27,240.86 L356.17,240.89 L357.07,240.91 L357.97,240.94 L358.87,240.97 L359.77,240.99 L360.68,241.02 L361.58,241.06 L362.48,241.10 L363.38,241.15 L364.28,241.20 L365.19,241.26 L366.09,241.33 L366.99,241.40 L367.89,241.48 L368.79,241.56 L369.70,241.65 L370.60,241.75 L371.50,241.85 L372.40,241.95 L373.30,242.06 L374.20,242.17 L375.11,242.29 L376.01,242.41 L376.91,242.54 L377.81,242.67 L378.71,242.80 L379.62,242.94 L380.52,243.08 L381.42,243.25 L382.32,243.44 L383.22,243.64 L384.13,243.87 L385.03,244.11 L385.93,244.38 L386.83,244.66 L387.73,244.96 L388.63,245.27 L389.54,245.60 L390.44,245.94 L391.34,246.30 L392.24,246.67 L393.14,247.06 L394.05,247.45 L394.95,247.86 L395.85,248.27 L396.75,248.70 L397.65,249.13 L398.56,249.58 L399.46,250.03 L400.36,250.49 L401.26,250.98 L402.16,251.52 L403.06,252.10 L403.97,252.71 L404.87,253.36 L405.77,254.04 L406.67,254.75 L407.57,255.49 L408.48,256.25 L409.38,257.04 L410.28,257.84 L411.18,258.67 L412.08,259.53 L412.99,260.43 L413.89,261.37 L414.79,262.35 L415.69,263.38 L416.59,264.45 L417.50,265.55 L418.40,266.70 L419.30,267.89 L420.20,269.12 L421.10,270.39 L422.00,271.71 L422.91,273.12 L423.81,274.69 L424.71,276.36 L425.61,278.11 L426.51,279.90 L427.42,281.69 L428.32,283.45 L429.22,285.14 L430.12,286.73 L431.02,288.29 L431.92,289.81 L432.83,291.31 L433.73,292.79 L434.63,294.27 L435.53,295.73 L436.43,297.19 L437.34,298.64 L438.24,300.11 L439.14,301.58 L440.04,303.07 L440.94,304.57 L441.85,306.07 L442.75,307.58 L443.65,309.10 L444.55,310.62 L445.45,312.13 L446.36,313.65 L447.26,315.17 L448.16,316.69 L449.06,318.20 L449.96,319.71 L450.86,321.21 L451.77,322.71 L452.67,324.20 L453.57,325.68 L454.47,327.14 L455.37,328.60 L456.28,330.05 L457.18,331.50 L458.08,332.94 L458.98,334.37 L459.88,335.80 L460.78,337.22 L461.69,338.64 L462.59,340.05 L463.49,341.46 L464.39,342.86 L465.29,344.25 L466.20,345.64 L467.10,347.02 L468.00,348.40" stroke="#f07f1c" stroke-width="1.35" fill="none" stroke-linejoin="round"/>
<path d="M323.70,250.60 L324.60,250.60 L325.50,250.60 L326.41,250.61 L327.31,250.61 L328.21,250.62 L329.11,250.63 L330.01,250.63 L330.91,250.64 L331.82,250.66 L332.72,250.67 L333.62,250.68 L334.52,250.70 L335.42,250.71 L336.33,250.73 L337.23,250.75 L338.13,250.77 L339.03,250.79 L339.93,250.81 L340.84,250.84 L341.74,250.86 L342.64,250.89 L343.54,250.91 L344.44,250.94 L345.34,250.97 L346.25,251.00 L347.15,251.03 L348.05,251.06 L348.95,251.09 L349.85,251.12 L350.76,251.15 L351.66,251.19 L352.56,251.22 L353.46,251.26 L354.36,251.29 L355.27,251.33 L356.17,251.36 L357.07,251.40 L357.97,251.44 L358.87,251.48 L359.77,251.52 L360.68,251.56 L361.58,251.60 L362.48,251.64 L363.38,251.68 L364.28,251.72 L365.19,251.77 L366.09,251.81 L366.99,251.85 L367.89,251.90 L368.79,251.94 L369.70,251.98 L370.60,252.03 L371.50,252.07 L372.40,252.12 L373.30,252.16 L374.20,252.21 L375.11,252.25 L376.01,252.30 L376.91,252.34 L377.81,252.39 L378.71,252.43 L379.62,252.48 L380.52,252.53 L381.42,252.57 L382.32,252.62 L383.22,252.67 L384.13,252.73 L385.03,252.78 L385.93,252.84 L386.83,252.89 L387.73,252.95 L388.63,253.02 L389.54,253.08 L390.44,253.15 L391.34,253.23 L392.24,253.30 L393.14,253.38 L394.05,253.46 L394.95,253.55 L395.85,253.64 L396.75,253.73 L397.65,253.83 L398.56,253.93 L399.46,254.03 L400.36,254.15 L401.26,254.27 L402.16,254.40 L403.06,254.55 L403.97,254.71 L404.87,254.89 L405.77,255.07 L406.67,255.27 L407.57,255.48 L408.48,255.70 L409.38,255.93 L410.28,256.17 L411.18,256.42 L412.08,256.69 L412.99,256.96 L413.89,257.24 L414.79,257.53 L415.69,257.84 L416.59,258.15 L417.50,258.47 L418.40,258.79 L419.30,259.13 L420.20,259.47 L421.10,259.83 L422.00,260.19 L422.91,260.56 L423.81,260.93 L424.71,261.31 L425.61,261.70 L426.51,262.09 L427.42,262.50 L428.32,262.90 L429.22,263.31 L430.12,263.73 L431.02,264.16 L431.92,264.58 L432.83,265.02 L433.73,265.46 L434.63,265.95 L435.53,266.47 L436.43,267.02 L437.34,267.60 L438.24,268.22 L439.14,268.86 L440.04,269.52 L440.94,270.21 L441.85,270.92 L442.75,271.65 L443.65,272.40 L444.55,273.16 L445.45,273.94 L446.36,274.73 L447.26,275.53 L448.16,276.33 L449.06,277.15 L449.96,277.97 L450.86,278.81 L451.77,279.69 L452.67,280.62 L453.57,281.57 L454.47,282.56 L455.37,283.56 L456.28,284.59 L457.18,285.63 L458.08,286.67 L458.98,287.72 L459.88,288.76 L460.78,289.82 L461.69,290.89 L462.59,291.98 L463.49,293.08 L464.39,294.20 L465.29,295.33 L466.20,296.47 L467.10,297.63 L468.00,298.80" stroke="#6a1e8e" stroke-width="1.35" fill="none" stroke-linejoin="round"/>
<path d="M323.70,251.30 L324.60,251.30 L325.50,251.30 L326.41,251.31 L327.31,251.31 L328.21,251.32 L329.11,251.33 L330.01,251.34 L330.91,251.35 L331.82,251.36 L332.72,251.37 L333.62,251.39 L334.52,251.40 L335.42,251.42 L336.33,251.44 L337.23,251.46 L338.13,251.48 L339.03,251.50 L339.93,251.53 L340.84,251.55 L341.74,251.58 L342.64,251.61 L343.54,251.64 L344.44,251.67 L345.34,251.70 L346.25,251.74 L347.15,251.77 L348.05,251.81 L348.95,251.85 L349.85,251.89 L350.76,251.93 L351.66,251.97 L352.56,252.01 L353.46,252.06 L354.36,252.10 L355.27,252.15 L356.17,252.20 L357.07,252.25 L357.97,252.30 L358.87,252.35 L359.77,252.40 L360.68,252.46 L361.58,252.51 L362.48,252.57 L363.38,252.63 L364.28,252.69 L365.19,252.75 L366.09,252.81 L366.99,252.88 L367.89,252.94 L368.79,253.01 L369.70,253.07 L370.60,253.14 L371.50,253.21 L372.40,253.28 L373.30,253.35 L374.20,253.43 L375.11,253.50 L376.01,253.58 L376.91,253.65 L377.81,253.73 L378.71,253.81 L379.62,253.89 L380.52,253.97 L381.42,254.05 L382.32,254.14 L383.22,254.22 L384.13,254.31 L385.03,254.39 L385.93,254.48 L386.83,254.57 L387.73,254.66 L388.63,254.75 L389.54,254.85 L390.44,254.94 L391.34,255.03 L392.24,255.13 L393.14,255.23 L394.05,255.33 L394.95,255.42 L395.85,255.52 L396.75,255.63 L397.65,255.73 L398.56,255.83 L399.46,255.94 L400.36,256.04 L401.26,256.16 L402.16,256.30 L403.06,256.46 L403.97,256.63 L404.87,256.81 L405.77,257.01 L406.67,257.23 L407.57,257.46 L408.48,257.71 L409.38,257.97 L410.28,258.24 L411.18,258.53 L412.08,258.83 L412.99,259.14 L413.89,259.47 L414.79,259.81 L415.69,260.16 L416.59,260.52 L417.50,260.90 L418.40,261.29 L419.30,261.68 L420.20,262.09 L421.10,262.53 L422.00,263.01 L422.91,263.53 L423.81,264.10 L424.71,264.70 L425.61,265.35 L426.51,266.05 L427.42,266.79 L428.32,267.58 L429.22,268.42 L430.12,269.30 L431.02,270.24 L431.92,271.23 L432.83,272.27 L433.73,273.36 L434.63,274.51 L435.53,275.77 L436.43,277.35 L437.34,279.24 L438.24,281.36 L439.14,283.69 L440.04,286.15 L440.94,288.72 L441.85,291.32 L442.75,293.91 L443.65,296.44 L444.55,298.86 L445.45,301.14 L446.36,303.45 L447.26,305.80 L448.16,308.18 L449.06,310.56 L449.96,312.92 L450.86,315.25 L451.77,317.53 L452.67,319.74 L453.57,321.86 L454.47,323.88 L455.37,325.78 L456.28,327.63 L457.18,329.46 L458.08,331.25 L458.98,333.00 L459.88,334.72 L460.78,336.39 L461.69,338.02 L462.59,339.61 L463.49,341.14 L464.39,342.63 L465.29,344.06 L466.20,345.43 L467.10,346.75 L468.00,348.00" stroke="#7a2a7a" stroke-width="1.35" fill="none" stroke-linejoin="round"/>
<path d="M323.70,255.00 L324.60,255.00 L325.50,255.00 L326.41,255.00 L327.31,255.00 L328.21,255.01 L329.11,255.01 L330.01,255.02 L330.91,255.02 L331.82,255.02 L332.72,255.03 L333.62,255.04 L334.52,255.04 L335.42,255.05 L336.33,255.06 L337.23,255.07 L338.13,255.08 L339.03,255.09 L339.93,255.10 L340.84,255.11 L341.74,255.12 L342.64,255.14 L343.54,255.15 L344.44,255.17 L345.34,255.18 L346.25,255.20 L347.15,255.21 L348.05,255.23 L348.95,255.25 L349.85,255.27 L350.76,255.28 L351.66,255.30 L352.56,255.32 L353.46,255.35 L354.36,255.37 L355.27,255.39 L356.17,255.41 L357.07,255.44 L357.97,255.46 L358.87,255.49 L359.77,255.51 L360.68,255.54 L361.58,255.56 L362.48,255.59 L363.38,255.62 L364.28,255.65 L365.19,255.68 L366.09,255.71 L366.99,255.74 L367.89,255.77 L368.79,255.81 L369.70,255.84 L370.60,255.88 L371.50,255.91 L372.40,255.95 L373.30,255.98 L374.20,256.02 L375.11,256.06 L376.01,256.10 L376.91,256.14 L377.81,256.18 L378.71,256.22 L379.62,256.26 L380.52,256.30 L381.42,256.34 L382.32,256.39 L383.22,256.43 L384.13,256.48 L385.03,256.52 L385.93,256.57 L386.83,256.62 L387.73,256.67 L388.63,256.72 L389.54,256.76 L390.44,256.82 L391.34,256.87 L392.24,256.92 L393.14,256.97 L394.05,257.03 L394.95,257.08 L395.85,257.14 L396.75,257.19 L397.65,257.25 L398.56,257.31 L399.46,257.36 L400.36,257.43 L401.26,257.50 L402.16,257.59 L403.06,257.70 L403.97,257.83 L404.87,257.97 L405.77,258.13 L406.67,258.30 L407.57,258.49 L408.48,258.70 L409.38,258.92 L410.28,259.15 L411.18,259.40 L412.08,259.67 L412.99,259.95 L413.89,260.24 L414.79,260.55 L415.69,260.87 L416.59,261.20 L417.50,261.55 L418.40,261.91 L419.30,262.28 L420.20,262.66 L421.10,263.06 L422.00,263.47 L422.91,263.89 L423.81,264.32 L424.71,264.76 L425.61,265.22 L426.51,265.68 L427.42,266.16 L428.32,266.67 L429.22,267.26 L430.12,267.93 L431.02,268.68 L431.92,269.50 L432.83,270.39 L433.73,271.35 L434.63,272.37 L435.53,273.47 L436.43,274.62 L437.34,275.84 L438.24,277.12 L439.14,278.45 L440.04,279.84 L440.94,281.28 L441.85,282.78 L442.75,284.50 L443.65,286.54 L444.55,288.84 L445.45,291.35 L446.36,294.01 L447.26,296.75 L448.16,299.52 L449.06,302.25 L449.96,304.89 L450.86,307.53 L451.77,310.30 L452.67,313.16 L453.57,316.07 L454.47,319.00 L455.37,321.90 L456.28,324.74 L457.18,327.48 L458.08,330.09 L458.98,332.51 L459.88,334.73 L460.78,336.77 L461.69,338.74 L462.59,340.63 L463.49,342.43 L464.39,344.15 L465.29,345.77 L466.20,347.29 L467.10,348.70 L468.00,350.00" stroke="#e54b1f" stroke-width="1.35" fill="none" stroke-linejoin="round"/>
<path d="M323.70,257.10 L324.60,257.10 L325.50,257.10 L326.41,257.10 L327.31,257.10 L328.21,257.10 L329.11,257.10 L330.01,257.11 L330.91,257.11 L331.82,257.11 L332.72,257.11 L333.62,257.11 L334.52,257.12 L335.42,257.12 L336.33,257.12 L337.23,257.12 L338.13,257.13 L339.03,257.13 L339.93,257.14 L340.84,257.14 L341.74,257.14 L342.64,257.15 L343.54,257.15 L344.44,257.16 L345.34,257.16 L346.25,257.17 L347.15,257.18 L348.05,257.18 L348.95,257.19 L349.85,257.19 L350.76,257.20 L351.66,257.21 L352.56,257.22 L353.46,257.22 L354.36,257.23 L355.27,257.24 L356.17,257.25 L357.07,257.26 L357.97,257.27 L358.87,257.28 L359.77,257.28 L360.68,257.29 L361.58,257.30 L362.48,257.31 L363.38,257.33 L364.28,257.34 L365.19,257.35 L366.09,257.36 L366.99,257.37 L367.89,257.38 L368.79,257.39 L369.70,257.41 L370.60,257.42 L371.50,257.43 L372.40,257.45 L373.30,257.46 L374.20,257.47 L375.11,257.49 L376.01,257.50 L376.91,257.52 L377.81,257.53 L378.71,257.55 L379.62,257.56 L380.52,257.58 L381.42,257.60 L382.32,257.61 L383.22,257.63 L384.13,257.65 L385.03,257.66 L385.93,257.68 L386.83,257.70 L387.73,257.72 L388.63,257.74 L389.54,257.76 L390.44,257.78 L391.34,257.79 L392.24,257.81 L393.14,257.84 L394.05,257.86 L394.95,257.88 L395.85,257.90 L396.75,257.92 L397.65,257.94 L398.56,257.96 L399.46,257.99 L400.36,258.01 L401.26,258.04 L402.16,258.08 L403.06,258.14 L403.97,258.20 L404.87,258.27 L405.77,258.36 L406.67,258.45 L407.57,258.56 L408.48,258.67 L409.38,258.80 L410.28,258.94 L411.18,259.09 L412.08,259.25 L412.99,259.43 L413.89,259.61 L414.79,259.81 L415.69,260.02 L416.59,260.24 L417.50,260.47 L418.40,260.72 L419.30,260.98 L420.20,261.25 L421.10,261.54 L422.00,261.84 L422.91,262.15 L423.81,262.47 L424.71,262.81 L425.61,263.16 L426.51,263.53 L427.42,263.90 L428.32,264.30 L429.22,264.70 L430.12,265.12 L431.02,265.56 L431.92,266.01 L432.83,266.47 L433.73,266.95 L434.63,267.45 L435.53,267.96 L436.43,268.48 L437.34,269.29 L438.24,270.47 L439.14,271.96 L440.04,273.71 L440.94,275.64 L441.85,277.70 L442.75,279.82 L443.65,281.95 L444.55,284.01 L445.45,286.00 L446.36,288.11 L447.26,290.34 L448.16,292.67 L449.06,295.06 L449.96,297.48 L450.86,299.90 L451.77,302.28 L452.67,304.59 L453.57,306.79 L454.47,308.86 L455.37,310.78 L456.28,312.66 L457.18,314.52 L458.08,316.35 L458.98,318.14 L459.88,319.87 L460.78,321.53 L461.69,323.11 L462.59,324.59 L463.49,325.97 L464.39,327.23 L465.29,328.35 L466.20,329.35 L467.10,330.22 L468.00,331.00" stroke="#ff3a7a" stroke-width="1.35" fill="none" stroke-linejoin="round"/>
<path d="M323.70,259.10 L324.60,259.12 L325.50,259.13 L326.41,259.15 L327.31,259.17 L328.21,259.20 L329.11,259.22 L330.01,259.25 L330.91,259.28 L331.82,259.31 L332.72,259.35 L333.62,259.38 L334.52,259.42 L335.42,259.46 L336.33,259.50 L337.23,259.54 L338.13,259.59 L339.03,259.63 L339.93,259.68 L340.84,259.73 L341.74,259.78 L342.64,259.83 L343.54,259.88 L344.44,259.93 L345.34,259.99 L346.25,260.04 L347.15,260.10 L348.05,260.16 L348.95,260.22 L349.85,260.28 L350.76,260.34 L351.66,260.40 L352.56,260.46 L353.46,260.53 L354.36,260.59 L355.27,260.65 L356.17,260.72 L357.07,260.78 L357.97,260.85 L358.87,260.92 L359.77,260.98 L360.68,261.05 L361.58,261.12 L362.48,261.19 L363.38,261.26 L364.28,261.33 L365.19,261.41 L366.09,261.49 L366.99,261.57 L367.89,261.65 L368.79,261.73 L369.70,261.81 L370.60,261.90 L371.50,261.99 L372.40,262.08 L373.30,262.17 L374.20,262.27 L375.11,262.37 L376.01,262.47 L376.91,262.57 L377.81,262.67 L378.71,262.78 L379.62,262.89 L380.52,263.00 L381.42,263.12 L382.32,263.24 L383.22,263.36 L384.13,263.48 L385.03,263.61 L385.93,263.74 L386.83,263.87 L387.73,264.01 L388.63,264.15 L389.54,264.29 L390.44,264.44 L391.34,264.59 L392.24,264.74 L393.14,264.89 L394.05,265.05 L394.95,265.22 L395.85,265.38 L396.75,265.55 L397.65,265.73 L398.56,265.91 L399.46,266.09 L400.36,266.28 L401.26,266.48 L402.16,266.70 L403.06,266.94 L403.97,267.19 L404.87,267.46 L405.77,267.75 L406.67,268.05 L407.57,268.36 L408.48,268.69 L409.38,269.04 L410.28,269.39 L411.18,269.76 L412.08,270.14 L412.99,270.54 L413.89,270.94 L414.79,271.36 L415.69,271.78 L416.59,272.22 L417.50,272.66 L418.40,273.11 L419.30,273.58 L420.20,274.04 L421.10,274.52 L422.00,275.00 L422.91,275.49 L423.81,275.99 L424.71,276.50 L425.61,277.03 L426.51,277.58 L427.42,278.16 L428.32,278.76 L429.22,279.40 L430.12,280.07 L431.02,280.79 L431.92,281.55 L432.83,282.36 L433.73,283.22 L434.63,284.14 L435.53,285.12 L436.43,286.16 L437.34,287.44 L438.24,289.01 L439.14,290.82 L440.04,292.82 L440.94,294.97 L441.85,297.20 L442.75,299.47 L443.65,301.73 L444.55,303.94 L445.45,306.08 L446.36,308.33 L447.26,310.71 L448.16,313.16 L449.06,315.65 L449.96,318.13 L450.86,320.57 L451.77,322.92 L452.67,325.14 L453.57,327.19 L454.47,329.03 L455.37,330.65 L456.28,332.19 L457.18,333.71 L458.08,335.18 L458.98,336.61 L459.88,337.98 L460.78,339.30 L461.69,340.55 L462.59,341.74 L463.49,342.84 L464.39,343.86 L465.29,344.80 L466.20,345.64 L467.10,346.37 L468.00,347.00" stroke="#5a1a86" stroke-width="1.35" fill="none" stroke-linejoin="round"/>
<path d="M323.70,248.00 L324.60,248.00 L325.50,248.00 L326.41,248.00 L327.31,248.00 L328.21,248.00 L329.11,248.00 L330.01,248.00 L330.91,248.00 L331.82,248.00 L332.72,248.00 L333.62,248.00 L334.52,248.01 L335.42,248.01 L336.33,248.01 L337.23,248.01 L338.13,248.01 L339.03,248.01 L339.93,248.01 L340.84,248.01 L341.74,248.01 L342.64,248.02 L343.54,248.02 L344.44,248.02 L345.34,248.02 L346.25,248.02 L347.15,248.03 L348.05,248.03 L348.95,248.03 L349.85,248.03 L350.76,248.03 L351.66,248.04 L352.56,248.04 L353.46,248.04 L354.36,248.04 L355.27,248.05 L356.17,248.05 L357.07,248.05 L357.97,248.06 L358.87,248.06 L359.77,248.06 L360.68,248.06 L361.58,248.07 L362.48,248.07 L363.38,248.08 L364.28,248.08 L365.19,248.08 L366.09,248.09 L366.99,248.09 L367.89,248.09 L368.79,248.10 L369.70,248.10 L370.60,248.11 L371.50,248.11 L372.40,248.12 L373.30,248.12 L374.20,248.12 L375.11,248.13 L376.01,248.13 L376.91,248.14 L377.81,248.14 L378.71,248.15 L379.62,248.15 L380.52,248.16 L381.42,248.17 L382.32,248.17 L383.22,248.18 L384.13,248.18 L385.03,248.19 L385.93,248.19 L386.83,248.20 L387.73,248.21 L388.63,248.21 L389.54,248.22 L390.44,248.22 L391.34,248.23 L392.24,248.24 L393.14,248.24 L394.05,248.25 L394.95,248.26 L395.85,248.27 L396.75,248.27 L397.65,248.28 L398.56,248.29 L399.46,248.30 L400.36,248.30 L401.26,248.31 L402.16,248.32 L403.06,248.34 L403.97,248.35 L404.87,248.37 L405.77,248.39 L406.67,248.41 L407.57,248.44 L408.48,248.46 L409.38,248.49 L410.28,248.52 L411.18,248.56 L412.08,248.60 L412.99,248.64 L413.89,248.68 L414.79,248.73 L415.69,248.78 L416.59,248.83 L417.50,248.89 L418.40,248.95 L419.30,249.01 L420.20,249.08 L421.10,249.15 L422.00,249.22 L422.91,249.30 L423.81,249.38 L424.71,249.47 L425.61,249.58 L426.51,249.79 L427.42,250.09 L428.32,250.47 L429.22,250.93 L430.12,251.46 L431.02,252.04 L431.92,252.68 L432.83,253.36 L433.73,254.08 L434.63,254.83 L435.53,255.60 L436.43,256.40 L437.34,257.34 L438.24,258.42 L439.14,259.65 L440.04,260.99 L440.94,262.44 L441.85,263.99 L442.75,265.62 L443.65,267.32 L444.55,269.11 L445.45,271.12 L446.36,273.32 L447.26,275.70 L448.16,278.22 L449.06,280.87 L449.96,283.61 L450.86,286.41 L451.77,289.26 L452.67,292.20 L453.57,295.39 L454.47,298.77 L455.37,302.28 L456.28,305.86 L457.18,309.45 L458.08,312.97 L458.98,316.38 L459.88,319.60 L460.78,322.66 L461.69,325.66 L462.59,328.60 L463.49,331.49 L464.39,334.32 L465.29,337.09 L466.20,339.79 L467.10,342.43 L468.00,345.00" stroke="#e6c42a" stroke-width="1.35" fill="none" stroke-linejoin="round"/>
<path d="M323.70,245.90 L324.60,245.90 L325.50,245.90 L326.41,245.90 L327.31,245.90 L328.21,245.90 L329.11,245.90 L330.01,245.90 L330.91,245.90 L331.82,245.90 L332.72,245.90 L333.62,245.90 L334.52,245.90 L335.42,245.90 L336.33,245.90 L337.23,245.90 L338.13,245.90 L339.03,245.90 L339.93,245.90 L340.84,245.91 L341.74,245.91 L342.64,245.91 L343.54,245.91 L344.44,245.91 L345.34,245.91 L346.25,245.91 L347.15,245.91 L348.05,245.91 L348.95,245.91 L349.85,245.91 L350.76,245.91 L351.66,245.91 L352.56,245.91 L353.46,245.92 L354.36,245.92 L355.27,245.92 L356.17,245.92 L357.07,245.92 L357.97,245.92 L358.87,245.92 L359.77,245.92 L360.68,245.92 L361.58,245.93 L362.48,245.93 L363.38,245.93 L364.28,245.93 L365.19,245.93 L366.09,245.93 L366.99,245.93 L367.89,245.93 L368.79,245.94 L369.70,245.94 L370.60,245.94 L371.50,245.94 L372.40,245.94 L373.30,245.94 L374.20,245.94 L375.11,245.95 L376.01,245.95 L376.91,245.95 L377.81,245.95 L378.71,245.95 L379.62,245.95 L380.52,245.96 L381.42,245.96 L382.32,245.96 L383.22,245.96 L384.13,245.96 L385.03,245.97 L385.93,245.97 L386.83,245.97 L387.73,245.97 L388.63,245.97 L389.54,245.97 L390.44,245.98 L391.34,245.98 L392.24,245.98 L393.14,245.98 L394.05,245.99 L394.95,245.99 L395.85,245.99 L396.75,245.99 L397.65,245.99 L398.56,246.00 L399.46,246.00 L400.36,246.00 L401.26,246.00 L402.16,246.01 L403.06,246.01 L403.97,246.01 L404.87,246.01 L405.77,246.02 L406.67,246.02 L407.57,246.03 L408.48,246.03 L409.38,246.03 L410.28,246.04 L411.18,246.04 L412.08,246.05 L412.99,246.06 L413.89,246.06 L414.79,246.07 L415.69,246.08 L416.59,246.09 L417.50,246.10 L418.40,246.11 L419.30,246.12 L420.20,246.13 L421.10,246.14 L422.00,246.15 L422.91,246.17 L423.81,246.18 L424.71,246.19 L425.61,246.22 L426.51,246.30 L427.42,246.41 L428.32,246.57 L429.22,246.77 L430.12,247.00 L431.02,247.26 L431.92,247.55 L432.83,247.86 L433.73,248.19 L434.63,248.53 L435.53,248.89 L436.43,249.26 L437.34,249.68 L438.24,250.20 L439.14,250.80 L440.04,251.48 L440.94,252.22 L441.85,253.03 L442.75,253.90 L443.65,254.83 L444.55,255.83 L445.45,257.02 L446.36,258.38 L447.26,259.88 L448.16,261.49 L449.06,263.19 L449.96,264.94 L450.86,266.72 L451.77,268.51 L452.67,270.36 L453.57,272.35 L454.47,274.57 L455.37,277.09 L456.28,280.03 L457.18,284.12 L458.08,288.86 L458.98,293.55 L459.88,298.47 L460.78,303.46 L461.69,308.36 L462.59,313.09 L463.49,317.81 L464.39,322.28 L465.29,326.23 L466.20,329.82 L467.10,333.09 L468.00,336.00" stroke="#4d4df0" stroke-width="1.35" fill="none" stroke-linejoin="round"/>
<path d="M323.70,246.60 L324.60,246.60 L325.50,246.60 L326.41,246.60 L327.31,246.60 L328.21,246.60 L329.11,246.60 L330.01,246.60 L330.91,246.60 L331.82,246.60 L332.72,246.60 L333.62,246.60 L334.52,246.60 L335.42,246.60 L336.33,246.60 L337.23,246.61 L338.13,246.61 L339.03,246.61 L339.93,246.61 L340.84,246.61 L341.74,246.61 L342.64,246.61 L343.54,246.61 L344.44,246.61 L345.34,246.61 L346.25,246.62 L347.15,246.62 L348.05,246.62 L348.95,246.62 L349.85,246.62 L350.76,246.62 L351.66,246.62 L352.56,246.63 L353.46,246.63 L354.36,246.63 L355.27,246.63 L356.17,246.63 L357.07,246.64 L357.97,246.64 L358.87,246.64 L359.77,246.64 L360.68,246.64 L361.58,246.65 L362.48,246.65 L363.38,246.65 L364.28,246.65 L365.19,246.66 L366.09,246.66 L366.99,246.66 L367.89,246.66 L368.79,246.67 L369.70,246.67 L370.60,246.67 L371.50,246.67 L372.40,246.68 L373.30,246.68 L374.20,246.68 L375.11,246.69 L376.01,246.69 L376.91,246.69 L377.81,246.70 L378.71,246.70 L379.62,246.70 L380.52,246.71 L381.42,246.71 L382.32,246.71 L383.22,246.72 L384.13,246.72 L385.03,246.73 L385.93,246.73 L386.83,246.73 L387.73,246.74 L388.63,246.74 L389.54,246.75 L390.44,246.75 L391.34,246.75 L392.24,246.76 L393.14,246.76 L394.05,246.77 L394.95,246.77 L395.85,246.78 L396.75,246.78 L397.65,246.79 L398.56,246.79 L399.46,246.80 L400.36,246.80 L401.26,246.81 L402.16,246.81 L403.06,246.82 L403.97,246.83 L404.87,246.84 L405.77,246.85 L406.67,246.86 L407.57,246.88 L408.48,246.89 L409.38,246.91 L410.28,246.93 L411.18,246.95 L412.08,246.97 L412.99,246.99 L413.89,247.02 L414.79,247.04 L415.69,247.07 L416.59,247.10 L417.50,247.14 L418.40,247.17 L419.30,247.21 L420.20,247.25 L421.10,247.29 L422.00,247.33 L422.91,247.38 L423.81,247.43 L424.71,247.48 L425.61,247.55 L426.51,247.67 L427.42,247.86 L428.32,248.10 L429.22,248.41 L430.12,248.78 L431.02,249.23 L431.92,249.73 L432.83,250.31 L433.73,250.96 L434.63,251.68 L435.53,252.65 L436.43,254.57 L437.34,257.40 L438.24,261.03 L439.14,265.35 L440.04,270.24 L440.94,276.86 L441.85,287.60 L442.75,314.34 L443.65,327.09 L444.55,335.68 L445.45,341.55 L446.36,345.08 L447.26,347.31 L448.16,349.19 L449.06,350.69 L449.96,351.82 L450.86,352.55 L451.77,352.92 L452.67,353.18 L453.57,353.42 L454.47,353.62 L455.37,353.79 L456.28,353.94 L457.18,354.06 L458.08,354.16 L458.98,354.23 L459.88,354.29 L460.78,354.33 L461.69,354.36 L462.59,354.40 L463.49,354.43 L464.39,354.45 L465.29,354.47 L466.20,354.49 L467.10,354.50 L468.00,354.50" stroke="#2b3aa6" stroke-width="1.35" fill="none" stroke-linejoin="round"/>
<path d="M323.70,249.50 L324.60,249.50 L325.50,249.50 L326.41,249.50 L327.31,249.50 L328.21,249.50 L329.11,249.50 L330.01,249.50 L330.91,249.50 L331.82,249.50 L332.72,249.50 L333.62,249.50 L334.52,249.50 L335.42,249.50 L336.33,249.50 L337.23,249.50 L338.13,249.50 L339.03,249.50 L339.93,249.50 L340.84,249.50 L341.74,249.51 L342.64,249.51 L343.54,249.51 L344.44,249.51 L345.34,249.51 L346.25,249.51 L347.15,249.51 L348.05,249.51 L348.95,249.51 L349.85,249.51 L350.76,249.51 L351.66,249.51 L352.56,249.51 L353.46,249.51 L354.36,249.52 L355.27,249.52 L356.17,249.52 L357.07,249.52 L357.97,249.52 L358.87,249.52 L359.77,249.52 L360.68,249.52 L361.58,249.52 L362.48,249.52 L363.38,249.53 L364.28,249.53 L365.19,249.53 L366.09,249.53 L366.99,249.53 L367.89,249.53 L368.79,249.53 L369.70,249.54 L370.60,249.54 L371.50,249.54 L372.40,249.54 L373.30,249.54 L374.20,249.54 L375.11,249.54 L376.01,249.55 L376.91,249.55 L377.81,249.55 L378.71,249.55 L379.62,249.55 L380.52,249.55 L381.42,249.56 L382.32,249.56 L383.22,249.56 L384.13,249.56 L385.03,249.56 L385.93,249.57 L386.83,249.57 L387.73,249.57 L388.63,249.57 L389.54,249.57 L390.44,249.58 L391.34,249.58 L392.24,249.58 L393.14,249.58 L394.05,249.58 L394.95,249.59 L395.85,249.59 L396.75,249.59 L397.65,249.59 L398.56,249.60 L399.46,249.60 L400.36,249.60 L401.26,249.60 L402.16,249.61 L403.06,249.61 L403.97,249.61 L404.87,249.62 L405.77,249.62 L406.67,249.63 L407.57,249.63 L408.48,249.64 L409.38,249.64 L410.28,249.65 L411.18,249.66 L412.08,249.66 L412.99,249.67 L413.89,249.68 L414.79,249.69 L415.69,249.70 L416.59,249.71 L417.50,249.72 L418.40,249.74 L419.30,249.75 L420.20,249.77 L421.10,249.78 L422.00,249.80 L422.91,249.82 L423.81,249.84 L424.71,249.86 L425.61,249.88 L426.51,249.90 L427.42,249.92 L428.32,249.95 L429.22,249.98 L430.12,250.00 L431.02,250.06 L431.92,250.17 L432.83,250.33 L433.73,250.56 L434.63,250.85 L435.53,251.22 L436.43,251.67 L437.34,252.42 L438.24,255.36 L439.14,260.02 L440.04,265.24 L440.94,271.17 L441.85,278.53 L442.75,287.30 L443.65,299.68 L444.55,315.12 L445.45,323.05 L446.36,328.52 L447.26,333.22 L448.16,337.15 L449.06,340.34 L449.96,342.79 L450.86,344.51 L451.77,345.58 L452.67,346.44 L453.57,347.22 L454.47,347.91 L455.37,348.51 L456.28,349.02 L457.18,349.45 L458.08,349.80 L458.98,350.07 L459.88,350.25 L460.78,350.38 L461.69,350.49 L462.59,350.59 L463.49,350.68 L464.39,350.75 L465.29,350.82 L466.20,350.86 L467.10,350.89 L468.00,350.90" stroke="#ff2d8c" stroke-width="1.35" fill="none" stroke-linejoin="round"/>
<path d="M323.70,233.20 L324.60,233.20 L325.50,233.20 L326.41,233.21 L327.31,233.21 L328.21,233.22 L329.11,233.22 L330.01,233.23 L330.91,233.24 L331.82,233.25 L332.72,233.26 L333.62,233.27 L334.52,233.29 L335.42,233.30 L336.33,233.32 L337.23,233.33 L338.13,233.35 L339.03,233.37 L339.93,233.39 L340.84,233.41 L341.74,233.43 L342.64,233.45 L343.54,233.48 L344.44,233.50 L345.34,233.52 L346.25,233.55 L347.15,233.57 L348.05,233.60 L348.95,233.63 L349.85,233.65 L350.76,233.68 L351.66,233.71 L352.56,233.74 L353.46,233.77 L354.36,233.80 L355.27,233.83 L356.17,233.86 L357.07,233.89 L357.97,233.93 L358.87,233.96 L359.77,233.99 L360.68,234.03 L361.58,234.06 L362.48,234.11 L363.38,234.15 L364.28,234.20 L365.19,234.26 L366.09,234.32 L366.99,234.38 L367.89,234.45 L368.79,234.52 L369.70,234.59 L370.60,234.67 L371.50,234.75 L372.40,234.83 L373.30,234.92 L374.20,235.01 L375.11,235.11 L376.01,235.20 L376.91,235.31 L377.81,235.41 L378.71,235.51 L379.62,235.62 L380.52,235.74 L381.42,235.85 L382.32,235.97 L383.22,236.09 L384.13,236.21 L385.03,236.34 L385.93,236.46 L386.83,236.59 L387.73,236.72 L388.63,236.86 L389.54,236.99 L390.44,237.13 L391.34,237.27 L392.24,237.41 L393.14,237.56 L394.05,237.70 L394.95,237.85 L395.85,238.00 L396.75,238.15 L397.65,238.30 L398.56,238.45 L399.46,238.61 L400.36,238.76 L401.26,238.92 L402.16,239.09 L403.06,239.26 L403.97,239.43 L404.87,239.62 L405.77,239.81 L406.67,240.02 L407.57,240.23 L408.48,240.46 L409.38,240.69 L410.28,240.95 L411.18,241.21 L412.08,241.49 L412.99,241.78 L413.89,242.10 L414.79,242.42 L415.69,242.77 L416.59,243.14 L417.50,243.57 L418.40,244.09 L419.30,244.68 L420.20,245.34 L421.10,246.06 L422.00,246.83 L422.91,247.63 L423.81,248.47 L424.71,249.33 L425.61,250.19 L426.51,251.06 L427.42,251.92 L428.32,252.79 L429.22,253.71 L430.12,254.67 L431.02,255.66 L431.92,256.68 L432.83,257.72 L433.73,258.77 L434.63,259.84 L435.53,260.90 L436.43,261.96 L437.34,263.00 L438.24,264.03 L439.14,265.06 L440.04,266.09 L440.94,267.14 L441.85,268.22 L442.75,269.32 L443.65,270.47 L444.55,271.66 L445.45,272.91 L446.36,274.23 L447.26,275.63 L448.16,277.11 L449.06,278.67 L449.96,280.31 L450.86,282.03 L451.77,283.83 L452.67,285.72 L453.57,287.72 L454.47,289.89 L455.37,292.20 L456.28,294.62 L457.18,297.11 L458.08,299.63 L458.98,302.17 L459.88,304.68 L460.78,307.17 L461.69,309.68 L462.59,312.22 L463.49,314.79 L464.39,317.38 L465.29,320.00 L466.20,322.64 L467.10,325.31 L468.00,328.00" stroke="#3fe01a" stroke-width="1.35" fill="none" stroke-linejoin="round"/>
<path d="M323.70,242.20 L324.60,242.20 L325.50,242.20 L326.41,242.20 L327.31,242.20 L328.21,242.20 L329.11,242.20 L330.01,242.20 L330.91,242.20 L331.82,242.20 L332.72,242.20 L333.62,242.20 L334.52,242.20 L335.42,242.20 L336.33,242.20 L337.23,242.20 L338.13,242.20 L339.03,242.20 L339.93,242.21 L340.84,242.21 L341.74,242.21 L342.64,242.21 L343.54,242.21 L344.44,242.21 L345.34,242.21 L346.25,242.21 L347.15,242.21 L348.05,242.21 L348.95,242.21 L349.85,242.21 L350.76,242.21 L351.66,242.21 L352.56,242.22 L353.46,242.22 L354.36,242.22 L355.27,242.22 L356.17,242.22 L357.07,242.22 L357.97,242.22 L358.87,242.22 L359.77,242.22 L360.68,242.23 L361.58,242.23 L362.48,242.23 L363.38,242.23 L364.28,242.23 L365.19,242.23 L366.09,242.23 L366.99,242.23 L367.89,242.24 L368.79,242.24 L369.70,242.24 L370.60,242.24 L371.50,242.24 L372.40,242.24 L373.30,242.24 L374.20,242.25 L375.11,242.25 L376.01,242.25 L376.91,242.25 L377.81,242.25 L378.71,242.25 L379.62,242.26 L380.52,242.26 L381.42,242.26 L382.32,242.26 L383.22,242.26 L384.13,242.26 L385.03,242.27 L385.93,242.27 L386.83,242.27 L387.73,242.27 L388.63,242.27 L389.54,242.28 L390.44,242.28 L391.34,242.28 L392.24,242.28 L393.14,242.28 L394.05,242.29 L394.95,242.29 L395.85,242.29 L396.75,242.29 L397.65,242.29 L398.56,242.30 L399.46,242.30 L400.36,242.30 L401.26,242.30 L402.16,242.31 L403.06,242.31 L403.97,242.31 L404.87,242.31 L405.77,242.31 L406.67,242.32 L407.57,242.32 L408.48,242.32 L409.38,242.32 L410.28,242.33 L411.18,242.33 L412.08,242.33 L412.99,242.34 L413.89,242.34 L414.79,242.34 L415.69,242.35 L416.59,242.35 L417.50,242.36 L418.40,242.37 L419.30,242.37 L420.20,242.38 L421.10,242.39 L422.00,242.40 L422.91,242.41 L423.81,242.42 L424.71,242.43 L425.61,242.44 L426.51,242.45 L427.42,242.46 L428.32,242.48 L429.22,242.49 L430.12,242.55 L431.02,242.94 L431.92,243.63 L432.83,244.55 L433.73,245.62 L434.63,246.77 L435.53,247.94 L436.43,249.32 L437.34,250.98 L438.24,252.90 L439.14,255.09 L440.04,257.54 L440.94,260.44 L441.85,264.05 L442.75,268.61 L443.65,276.10 L444.55,285.58 L445.45,293.12 L446.36,300.24 L447.26,306.89 L448.16,313.01 L449.06,318.55 L449.96,323.72 L450.86,328.52 L451.77,332.80 L452.67,336.39 L453.57,339.45 L454.47,342.21 L455.37,344.54 L456.28,346.31 L457.18,347.61 L458.08,348.75 L458.98,349.73 L459.88,350.54 L460.78,351.17 L461.69,351.63 L462.59,352.03 L463.49,352.40 L464.39,352.73 L465.29,353.00 L466.20,353.22 L467.10,353.35 L468.00,353.40" stroke="#000000" stroke-width="1.35" fill="none" stroke-linejoin="round"/>
<line x1="323.20" y1="217.30" x2="323.20" y2="356.90" stroke="#000" stroke-width="1.4"/>
<line x1="317.60" y1="222.25" x2="323.20" y2="222.25" stroke="#000" stroke-width="1.4"/>
<line x1="317.60" y1="249.04" x2="323.20" y2="249.04" stroke="#000" stroke-width="1.4"/>
<text x="315.80" y="252.50" font-size="9.6" font-weight="bold" text-anchor="end">100</text>
<line x1="317.60" y1="275.83" x2="323.20" y2="275.83" stroke="#000" stroke-width="1.4"/>
<line x1="317.60" y1="302.62" x2="323.20" y2="302.62" stroke="#000" stroke-width="1.4"/>
<text x="315.80" y="306.08" font-size="9.6" font-weight="bold" text-anchor="end">50</text>
<line x1="317.60" y1="329.41" x2="323.20" y2="329.41" stroke="#000" stroke-width="1.4"/>
<line x1="317.60" y1="356.20" x2="323.20" y2="356.20" stroke="#000" stroke-width="1.4"/>
<line x1="323.20" y1="356.20" x2="323.20" y2="361.80" stroke="#000" stroke-width="1.4"/>
<line x1="316.90" y1="356.20" x2="468.60" y2="356.20" stroke="#000" stroke-width="1.4"/>
<line x1="323.90" y1="356.20" x2="323.90" y2="361.80" stroke="#000" stroke-width="1.4"/>
<line x1="352.85" y1="356.20" x2="352.85" y2="361.80" stroke="#000" stroke-width="1.4"/>
<line x1="381.80" y1="356.20" x2="381.80" y2="361.80" stroke="#000" stroke-width="1.4"/>
<line x1="410.75" y1="356.20" x2="410.75" y2="361.80" stroke="#000" stroke-width="1.4"/>
<line x1="439.70" y1="356.20" x2="439.70" y2="361.80" stroke="#000" stroke-width="1.4"/>
<line x1="468.65" y1="356.20" x2="468.65" y2="361.80" stroke="#000" stroke-width="1.4"/>
<text x="352.85" y="373.70" font-size="9.4" font-weight="bold" text-anchor="middle">0.001</text>
<text x="381.80" y="373.70" font-size="9.4" font-weight="bold" text-anchor="middle">0.01</text>
<text x="410.75" y="373.70" font-size="9.4" font-weight="bold" text-anchor="middle">0.1</text>
<text x="439.70" y="373.70" font-size="9.4" font-weight="bold" text-anchor="middle">1</text>
<text x="468.65" y="373.70" font-size="9.4" font-weight="bold" text-anchor="middle">10</text>
<text x="395.20" y="392.40" font-size="11.5" font-weight="bold" text-anchor="middle">Crizotinib (µM)</text>
<text x="291.60" y="286.50" font-size="11.3" font-weight="bold" text-anchor="middle" transform="rotate(-90 291.60 286.50)" stroke="#000" stroke-width="0.22">Relative viability (%)</text>
<line x1="531.70" y1="221.00" x2="531.70" y2="360.60" stroke="#000" stroke-width="1.4"/>
<line x1="525.20" y1="359.90" x2="531.70" y2="359.90" stroke="#000" stroke-width="1.4"/>
<text x="524.20" y="363.64" font-size="10.4" font-weight="bold" text-anchor="end">0</text>
<line x1="525.20" y1="325.25" x2="531.70" y2="325.25" stroke="#000" stroke-width="1.4"/>
<text x="524.20" y="328.99" font-size="10.4" font-weight="bold" text-anchor="end">10</text>
<line x1="525.20" y1="290.60" x2="531.70" y2="290.60" stroke="#000" stroke-width="1.4"/>
<text x="524.20" y="294.34" font-size="10.4" font-weight="bold" text-anchor="end">20</text>
<line x1="525.20" y1="255.95" x2="531.70" y2="255.95" stroke="#000" stroke-width="1.4"/>
<text x="524.20" y="259.69" font-size="10.4" font-weight="bold" text-anchor="end">30</text>
<line x1="525.20" y1="221.30" x2="531.70" y2="221.30" stroke="#000" stroke-width="1.4"/>
<text x="524.20" y="225.04" font-size="10.4" font-weight="bold" text-anchor="end">40</text>
<line x1="531.00" y1="359.90" x2="670.40" y2="359.90" stroke="#000" stroke-width="1.4"/>
<line x1="548.90" y1="359.90" x2="548.90" y2="365.60" stroke="#000" stroke-width="1.4"/>
<line x1="575.00" y1="359.90" x2="575.00" y2="365.60" stroke="#000" stroke-width="1.4"/>
<line x1="600.90" y1="359.90" x2="600.90" y2="365.60" stroke="#000" stroke-width="1.4"/>
<line x1="626.60" y1="359.90" x2="626.60" y2="365.60" stroke="#000" stroke-width="1.4"/>
<line x1="652.60" y1="359.90" x2="652.60" y2="365.60" stroke="#000" stroke-width="1.4"/>
<text x="548.90" y="377.20" font-size="10.6" font-weight="bold" text-anchor="middle">PD</text>
<text x="575.00" y="377.20" font-size="10.6" font-weight="bold" text-anchor="middle">SD</text>
<text x="600.90" y="377.20" font-size="10.6" font-weight="bold" text-anchor="middle">PR</text>
<text x="626.60" y="377.20" font-size="10.6" font-weight="bold" text-anchor="middle">VGPR</text>
<text x="652.60" y="377.20" font-size="10.6" font-weight="bold" text-anchor="middle">CR</text>
<text x="507.20" y="292.20" font-size="11.0" font-weight="bold" text-anchor="middle" transform="rotate(-90 507.20 292.20)" stroke="#000" stroke-width="0.22">Drug sensitivity score (DSS)</text>
<text x="600.20" y="246.00" font-size="11.3"><tspan font-style="italic">p</tspan> = 0.8146</text>
<path d="M554.90,294.00 L556.26,295.39 L556.70,296.79 L556.99,298.19 L557.16,299.58 L557.22,300.98 L557.26,302.37 L557.28,303.76 L557.30,305.16 L557.30,306.56 L557.25,307.95 L557.17,309.35 L557.07,310.74 L556.95,312.13 L556.77,313.53 L556.53,314.93 L556.25,316.32 L555.91,317.72 L555.42,319.11 L554.90,320.50 L554.51,321.90 L554.22,323.30 L553.96,324.69 L553.70,326.09 L553.44,327.48 L553.13,328.88 L552.66,330.27 L552.19,331.67 L551.84,333.06 L551.55,334.45 L551.39,335.85 L551.33,337.25 L551.30,338.64 L551.36,340.04 L551.52,341.43 L551.80,342.82 L552.10,344.22 L552.24,345.62 L552.29,347.01 L552.06,348.41 L551.10,349.80 L546.70,349.80 L545.74,348.41 L545.51,347.01 L545.56,345.62 L545.70,344.22 L546.00,342.82 L546.28,341.43 L546.44,340.04 L546.50,338.64 L546.47,337.25 L546.41,335.85 L546.25,334.45 L545.96,333.06 L545.61,331.67 L545.14,330.27 L544.67,328.88 L544.36,327.48 L544.10,326.09 L543.84,324.69 L543.58,323.30 L543.29,321.90 L542.90,320.50 L542.38,319.11 L541.89,317.72 L541.55,316.32 L541.27,314.93 L541.03,313.53 L540.85,312.13 L540.73,310.74 L540.63,309.35 L540.55,307.95 L540.50,306.56 L540.50,305.16 L540.52,303.76 L540.54,302.37 L540.58,300.98 L540.64,299.58 L540.81,298.19 L541.10,296.79 L541.54,295.39 L542.90,294.00 Z" stroke="#000" stroke-width="1.4" fill="none" stroke-linejoin="round"/>
<line x1="540.90" y1="312.60" x2="556.90" y2="312.60" stroke="#000" stroke-width="0.8" stroke-dasharray="2 1.5"/>
<line x1="540.56" y1="301.50" x2="557.24" y2="301.50" stroke="#000" stroke-width="0.8" stroke-dasharray="2 1.5"/>
<circle cx="548.90" cy="294.50" r="2.3" fill="none" stroke="#000" stroke-width="1.2"/>
<circle cx="544.60" cy="303.40" r="2.3" fill="none" stroke="#000" stroke-width="1.2"/>
<circle cx="553.10" cy="301.50" r="2.3" fill="none" stroke="#000" stroke-width="1.2"/>
<circle cx="548.90" cy="312.60" r="2.3" fill="none" stroke="#000" stroke-width="1.2"/>
<circle cx="548.90" cy="318.00" r="2.3" fill="none" stroke="#000" stroke-width="1.2"/>
<circle cx="548.90" cy="327.20" r="2.3" fill="none" stroke="#000" stroke-width="1.2"/>
<circle cx="548.90" cy="348.10" r="2.3" fill="none" stroke="#000" stroke-width="1.2"/>
<path d="M583.50,292.60 L583.28,293.15 L583.06,293.70 L582.84,294.24 L582.63,294.79 L582.42,295.34 L582.21,295.88 L582.00,296.43 L581.79,296.98 L581.59,297.53 L581.37,298.08 L581.13,298.62 L580.88,299.17 L580.62,299.72 L580.37,300.26 L580.14,300.81 L579.94,301.36 L579.78,301.91 L579.66,302.46 L579.60,303.00 L579.61,303.55 L579.69,304.10 L579.82,304.64 L579.99,305.19 L580.20,305.74 L580.43,306.29 L580.68,306.84 L580.93,307.38 L581.18,307.93 L581.40,308.48 L581.61,309.02 L581.80,309.57 L581.99,310.12 L582.18,310.67 L582.36,311.22 L582.55,311.76 L582.74,312.31 L582.93,312.86 L583.12,313.40 L583.31,313.95 L583.50,314.50 L566.50,314.50 L566.69,313.95 L566.88,313.40 L567.07,312.86 L567.26,312.31 L567.45,311.76 L567.64,311.22 L567.82,310.67 L568.01,310.12 L568.20,309.57 L568.39,309.02 L568.60,308.48 L568.82,307.93 L569.07,307.38 L569.32,306.84 L569.57,306.29 L569.80,305.74 L570.01,305.19 L570.18,304.64 L570.31,304.10 L570.39,303.55 L570.40,303.00 L570.34,302.46 L570.22,301.91 L570.06,301.36 L569.86,300.81 L569.63,300.26 L569.38,299.72 L569.12,299.17 L568.87,298.62 L568.63,298.08 L568.41,297.53 L568.21,296.98 L568.00,296.43 L567.79,295.88 L567.58,295.34 L567.37,294.79 L567.16,294.24 L566.94,293.70 L566.72,293.15 L566.50,292.60 Z" stroke="#000" stroke-width="1.4" fill="none" stroke-linejoin="round"/>
<line x1="570.40" y1="303.20" x2="579.60" y2="303.20" stroke="#000" stroke-width="0.8" stroke-dasharray="2 1.5"/>
<circle cx="575.00" cy="292.90" r="2.3" fill="none" stroke="#000" stroke-width="1.2"/>
<circle cx="575.00" cy="314.30" r="2.3" fill="none" stroke="#000" stroke-width="1.2"/>
<path d="M603.00,271.40 L603.40,272.93 L603.37,274.46 L603.30,275.99 L603.00,277.52 L602.51,279.05 L602.21,280.58 L602.00,282.11 L601.82,283.64 L601.72,285.17 L601.71,286.70 L601.76,288.23 L601.85,289.76 L601.97,291.29 L602.09,292.82 L602.21,294.35 L602.35,295.88 L602.52,297.41 L602.71,298.94 L602.93,300.47 L603.19,302.00 L603.52,303.53 L603.87,305.06 L604.25,306.59 L604.66,308.12 L605.11,309.65 L605.57,311.18 L606.06,312.71 L606.57,314.24 L607.04,315.77 L607.44,317.30 L607.82,318.83 L608.14,320.36 L608.34,321.89 L608.50,323.42 L608.62,324.95 L608.69,326.48 L608.63,328.01 L608.23,329.54 L607.66,331.07 L606.70,332.60 L594.70,332.60 L593.74,331.07 L593.17,329.54 L592.77,328.01 L592.71,326.48 L592.78,324.95 L592.90,323.42 L593.06,321.89 L593.26,320.36 L593.58,318.83 L593.96,317.30 L594.36,315.77 L594.83,314.24 L595.34,312.71 L595.83,311.18 L596.29,309.65 L596.74,308.12 L597.15,306.59 L597.53,305.06 L597.88,303.53 L598.21,302.00 L598.47,300.47 L598.69,298.94 L598.88,297.41 L599.05,295.88 L599.19,294.35 L599.31,292.82 L599.43,291.29 L599.55,289.76 L599.64,288.23 L599.69,286.70 L599.68,285.17 L599.58,283.64 L599.40,282.11 L599.19,280.58 L598.89,279.05 L598.40,277.52 L598.10,275.99 L598.03,274.46 L598.00,272.93 L598.40,271.40 Z" stroke="#000" stroke-width="1.4" fill="none" stroke-linejoin="round"/>
<line x1="592.72" y1="326.20" x2="608.68" y2="326.20" stroke="#000" stroke-width="0.8" stroke-dasharray="2 1.5"/>
<circle cx="600.70" cy="272.60" r="2.3" fill="none" stroke="#000" stroke-width="1.2"/>
<circle cx="600.70" cy="275.40" r="2.3" fill="none" stroke="#000" stroke-width="1.2"/>
<circle cx="600.70" cy="312.80" r="2.3" fill="none" stroke="#000" stroke-width="1.2"/>
<circle cx="594.40" cy="322.70" r="2.3" fill="none" stroke="#000" stroke-width="1.2"/>
<circle cx="600.70" cy="326.20" r="2.3" fill="none" stroke="#000" stroke-width="1.2"/>
<circle cx="607.10" cy="326.20" r="2.3" fill="none" stroke="#000" stroke-width="1.2"/>
<circle cx="600.70" cy="331.40" r="2.3" fill="none" stroke="#000" stroke-width="1.2"/>
<path d="M618.8,301.2 L634.5,301.2 L634.6,309.5 L619.2,309.5 L618.8,306.5 L620.2,304.3 Z" fill="none" stroke="#000" stroke-width="1.4" stroke-linejoin="round"/>
<line x1="620.50" y1="305.50" x2="633.50" y2="305.50" stroke="#000" stroke-width="0.8" stroke-dasharray="2 1.5"/>
<circle cx="626.60" cy="301.40" r="2.3" fill="none" stroke="#000" stroke-width="1.2"/>
<circle cx="622.50" cy="309.60" r="2.3" fill="none" stroke="#000" stroke-width="1.2"/>
<circle cx="630.40" cy="305.80" r="2.3" fill="none" stroke="#000" stroke-width="1.2"/>
<path d="M656.60,300.30 L656.32,300.93 L656.02,301.56 L655.69,302.19 L655.24,302.82 L654.75,303.45 L654.36,304.08 L654.20,304.71 L654.24,305.34 L654.36,305.97 L654.50,306.60 L654.66,307.23 L654.86,307.86 L655.11,308.49 L655.40,309.12 L655.75,309.75 L656.23,310.38 L656.79,311.01 L657.31,311.64 L657.83,312.27 L658.34,312.90 L658.83,313.53 L659.28,314.16 L659.73,314.79 L660.13,315.42 L660.42,316.05 L660.65,316.68 L660.85,317.31 L660.98,317.94 L660.99,318.57 L660.91,319.20 L660.77,319.83 L660.61,320.46 L660.40,321.09 L660.10,321.72 L659.78,322.35 L659.46,322.98 L659.14,323.61 L658.81,324.24 L658.46,324.87 L658.10,325.50 L647.10,325.50 L646.74,324.87 L646.39,324.24 L646.06,323.61 L645.74,322.98 L645.42,322.35 L645.10,321.72 L644.80,321.09 L644.59,320.46 L644.43,319.83 L644.29,319.20 L644.21,318.57 L644.22,317.94 L644.35,317.31 L644.55,316.68 L644.78,316.05 L645.07,315.42 L645.47,314.79 L645.92,314.16 L646.37,313.53 L646.86,312.90 L647.37,312.27 L647.89,311.64 L648.41,311.01 L648.97,310.38 L649.45,309.75 L649.80,309.12 L650.09,308.49 L650.34,307.86 L650.54,307.23 L650.70,306.60 L650.84,305.97 L650.96,305.34 L651.00,304.71 L650.84,304.08 L650.45,303.45 L649.96,302.82 L649.51,302.19 L649.18,301.56 L648.88,300.93 L648.60,300.30 Z" stroke="#000" stroke-width="1.4" fill="none" stroke-linejoin="round"/>
<line x1="644.22" y1="318.00" x2="660.98" y2="318.00" stroke="#000" stroke-width="0.8" stroke-dasharray="2 1.5"/>
<circle cx="652.60" cy="300.70" r="2.3" fill="none" stroke="#000" stroke-width="1.2"/>
<circle cx="648.50" cy="316.80" r="2.3" fill="none" stroke="#000" stroke-width="1.2"/>
<circle cx="656.70" cy="319.00" r="2.3" fill="none" stroke="#000" stroke-width="1.2"/>
<circle cx="652.60" cy="325.50" r="2.3" fill="none" stroke="#000" stroke-width="1.2"/>
<line x1="49.70" y1="462.80" x2="49.70" y2="598.40" stroke="#000" stroke-width="1.4"/>
<line x1="49.00" y1="597.70" x2="185.00" y2="597.70" stroke="#000" stroke-width="1.4"/>
<line x1="44.20" y1="462.70" x2="49.70" y2="462.70" stroke="#000" stroke-width="1.4"/>
<text x="37.40" y="466.50" font-size="10.0" font-weight="bold" text-anchor="end">10</text>
<text x="38.70" y="463.60" font-size="6.0" font-weight="bold">2</text>
<line x1="44.20" y1="496.55" x2="49.70" y2="496.55" stroke="#000" stroke-width="1.4"/>
<text x="37.40" y="500.35" font-size="10.0" font-weight="bold" text-anchor="end">10</text>
<text x="38.70" y="497.45" font-size="6.0" font-weight="bold">1</text>
<line x1="44.20" y1="530.40" x2="49.70" y2="530.40" stroke="#000" stroke-width="1.4"/>
<text x="37.40" y="534.20" font-size="10.0" font-weight="bold" text-anchor="end">10</text>
<text x="38.70" y="531.30" font-size="6.0" font-weight="bold">0</text>
<line x1="44.20" y1="564.25" x2="49.70" y2="564.25" stroke="#000" stroke-width="1.4"/>
<text x="34.90" y="568.05" font-size="10.0" font-weight="bold" text-anchor="end">10</text>
<text x="36.20" y="565.15" font-size="6.0" font-weight="bold">-1</text>
<line x1="44.20" y1="598.10" x2="49.70" y2="598.10" stroke="#000" stroke-width="1.4"/>
<text x="34.90" y="601.90" font-size="10.0" font-weight="bold" text-anchor="end">10</text>
<text x="36.20" y="599.00" font-size="6.0" font-weight="bold">-2</text>
<line x1="70.00" y1="597.70" x2="70.00" y2="603.40" stroke="#000" stroke-width="1.4"/>
<text x="70.00" y="614.80" font-size="10.4" font-weight="bold" text-anchor="middle">PR</text>
<line x1="101.50" y1="597.70" x2="101.50" y2="603.40" stroke="#000" stroke-width="1.4"/>
<text x="101.50" y="614.80" font-size="10.4" font-weight="bold" text-anchor="middle">SD</text>
<line x1="132.50" y1="597.70" x2="132.50" y2="603.40" stroke="#000" stroke-width="1.4"/>
<text x="132.50" y="614.80" font-size="10.4" font-weight="bold" text-anchor="middle">VGPR</text>
<line x1="163.60" y1="597.70" x2="163.60" y2="603.40" stroke="#000" stroke-width="1.4"/>
<text x="163.60" y="614.80" font-size="10.4" font-weight="bold" text-anchor="middle">CR</text>
<text x="16.20" y="530.00" font-size="10.9" font-weight="bold" text-anchor="middle" transform="rotate(-90 16.20 530.00)" stroke="#000" stroke-width="0.22">LTK (FPKM)</text>
<text x="107.00" y="474.40" font-size="11.1"><tspan font-style="italic">P</tspan> = 0.4295</text>
<path d="M161.70,475.08 L165.50,475.08 L163.60,478.41 Z" fill="#000"/>
<path d="M70.90,472.50 L71.22,474.77 L71.55,477.04 L71.90,479.31 L72.27,481.58 L72.67,483.85 L73.14,486.12 L73.67,488.39 L74.30,490.66 L75.07,492.93 L75.99,495.20 L77.13,497.47 L78.25,499.74 L79.28,502.01 L79.91,504.28 L80.34,506.55 L80.56,508.82 L80.69,511.09 L80.78,513.36 L80.80,515.63 L80.79,517.90 L80.77,520.17 L80.74,522.44 L80.70,524.71 L80.65,526.98 L80.56,529.25 L80.43,531.52 L80.29,533.79 L80.15,536.06 L80.00,538.33 L79.87,540.60 L79.73,542.87 L79.60,545.14 L79.46,547.41 L79.32,549.68 L79.18,551.95 L79.05,554.22 L78.91,556.49 L78.77,558.76 L78.64,561.03 L78.50,563.30 L62.10,563.30 L61.96,561.03 L61.83,558.76 L61.69,556.49 L61.55,554.22 L61.42,551.95 L61.28,549.68 L61.14,547.41 L61.00,545.14 L60.87,542.87 L60.73,540.60 L60.60,538.33 L60.45,536.06 L60.31,533.79 L60.17,531.52 L60.04,529.25 L59.95,526.98 L59.90,524.71 L59.86,522.44 L59.83,520.17 L59.81,517.90 L59.80,515.63 L59.82,513.36 L59.91,511.09 L60.04,508.82 L60.26,506.55 L60.69,504.28 L61.32,502.01 L62.35,499.74 L63.47,497.47 L64.61,495.20 L65.53,492.93 L66.30,490.66 L66.93,488.39 L67.46,486.12 L67.93,483.85 L68.33,481.58 L68.70,479.31 L69.05,477.04 L69.38,474.77 L69.70,472.50 Z" stroke="#000" stroke-width="1.4" fill="none" stroke-linejoin="round"/>
<path d="M102.50,479.10 L102.80,481.47 L103.03,483.84 L103.15,486.21 L103.20,488.58 L103.26,490.95 L103.37,493.32 L103.59,495.69 L104.10,498.06 L105.25,500.43 L107.14,502.80 L109.08,505.17 L110.55,507.54 L111.19,509.91 L111.48,512.28 L111.48,514.65 L111.42,517.02 L111.33,519.39 L111.21,521.76 L111.04,524.13 L110.83,526.50 L110.61,528.87 L110.38,531.24 L110.12,533.61 L109.83,535.98 L109.52,538.35 L109.19,540.72 L108.75,543.09 L108.38,545.46 L108.23,547.83 L108.13,550.20 L108.06,552.57 L108.00,554.94 L107.95,557.31 L107.91,559.68 L107.86,562.05 L107.82,564.42 L107.78,566.79 L107.75,569.16 L107.72,571.53 L107.70,573.90 L94.90,573.90 L94.88,571.53 L94.85,569.16 L94.82,566.79 L94.78,564.42 L94.74,562.05 L94.69,559.68 L94.65,557.31 L94.60,554.94 L94.54,552.57 L94.47,550.20 L94.37,547.83 L94.22,545.46 L93.85,543.09 L93.41,540.72 L93.08,538.35 L92.77,535.98 L92.48,533.61 L92.22,531.24 L91.99,528.87 L91.77,526.50 L91.56,524.13 L91.39,521.76 L91.27,519.39 L91.18,517.02 L91.12,514.65 L91.12,512.28 L91.41,509.91 L92.05,507.54 L93.52,505.17 L95.46,502.80 L97.35,500.43 L98.50,498.06 L99.01,495.69 L99.23,493.32 L99.34,490.95 L99.40,488.58 L99.45,486.21 L99.57,483.84 L99.80,481.47 L100.10,479.10 Z" stroke="#000" stroke-width="1.4" fill="none" stroke-linejoin="round"/>
<path d="M135.30,498.60 L136.41,499.47 L137.35,500.34 L138.09,501.20 L138.75,502.07 L139.32,502.94 L139.80,503.81 L140.21,504.67 L140.59,505.54 L140.93,506.41 L141.23,507.27 L141.49,508.14 L141.70,509.01 L141.90,509.88 L142.09,510.75 L142.26,511.61 L142.39,512.48 L142.48,513.35 L142.50,514.22 L142.43,515.08 L142.28,515.95 L142.08,516.82 L141.85,517.68 L141.62,518.55 L141.38,519.42 L141.10,520.29 L140.77,521.15 L140.43,522.02 L140.09,522.89 L139.78,523.76 L139.50,524.62 L139.21,525.49 L138.93,526.36 L138.68,527.23 L138.46,528.09 L138.31,528.96 L138.19,529.83 L138.08,530.70 L137.99,531.56 L137.93,532.43 L137.90,533.30 L127.10,533.30 L127.07,532.43 L127.01,531.56 L126.92,530.70 L126.81,529.83 L126.69,528.96 L126.54,528.09 L126.32,527.23 L126.07,526.36 L125.79,525.49 L125.50,524.62 L125.22,523.76 L124.91,522.89 L124.57,522.02 L124.23,521.15 L123.90,520.29 L123.62,519.42 L123.38,518.55 L123.15,517.68 L122.92,516.82 L122.72,515.95 L122.57,515.08 L122.50,514.22 L122.52,513.35 L122.61,512.48 L122.74,511.61 L122.91,510.75 L123.10,509.88 L123.30,509.01 L123.51,508.14 L123.77,507.27 L124.07,506.41 L124.41,505.54 L124.79,504.67 L125.20,503.81 L125.68,502.94 L126.25,502.07 L126.91,501.20 L127.65,500.34 L128.59,499.47 L129.70,498.60 Z" stroke="#000" stroke-width="1.4" fill="none" stroke-linejoin="round"/>
<line x1="124.00" y1="518.60" x2="141.00" y2="518.60" stroke="#000" stroke-width="0.7" stroke-dasharray="1 1"/>
<path d="M65.96,471.37 L69.16,471.37 L67.56,474.17 Z" fill="#000"/>
<path d="M69.02,472.49 L72.22,472.49 L70.62,475.29 Z" fill="#000"/>
<path d="M67.73,474.19 L70.93,474.19 L69.33,476.99 Z" fill="#000"/>
<path d="M66.85,476.23 L70.05,476.23 L68.45,479.03 Z" fill="#000"/>
<path d="M69.53,476.15 L72.73,476.15 L71.13,478.95 Z" fill="#000"/>
<path d="M65.86,477.31 L69.06,477.31 L67.46,480.11 Z" fill="#000"/>
<path d="M69.14,478.05 L72.34,478.05 L70.74,480.85 Z" fill="#000"/>
<path d="M71.20,477.44 L74.40,477.44 L72.80,480.24 Z" fill="#000"/>
<path d="M59.30,480.67 L62.50,480.67 L60.90,483.47 Z" fill="#000"/>
<path d="M62.26,480.12 L65.46,480.12 L63.86,482.92 Z" fill="#000"/>
<path d="M67.08,479.77 L70.28,479.77 L68.68,482.57 Z" fill="#000"/>
<path d="M70.49,480.01 L73.69,480.01 L72.09,482.81 Z" fill="#000"/>
<path d="M60.42,481.34 L63.62,481.34 L62.02,484.14 Z" fill="#000"/>
<path d="M64.05,482.04 L67.25,482.04 L65.65,484.84 Z" fill="#000"/>
<path d="M67.44,481.80 L70.64,481.80 L69.04,484.60 Z" fill="#000"/>
<path d="M71.31,481.59 L74.51,481.59 L72.91,484.39 Z" fill="#000"/>
<path d="M74.74,481.28 L77.94,481.28 L76.34,484.08 Z" fill="#000"/>
<path d="M77.85,481.43 L81.05,481.43 L79.45,484.23 Z" fill="#000"/>
<path d="M59.84,483.45 L63.04,483.45 L61.44,486.25 Z" fill="#000"/>
<path d="M62.55,483.61 L65.75,483.61 L64.15,486.41 Z" fill="#000"/>
<path d="M65.66,483.32 L68.86,483.32 L67.26,486.12 Z" fill="#000"/>
<path d="M68.94,483.72 L72.14,483.72 L70.54,486.52 Z" fill="#000"/>
<path d="M71.50,483.59 L74.70,483.59 L73.10,486.39 Z" fill="#000"/>
<path d="M76.22,483.90 L79.42,483.90 L77.82,486.70 Z" fill="#000"/>
<path d="M79.38,483.31 L82.58,483.31 L80.98,486.11 Z" fill="#000"/>
<path d="M62.08,484.84 L65.28,484.84 L63.68,487.64 Z" fill="#000"/>
<path d="M64.63,485.48 L67.83,485.48 L66.23,488.28 Z" fill="#000"/>
<path d="M66.92,485.21 L70.12,485.21 L68.52,488.01 Z" fill="#000"/>
<path d="M69.83,485.39 L73.03,485.39 L71.43,488.19 Z" fill="#000"/>
<path d="M73.41,485.29 L76.61,485.29 L75.01,488.09 Z" fill="#000"/>
<path d="M77.00,485.03 L80.20,485.03 L78.60,487.83 Z" fill="#000"/>
<path d="M63.86,487.31 L67.06,487.31 L65.46,490.11 Z" fill="#000"/>
<path d="M66.76,487.18 L69.96,487.18 L68.36,489.98 Z" fill="#000"/>
<path d="M69.97,487.66 L73.17,487.66 L71.57,490.46 Z" fill="#000"/>
<path d="M72.68,487.38 L75.88,487.38 L74.28,490.18 Z" fill="#000"/>
<path d="M64.85,489.42 L68.05,489.42 L66.45,492.22 Z" fill="#000"/>
<path d="M68.32,489.71 L71.52,489.71 L69.92,492.51 Z" fill="#000"/>
<path d="M71.46,489.00 L74.66,489.00 L73.06,491.80 Z" fill="#000"/>
<path d="M74.11,489.39 L77.31,489.39 L75.71,492.19 Z" fill="#000"/>
<path d="M60.82,491.18 L64.02,491.18 L62.42,493.98 Z" fill="#000"/>
<path d="M64.43,490.84 L67.63,490.84 L66.03,493.64 Z" fill="#000"/>
<path d="M67.35,491.49 L70.55,491.49 L68.95,494.29 Z" fill="#000"/>
<path d="M70.40,490.97 L73.60,490.97 L72.00,493.77 Z" fill="#000"/>
<path d="M73.61,491.59 L76.81,491.59 L75.21,494.39 Z" fill="#000"/>
<path d="M76.36,491.17 L79.56,491.17 L77.96,493.97 Z" fill="#000"/>
<path d="M63.24,493.60 L66.44,493.60 L64.84,496.40 Z" fill="#000"/>
<path d="M66.46,493.58 L69.66,493.58 L68.06,496.38 Z" fill="#000"/>
<path d="M69.02,493.14 L72.22,493.14 L70.62,495.94 Z" fill="#000"/>
<path d="M72.09,493.60 L75.29,493.60 L73.69,496.40 Z" fill="#000"/>
<path d="M63.07,494.87 L66.27,494.87 L64.67,497.67 Z" fill="#000"/>
<path d="M65.44,494.95 L68.64,494.95 L67.04,497.75 Z" fill="#000"/>
<path d="M68.49,495.20 L71.69,495.20 L70.09,498.00 Z" fill="#000"/>
<path d="M71.77,494.98 L74.97,494.98 L73.37,497.78 Z" fill="#000"/>
<path d="M74.30,495.14 L77.50,495.14 L75.90,497.94 Z" fill="#000"/>
<path d="M64.10,497.29 L67.30,497.29 L65.70,500.09 Z" fill="#000"/>
<path d="M67.56,497.41 L70.76,497.41 L69.16,500.21 Z" fill="#000"/>
<path d="M70.21,497.34 L73.41,497.34 L71.81,500.14 Z" fill="#000"/>
<path d="M73.34,496.77 L76.54,496.77 L74.94,499.57 Z" fill="#000"/>
<path d="M60.02,499.50 L63.22,499.50 L61.62,502.30 Z" fill="#000"/>
<path d="M63.50,499.52 L66.70,499.52 L65.10,502.32 Z" fill="#000"/>
<path d="M66.11,499.12 L69.31,499.12 L67.71,501.92 Z" fill="#000"/>
<path d="M68.88,499.35 L72.08,499.35 L70.48,502.15 Z" fill="#000"/>
<path d="M71.85,498.79 L75.05,498.79 L73.45,501.59 Z" fill="#000"/>
<path d="M75.47,498.88 L78.67,498.88 L77.07,501.68 Z" fill="#000"/>
<path d="M61.07,500.77 L64.27,500.77 L62.67,503.57 Z" fill="#000"/>
<path d="M63.80,500.87 L67.00,500.87 L65.40,503.67 Z" fill="#000"/>
<path d="M67.38,501.08 L70.58,501.08 L68.98,503.88 Z" fill="#000"/>
<path d="M70.32,501.59 L73.52,501.59 L71.92,504.39 Z" fill="#000"/>
<path d="M73.79,500.87 L76.99,500.87 L75.39,503.67 Z" fill="#000"/>
<path d="M77.00,501.07 L80.20,501.07 L78.60,503.87 Z" fill="#000"/>
<path d="M66.09,503.34 L69.29,503.34 L67.69,506.14 Z" fill="#000"/>
<path d="M70.48,504.21 L73.68,504.21 L72.08,507.01 Z" fill="#000"/>
<path d="M65.17,506.20 L68.37,506.20 L66.77,509.00 Z" fill="#000"/>
<path d="M68.87,505.82 L72.07,505.82 L70.47,508.62 Z" fill="#000"/>
<path d="M67.57,508.48 L70.77,508.48 L69.17,511.28 Z" fill="#000"/>
<path d="M70.96,508.38 L74.16,508.38 L72.56,511.18 Z" fill="#000"/>
<path d="M62.32,511.67 L65.52,511.67 L63.92,514.47 Z" fill="#000"/>
<path d="M71.72,510.87 L74.92,510.87 L73.32,513.67 Z" fill="#000"/>
<path d="M64.73,512.75 L67.93,512.75 L66.33,515.55 Z" fill="#000"/>
<path d="M67.72,513.70 L70.92,513.70 L69.32,516.50 Z" fill="#000"/>
<path d="M70.99,513.42 L74.19,513.42 L72.59,516.22 Z" fill="#000"/>
<path d="M73.51,513.09 L76.71,513.09 L75.11,515.89 Z" fill="#000"/>
<path d="M66.43,515.99 L69.63,515.99 L68.03,518.79 Z" fill="#000"/>
<path d="M70.23,516.00 L73.43,516.00 L71.83,518.80 Z" fill="#000"/>
<path d="M60.56,518.64 L63.76,518.64 L62.16,521.44 Z" fill="#000"/>
<path d="M63.95,519.40 L67.15,519.40 L65.55,522.20 Z" fill="#000"/>
<path d="M66.98,519.23 L70.18,519.23 L68.58,522.03 Z" fill="#000"/>
<path d="M69.95,519.16 L73.15,519.16 L71.55,521.96 Z" fill="#000"/>
<path d="M72.48,518.94 L75.68,518.94 L74.08,521.74 Z" fill="#000"/>
<path d="M76.08,518.45 L79.28,518.45 L77.68,521.25 Z" fill="#000"/>
<path d="M61.82,520.80 L65.02,520.80 L63.42,523.60 Z" fill="#000"/>
<path d="M65.51,521.21 L68.71,521.21 L67.11,524.01 Z" fill="#000"/>
<path d="M69.07,520.97 L72.27,520.97 L70.67,523.77 Z" fill="#000"/>
<path d="M72.05,521.51 L75.25,521.51 L73.65,524.31 Z" fill="#000"/>
<path d="M75.56,520.88 L78.76,520.88 L77.16,523.68 Z" fill="#000"/>
<path d="M63.48,523.45 L66.68,523.45 L65.08,526.25 Z" fill="#000"/>
<path d="M66.96,523.42 L70.16,523.42 L68.56,526.22 Z" fill="#000"/>
<path d="M70.80,524.12 L74.00,524.12 L72.40,526.92 Z" fill="#000"/>
<path d="M74.47,523.70 L77.67,523.70 L76.07,526.50 Z" fill="#000"/>
<path d="M65.82,527.02 L69.02,527.02 L67.42,529.82 Z" fill="#000"/>
<path d="M68.87,526.88 L72.07,526.88 L70.47,529.68 Z" fill="#000"/>
<path d="M72.53,527.00 L75.73,527.00 L74.13,529.80 Z" fill="#000"/>
<path d="M66.90,529.20 L70.10,529.20 L68.50,532.00 Z" fill="#000"/>
<path d="M69.94,529.51 L73.14,529.51 L71.54,532.31 Z" fill="#000"/>
<path d="M65.07,531.52 L68.27,531.52 L66.67,534.32 Z" fill="#000"/>
<path d="M69.58,531.12 L72.78,531.12 L71.18,533.92 Z" fill="#000"/>
<path d="M68.12,536.67 L71.32,536.67 L69.72,539.47 Z" fill="#000"/>
<path d="M69.38,538.39 L72.58,538.39 L70.98,541.19 Z" fill="#000"/>
<path d="M67.90,541.87 L71.10,541.87 L69.50,544.67 Z" fill="#000"/>
<path d="M69.32,545.53 L72.52,545.53 L70.92,548.33 Z" fill="#000"/>
<path d="M66.92,549.55 L70.12,549.55 L68.52,552.35 Z" fill="#000"/>
<path d="M70.28,549.38 L73.48,549.38 L71.88,552.18 Z" fill="#000"/>
<path d="M67.58,554.77 L70.78,554.77 L69.18,557.57 Z" fill="#000"/>
<path d="M69.40,554.23 L72.60,554.23 L71.00,557.03 Z" fill="#000"/>
<path d="M69.08,562.07 L72.28,562.07 L70.68,564.87 Z" fill="#000"/>
<path d="M94.12,476.95 L97.32,476.95 L95.72,479.75 Z" fill="#000"/>
<path d="M98.15,476.89 L101.35,476.89 L99.75,479.69 Z" fill="#000"/>
<path d="M101.96,476.23 L105.16,476.23 L103.56,479.03 Z" fill="#000"/>
<path d="M105.50,476.31 L108.70,476.31 L107.10,479.11 Z" fill="#000"/>
<path d="M95.99,478.81 L99.19,478.81 L97.59,481.61 Z" fill="#000"/>
<path d="M99.01,478.64 L102.21,478.64 L100.61,481.44 Z" fill="#000"/>
<path d="M101.90,479.13 L105.10,479.13 L103.50,481.93 Z" fill="#000"/>
<path d="M93.98,480.88 L97.18,480.88 L95.58,483.68 Z" fill="#000"/>
<path d="M97.77,481.32 L100.97,481.32 L99.37,484.12 Z" fill="#000"/>
<path d="M101.14,481.34 L104.34,481.34 L102.74,484.14 Z" fill="#000"/>
<path d="M105.20,480.95 L108.40,480.95 L106.80,483.75 Z" fill="#000"/>
<path d="M94.12,482.74 L97.32,482.74 L95.72,485.54 Z" fill="#000"/>
<path d="M97.65,482.90 L100.85,482.90 L99.25,485.70 Z" fill="#000"/>
<path d="M100.80,483.52 L104.00,483.52 L102.40,486.32 Z" fill="#000"/>
<path d="M104.94,483.19 L108.14,483.19 L106.54,485.99 Z" fill="#000"/>
<path d="M90.38,485.48 L93.58,485.48 L91.98,488.28 Z" fill="#000"/>
<path d="M93.96,485.44 L97.16,485.44 L95.56,488.24 Z" fill="#000"/>
<path d="M97.74,485.70 L100.94,485.70 L99.34,488.50 Z" fill="#000"/>
<path d="M100.88,485.48 L104.08,485.48 L102.48,488.28 Z" fill="#000"/>
<path d="M105.00,485.20 L108.20,485.20 L106.60,488.00 Z" fill="#000"/>
<path d="M94.32,487.73 L97.52,487.73 L95.92,490.53 Z" fill="#000"/>
<path d="M97.75,487.98 L100.95,487.98 L99.35,490.78 Z" fill="#000"/>
<path d="M101.53,487.66 L104.73,487.66 L103.13,490.46 Z" fill="#000"/>
<path d="M105.29,487.73 L108.49,487.73 L106.89,490.53 Z" fill="#000"/>
<path d="M94.11,490.21 L97.31,490.21 L95.71,493.01 Z" fill="#000"/>
<path d="M97.66,490.05 L100.86,490.05 L99.26,492.85 Z" fill="#000"/>
<path d="M101.18,490.46 L104.38,490.46 L102.78,493.26 Z" fill="#000"/>
<path d="M105.36,490.40 L108.56,490.40 L106.96,493.20 Z" fill="#000"/>
<path d="M94.45,492.08 L97.65,492.08 L96.05,494.88 Z" fill="#000"/>
<path d="M97.75,492.76 L100.95,492.76 L99.35,495.56 Z" fill="#000"/>
<path d="M101.47,491.96 L104.67,491.96 L103.07,494.76 Z" fill="#000"/>
<path d="M97.40,494.56 L100.60,494.56 L99.00,497.36 Z" fill="#000"/>
<path d="M100.86,494.36 L104.06,494.36 L102.46,497.16 Z" fill="#000"/>
<path d="M104.86,494.79 L108.06,494.79 L106.46,497.59 Z" fill="#000"/>
<path d="M97.93,498.12 L101.13,498.12 L99.53,500.92 Z" fill="#000"/>
<path d="M100.92,497.94 L104.12,497.94 L102.52,500.74 Z" fill="#000"/>
<path d="M96.33,500.86 L99.53,500.86 L97.93,503.66 Z" fill="#000"/>
<path d="M100.51,501.69 L103.71,501.69 L102.11,504.49 Z" fill="#000"/>
<path d="M103.48,501.67 L106.68,501.67 L105.08,504.47 Z" fill="#000"/>
<path d="M92.62,504.21 L95.82,504.21 L94.22,507.01 Z" fill="#000"/>
<path d="M96.59,504.55 L99.79,504.55 L98.19,507.35 Z" fill="#000"/>
<path d="M99.43,504.15 L102.63,504.15 L101.03,506.95 Z" fill="#000"/>
<path d="M103.21,504.06 L106.41,504.06 L104.81,506.86 Z" fill="#000"/>
<path d="M106.46,504.04 L109.66,504.04 L108.06,506.84 Z" fill="#000"/>
<path d="M90.38,506.24 L93.58,506.24 L91.98,509.04 Z" fill="#000"/>
<path d="M94.14,506.66 L97.34,506.66 L95.74,509.46 Z" fill="#000"/>
<path d="M97.31,506.55 L100.51,506.55 L98.91,509.35 Z" fill="#000"/>
<path d="M101.30,506.73 L104.50,506.73 L102.90,509.53 Z" fill="#000"/>
<path d="M104.85,507.21 L108.05,507.21 L106.45,510.01 Z" fill="#000"/>
<path d="M109.43,507.19 L112.63,507.19 L111.03,509.99 Z" fill="#000"/>
<path d="M91.88,508.99 L95.08,508.99 L93.48,511.79 Z" fill="#000"/>
<path d="M95.83,509.50 L99.03,509.50 L97.43,512.30 Z" fill="#000"/>
<path d="M99.52,508.85 L102.72,508.85 L101.12,511.65 Z" fill="#000"/>
<path d="M103.14,509.63 L106.34,509.63 L104.74,512.43 Z" fill="#000"/>
<path d="M106.96,508.98 L110.16,508.98 L108.56,511.78 Z" fill="#000"/>
<path d="M93.82,512.14 L97.02,512.14 L95.42,514.94 Z" fill="#000"/>
<path d="M97.76,511.92 L100.96,511.92 L99.36,514.72 Z" fill="#000"/>
<path d="M100.87,511.28 L104.07,511.28 L102.47,514.08 Z" fill="#000"/>
<path d="M105.35,511.65 L108.55,511.65 L106.95,514.45 Z" fill="#000"/>
<path d="M108.36,512.16 L111.56,512.16 L109.96,514.96 Z" fill="#000"/>
<path d="M94.21,514.52 L97.41,514.52 L95.81,517.32 Z" fill="#000"/>
<path d="M97.37,514.58 L100.57,514.58 L98.97,517.38 Z" fill="#000"/>
<path d="M100.85,514.58 L104.05,514.58 L102.45,517.38 Z" fill="#000"/>
<path d="M105.16,514.06 L108.36,514.06 L106.76,516.86 Z" fill="#000"/>
<path d="M94.14,517.15 L97.34,517.15 L95.74,519.95 Z" fill="#000"/>
<path d="M97.51,516.35 L100.71,516.35 L99.11,519.15 Z" fill="#000"/>
<path d="M101.22,516.46 L104.42,516.46 L102.82,519.26 Z" fill="#000"/>
<path d="M104.39,516.38 L107.59,516.38 L105.99,519.18 Z" fill="#000"/>
<path d="M95.84,518.92 L99.04,518.92 L97.44,521.72 Z" fill="#000"/>
<path d="M100.05,519.03 L103.25,519.03 L101.65,521.83 Z" fill="#000"/>
<path d="M103.91,519.01 L107.11,519.01 L105.51,521.81 Z" fill="#000"/>
<path d="M97.70,520.90 L100.90,520.90 L99.30,523.70 Z" fill="#000"/>
<path d="M101.08,520.74 L104.28,520.74 L102.68,523.54 Z" fill="#000"/>
<path d="M101.00,527.04 L104.20,527.04 L102.60,529.84 Z" fill="#000"/>
<path d="M97.89,529.77 L101.09,529.77 L99.49,532.57 Z" fill="#000"/>
<path d="M104.45,529.69 L107.65,529.69 L106.05,532.49 Z" fill="#000"/>
<path d="M98.05,531.53 L101.25,531.53 L99.65,534.33 Z" fill="#000"/>
<path d="M100.16,537.35 L103.36,537.35 L101.76,540.15 Z" fill="#000"/>
<path d="M93.20,545.55 L96.40,545.55 L94.80,548.35 Z" fill="#000"/>
<path d="M97.11,545.23 L100.31,545.23 L98.71,548.03 Z" fill="#000"/>
<path d="M101.35,545.70 L104.55,545.70 L102.95,548.50 Z" fill="#000"/>
<path d="M105.57,545.55 L108.77,545.55 L107.17,548.35 Z" fill="#000"/>
<path d="M100.87,547.86 L104.07,547.86 L102.47,550.66 Z" fill="#000"/>
<path d="M99.62,572.17 L102.82,572.17 L101.22,574.97 Z" fill="#000"/>
<path d="M130.54,498.65 L133.74,498.65 L132.14,501.45 Z" fill="#000"/>
<path d="M127.06,501.96 L130.26,501.96 L128.66,504.76 Z" fill="#000"/>
<path d="M133.20,501.38 L136.40,501.38 L134.80,504.18 Z" fill="#000"/>
<path d="M130.07,504.56 L133.27,504.56 L131.67,507.36 Z" fill="#000"/>
<path d="M135.20,504.39 L138.40,504.39 L136.80,507.19 Z" fill="#000"/>
<path d="M128.73,506.46 L131.93,506.46 L130.33,509.26 Z" fill="#000"/>
<path d="M132.23,506.68 L135.43,506.68 L133.83,509.48 Z" fill="#000"/>
<path d="M126.63,509.67 L129.83,509.67 L128.23,512.47 Z" fill="#000"/>
<path d="M131.21,510.18 L134.41,510.18 L132.81,512.98 Z" fill="#000"/>
<path d="M133.28,512.77 L136.48,512.77 L134.88,515.57 Z" fill="#000"/>
<path d="M129.70,516.69 L132.90,516.69 L131.30,519.49 Z" fill="#000"/>
<path d="M131.25,519.58 L134.45,519.58 L132.85,522.38 Z" fill="#000"/>
<path d="M130.50,531.60 L133.70,531.60 L132.10,534.40 Z" fill="#000"/>
<circle cx="242.40" cy="467.00" r="2.0" fill="#f5306e"/>
<circle cx="242.40" cy="469.60" r="2.0" fill="#f5306e"/>
<circle cx="242.40" cy="472.20" r="2.0" fill="#f5306e"/>
<circle cx="242.40" cy="474.80" r="2.0" fill="#f5306e"/>
<circle cx="242.40" cy="477.40" r="2.0" fill="#f5306e"/>
<circle cx="242.40" cy="480.00" r="2.0" fill="#f5306e"/>
<circle cx="242.40" cy="482.60" r="2.0" fill="#f5306e"/>
<circle cx="242.40" cy="485.20" r="2.0" fill="#f5306e"/>
<circle cx="242.40" cy="487.80" r="2.0" fill="#f5306e"/>
<circle cx="242.40" cy="490.40" r="2.0" fill="#f5306e"/>
<circle cx="242.40" cy="493.00" r="2.0" fill="#f5306e"/>
<circle cx="242.40" cy="469.60" r="2.0" fill="#3a8f88"/>
<circle cx="242.40" cy="494.00" r="2.0" fill="#3a8f88"/>
<circle cx="242.40" cy="491.00" r="2.0" fill="#3a8f88"/>
<circle cx="242.40" cy="497.00" r="2.0" fill="#7b1fc4"/>
<circle cx="242.40" cy="495.00" r="2.0" fill="#7b1fc4"/>
<circle cx="242.40" cy="479.00" r="2.0" fill="#000"/>
<circle cx="242.40" cy="482.20" r="2.0" fill="#000"/>
<circle cx="242.40" cy="485.40" r="2.0" fill="#000"/>
<circle cx="242.40" cy="488.60" r="2.0" fill="#000"/>
<circle cx="242.40" cy="465.50" r="2.0" fill="#000"/>
<circle cx="273.40" cy="470.00" r="2.0" fill="#e9b27a"/>
<circle cx="273.40" cy="476.00" r="2.0" fill="#000"/>
<circle cx="273.40" cy="479.00" r="2.0" fill="#000"/>
<circle cx="273.40" cy="482.00" r="2.0" fill="#000"/>
<circle cx="273.40" cy="485.00" r="2.0" fill="#000"/>
<circle cx="273.40" cy="488.00" r="2.0" fill="#000"/>
<circle cx="273.40" cy="491.00" r="2.0" fill="#000"/>
<circle cx="273.40" cy="494.00" r="2.0" fill="#000"/>
<circle cx="273.40" cy="497.00" r="2.0" fill="#000"/>
<circle cx="273.40" cy="500.00" r="2.0" fill="#000"/>
<circle cx="273.40" cy="503.00" r="2.0" fill="#000"/>
<circle cx="273.40" cy="484.00" r="2.0" fill="#f5306e"/>
<circle cx="273.40" cy="486.50" r="2.0" fill="#f5306e"/>
<circle cx="273.40" cy="489.00" r="2.0" fill="#f5306e"/>
<circle cx="273.40" cy="512.00" r="2.0" fill="#7b1fc4"/>
<circle cx="273.40" cy="492.00" r="2.0" fill="#3a8f88"/>
<circle cx="304.40" cy="470.40" r="2.0" fill="#000"/>
<circle cx="304.40" cy="473.40" r="2.0" fill="#000"/>
<circle cx="304.40" cy="476.40" r="2.0" fill="#000"/>
<circle cx="304.40" cy="479.40" r="2.0" fill="#000"/>
<circle cx="304.40" cy="482.40" r="2.0" fill="#000"/>
<circle cx="304.40" cy="485.40" r="2.0" fill="#000"/>
<circle cx="304.40" cy="488.40" r="2.0" fill="#000"/>
<circle cx="304.40" cy="491.40" r="2.0" fill="#000"/>
<circle cx="304.40" cy="478.00" r="2.0" fill="#f5306e"/>
<circle cx="304.40" cy="480.60" r="2.0" fill="#f5306e"/>
<circle cx="304.40" cy="483.20" r="2.0" fill="#f5306e"/>
<circle cx="304.40" cy="485.80" r="2.0" fill="#f5306e"/>
<circle cx="304.40" cy="504.00" r="2.0" fill="#f5306e"/>
<circle cx="304.40" cy="494.00" r="2.0" fill="#7b1fc4"/>
<circle cx="304.40" cy="499.60" r="2.0" fill="#3a8f88"/>
<circle cx="304.40" cy="507.00" r="2.0" fill="#3a8f88"/>
<circle cx="335.50" cy="477.10" r="2.0" fill="#e9b27a"/>
<circle cx="335.50" cy="479.50" r="2.0" fill="#e9b27a"/>
<circle cx="335.50" cy="481.90" r="2.0" fill="#e9b27a"/>
<circle cx="335.50" cy="484.30" r="2.0" fill="#e9b27a"/>
<circle cx="335.50" cy="487.30" r="2.0" fill="#f5306e"/>
<circle cx="335.50" cy="489.80" r="2.0" fill="#f5306e"/>
<circle cx="335.50" cy="492.30" r="2.0" fill="#f5306e"/>
<circle cx="335.50" cy="494.80" r="2.0" fill="#f5306e"/>
<circle cx="335.50" cy="497.30" r="2.0" fill="#f5306e"/>
<circle cx="335.50" cy="490.40" r="2.0" fill="#7b1fc4"/>
<circle cx="335.50" cy="504.70" r="2.0" fill="#000"/>
<circle cx="335.50" cy="507.10" r="2.0" fill="#000"/>
<circle cx="335.50" cy="509.50" r="2.0" fill="#000"/>
<circle cx="335.50" cy="511.90" r="2.0" fill="#000"/>
<circle cx="335.50" cy="514.30" r="2.0" fill="#000"/>
<circle cx="335.50" cy="516.70" r="2.0" fill="#000"/>
<circle cx="335.50" cy="501.60" r="2.0" fill="#3a8f88"/>
<circle cx="335.50" cy="521.00" r="2.0" fill="#3a8f88"/>
<circle cx="335.50" cy="524.30" r="2.0" fill="#3a8f88"/>
<circle cx="335.50" cy="527.60" r="2.0" fill="#3a8f88"/>
<circle cx="335.50" cy="530.90" r="2.0" fill="#3a8f88"/>
<circle cx="366.70" cy="467.00" r="2.0" fill="#e9b27a"/>
<circle cx="366.70" cy="495.50" r="2.0" fill="#e9b27a"/>
<circle cx="366.70" cy="497.90" r="2.0" fill="#e9b27a"/>
<circle cx="366.70" cy="500.30" r="2.0" fill="#e9b27a"/>
<circle cx="366.70" cy="502.70" r="2.0" fill="#e9b27a"/>
<circle cx="366.70" cy="508.20" r="2.0" fill="#e9b27a"/>
<circle cx="366.70" cy="549.20" r="2.0" fill="#7b1fc4"/>
<circle cx="366.70" cy="571.00" r="2.0" fill="#7b1fc4"/>
<circle cx="366.70" cy="559.80" r="2.0" fill="#f5306e"/>
<circle cx="366.70" cy="563.90" r="2.0" fill="#f5306e"/>
<circle cx="366.70" cy="580.20" r="2.0" fill="#f5306e"/>
<circle cx="366.70" cy="582.90" r="2.0" fill="#f5306e"/>
<circle cx="366.70" cy="585.60" r="2.0" fill="#f5306e"/>
<circle cx="366.70" cy="588.30" r="2.0" fill="#f5306e"/>
<circle cx="366.70" cy="586.00" r="2.0" fill="#3a8f88"/>
<circle cx="366.70" cy="590.40" r="2.0" fill="#000"/>
<path d="M242.60,486.00 L243.63,486.00 L244.67,486.00 L245.70,486.00 L246.74,486.00 L247.77,486.00 L248.81,486.00 L249.84,486.00 L250.87,486.00 L251.91,486.00 L252.94,486.00 L253.98,486.00 L255.01,486.00 L256.04,486.01 L257.08,486.01 L258.11,486.01 L259.15,486.01 L260.18,486.01 L261.21,486.01 L262.25,486.01 L263.28,486.01 L264.32,486.01 L265.35,486.02 L266.39,486.02 L267.42,486.02 L268.45,486.02 L269.49,486.02 L270.52,486.02 L271.56,486.03 L272.59,486.03 L273.62,486.03 L274.66,486.03 L275.69,486.03 L276.73,486.04 L277.76,486.04 L278.80,486.04 L279.83,486.04 L280.86,486.04 L281.90,486.05 L282.93,486.05 L283.97,486.05 L285.00,486.05 L286.03,486.06 L287.07,486.06 L288.10,486.06 L289.14,486.07 L290.17,486.07 L291.21,486.07 L292.24,486.08 L293.27,486.08 L294.31,486.08 L295.34,486.08 L296.38,486.09 L297.41,486.09 L298.44,486.09 L299.48,486.10 L300.51,486.10 L301.55,486.11 L302.58,486.11 L303.62,486.12 L304.65,486.12 L305.68,486.13 L306.72,486.14 L307.75,486.14 L308.79,486.15 L309.82,486.16 L310.86,486.17 L311.89,486.19 L312.92,486.20 L313.96,486.21 L314.99,486.23 L316.03,486.24 L317.06,486.26 L318.09,486.28 L319.13,486.30 L320.16,486.32 L321.20,486.35 L322.23,486.37 L323.26,486.39 L324.30,486.42 L325.33,486.45 L326.37,486.48 L327.40,486.51 L328.44,486.55 L329.47,486.58 L330.50,486.62 L331.54,486.69 L332.57,486.80 L333.61,486.94 L334.64,487.12 L335.68,487.35 L336.71,487.85 L337.74,488.62 L338.78,489.50 L339.81,490.28 L340.85,490.92 L341.88,491.55 L342.91,492.16 L343.95,492.72 L344.98,493.21 L346.02,493.62 L347.05,493.98 L348.08,494.33 L349.12,494.64 L350.15,494.92 L351.19,495.17 L352.22,495.38 L353.26,495.56 L354.29,495.71 L355.32,495.86 L356.36,495.99 L357.39,496.10 L358.43,496.20 L359.46,496.27 L360.50,496.32 L361.53,496.37 L362.56,496.41 L363.60,496.45 L364.63,496.48 L365.67,496.49 L366.70,496.50" stroke="#e9b27a" stroke-width="1.4" fill="none"/>
<path d="M242.60,482.80 L243.63,482.83 L244.67,482.85 L245.70,482.88 L246.74,482.91 L247.77,482.94 L248.81,482.97 L249.84,483.01 L250.87,483.04 L251.91,483.08 L252.94,483.12 L253.98,483.16 L255.01,483.20 L256.04,483.25 L257.08,483.29 L258.11,483.33 L259.15,483.38 L260.18,483.43 L261.21,483.48 L262.25,483.53 L263.28,483.58 L264.32,483.63 L265.35,483.68 L266.39,483.73 L267.42,483.79 L268.45,483.84 L269.49,483.90 L270.52,483.95 L271.56,484.01 L272.59,484.07 L273.62,484.13 L274.66,484.19 L275.69,484.25 L276.73,484.31 L277.76,484.37 L278.80,484.43 L279.83,484.49 L280.86,484.55 L281.90,484.61 L282.93,484.67 L283.97,484.73 L285.00,484.79 L286.03,484.85 L287.07,484.91 L288.10,484.97 L289.14,485.04 L290.17,485.11 L291.21,485.18 L292.24,485.25 L293.27,485.33 L294.31,485.41 L295.34,485.49 L296.38,485.58 L297.41,485.68 L298.44,485.78 L299.48,485.89 L300.51,486.00 L301.55,486.12 L302.58,486.25 L303.62,486.39 L304.65,486.54 L305.68,486.72 L306.72,486.94 L307.75,487.20 L308.79,487.50 L309.82,487.84 L310.86,488.21 L311.89,488.61 L312.92,489.04 L313.96,489.51 L314.99,490.00 L316.03,490.56 L317.06,491.25 L318.09,492.04 L319.13,492.93 L320.16,493.90 L321.20,494.94 L322.23,496.03 L323.26,497.25 L324.30,498.66 L325.33,500.20 L326.37,501.85 L327.40,503.58 L328.44,505.34 L329.47,507.11 L330.50,508.85 L331.54,510.62 L332.57,512.44 L333.61,514.33 L334.64,516.29 L335.68,518.36 L336.71,520.59 L337.74,522.97 L338.78,525.40 L339.81,527.78 L340.85,530.08 L341.88,532.37 L342.91,534.62 L343.95,536.82 L344.98,538.96 L346.02,541.06 L347.05,543.12 L348.08,545.18 L349.12,547.24 L350.15,549.31 L351.19,551.35 L352.22,553.36 L353.26,555.39 L354.29,557.45 L355.32,559.58 L356.36,561.81 L357.39,564.20 L358.43,566.69 L359.46,569.16 L360.50,571.52 L361.53,573.69 L362.56,575.77 L363.60,577.78 L364.63,579.71 L365.67,581.55 L366.70,583.30" stroke="#3a8f88" stroke-width="1.4" fill="none"/>
<path d="M242.60,489.20 L243.63,489.20 L244.67,489.20 L245.70,489.20 L246.74,489.21 L247.77,489.21 L248.81,489.21 L249.84,489.21 L250.87,489.22 L251.91,489.22 L252.94,489.23 L253.98,489.23 L255.01,489.24 L256.04,489.25 L257.08,489.25 L258.11,489.26 L259.15,489.27 L260.18,489.27 L261.21,489.28 L262.25,489.29 L263.28,489.30 L264.32,489.31 L265.35,489.32 L266.39,489.33 L267.42,489.34 L268.45,489.35 L269.49,489.36 L270.52,489.37 L271.56,489.38 L272.59,489.39 L273.62,489.40 L274.66,489.41 L275.69,489.43 L276.73,489.44 L277.76,489.45 L278.80,489.46 L279.83,489.47 L280.86,489.49 L281.90,489.50 L282.93,489.51 L283.97,489.52 L285.00,489.54 L286.03,489.55 L287.07,489.56 L288.10,489.58 L289.14,489.59 L290.17,489.60 L291.21,489.62 L292.24,489.63 L293.27,489.64 L294.31,489.65 L295.34,489.67 L296.38,489.68 L297.41,489.70 L298.44,489.71 L299.48,489.73 L300.51,489.75 L301.55,489.77 L302.58,489.79 L303.62,489.81 L304.65,489.84 L305.68,489.87 L306.72,489.89 L307.75,489.92 L308.79,489.96 L309.82,489.99 L310.86,490.04 L311.89,490.09 L312.92,490.17 L313.96,490.25 L314.99,490.36 L316.03,490.47 L317.06,490.60 L318.09,490.74 L319.13,490.89 L320.16,491.05 L321.20,491.22 L322.23,491.41 L323.26,491.61 L324.30,491.86 L325.33,492.15 L326.37,492.49 L327.40,492.87 L328.44,493.31 L329.47,493.80 L330.50,494.34 L331.54,494.95 L332.57,495.62 L333.61,496.66 L334.64,498.05 L335.68,499.56 L336.71,501.18 L337.74,502.98 L338.78,504.93 L339.81,507.01 L340.85,509.28 L341.88,511.81 L342.91,514.44 L343.95,517.00 L344.98,519.47 L346.02,521.90 L347.05,524.35 L348.08,526.84 L349.12,529.43 L350.15,532.15 L351.19,535.04 L352.22,538.05 L353.26,541.14 L354.29,544.25 L355.32,547.32 L356.36,550.32 L357.39,553.28 L358.43,556.22 L359.46,559.15 L360.50,562.07 L361.53,564.99 L362.56,567.91 L363.60,570.82 L364.63,573.72 L365.67,576.61 L366.70,579.50" stroke="#7b1fc4" stroke-width="1.4" fill="none"/>
<path d="M242.60,487.00 L243.63,487.00 L244.67,487.00 L245.70,487.00 L246.74,487.00 L247.77,487.00 L248.81,487.00 L249.84,487.00 L250.87,487.01 L251.91,487.01 L252.94,487.01 L253.98,487.01 L255.01,487.01 L256.04,487.02 L257.08,487.02 L258.11,487.02 L259.15,487.02 L260.18,487.03 L261.21,487.03 L262.25,487.03 L263.28,487.04 L264.32,487.04 L265.35,487.05 L266.39,487.05 L267.42,487.05 L268.45,487.06 L269.49,487.06 L270.52,487.07 L271.56,487.07 L272.59,487.08 L273.62,487.08 L274.66,487.09 L275.69,487.10 L276.73,487.10 L277.76,487.11 L278.80,487.12 L279.83,487.12 L280.86,487.13 L281.90,487.14 L282.93,487.14 L283.97,487.15 L285.00,487.16 L286.03,487.17 L287.07,487.18 L288.10,487.18 L289.14,487.19 L290.17,487.20 L291.21,487.21 L292.24,487.23 L293.27,487.25 L294.31,487.27 L295.34,487.30 L296.38,487.33 L297.41,487.37 L298.44,487.40 L299.48,487.45 L300.51,487.49 L301.55,487.54 L302.58,487.59 L303.62,487.64 L304.65,487.69 L305.68,487.75 L306.72,487.80 L307.75,487.86 L308.79,487.93 L309.82,487.99 L310.86,488.06 L311.89,488.13 L312.92,488.22 L313.96,488.31 L314.99,488.42 L316.03,488.53 L317.06,488.65 L318.09,488.79 L319.13,488.93 L320.16,489.08 L321.20,489.24 L322.23,489.41 L323.26,489.58 L324.30,489.76 L325.33,489.96 L326.37,490.18 L327.40,490.44 L328.44,490.73 L329.47,491.08 L330.50,491.48 L331.54,491.95 L332.57,492.51 L333.61,493.67 L334.64,495.35 L335.68,497.08 L336.71,498.82 L337.74,500.68 L338.78,502.67 L339.81,504.80 L340.85,507.12 L341.88,509.68 L342.91,512.36 L343.95,515.04 L344.98,517.69 L346.02,520.37 L347.05,523.08 L348.08,525.85 L349.12,528.69 L350.15,531.61 L351.19,534.69 L352.22,537.88 L353.26,541.11 L354.29,544.34 L355.32,547.50 L356.36,550.53 L357.39,553.46 L358.43,556.34 L359.46,559.20 L360.50,562.08 L361.53,565.00 L362.56,567.94 L363.60,570.89 L364.63,573.85 L365.67,576.82 L366.70,579.80" stroke="#f5306e" stroke-width="1.4" fill="none"/>
<path d="M242.60,485.20 L243.63,485.20 L244.67,485.20 L245.70,485.20 L246.74,485.20 L247.77,485.20 L248.81,485.20 L249.84,485.20 L250.87,485.20 L251.91,485.20 L252.94,485.20 L253.98,485.20 L255.01,485.21 L256.04,485.21 L257.08,485.21 L258.11,485.21 L259.15,485.21 L260.18,485.21 L261.21,485.21 L262.25,485.21 L263.28,485.21 L264.32,485.22 L265.35,485.22 L266.39,485.22 L267.42,485.22 L268.45,485.22 L269.49,485.22 L270.52,485.23 L271.56,485.23 L272.59,485.23 L273.62,485.23 L274.66,485.23 L275.69,485.24 L276.73,485.24 L277.76,485.24 L278.80,485.24 L279.83,485.24 L280.86,485.25 L281.90,485.25 L282.93,485.25 L283.97,485.25 L285.00,485.26 L286.03,485.26 L287.07,485.26 L288.10,485.26 L289.14,485.27 L290.17,485.27 L291.21,485.27 L292.24,485.28 L293.27,485.28 L294.31,485.28 L295.34,485.29 L296.38,485.29 L297.41,485.29 L298.44,485.30 L299.48,485.30 L300.51,485.30 L301.55,485.30 L302.58,485.31 L303.62,485.31 L304.65,485.32 L305.68,485.32 L306.72,485.32 L307.75,485.33 L308.79,485.34 L309.82,485.34 L310.86,485.35 L311.89,485.36 L312.92,485.37 L313.96,485.37 L314.99,485.39 L316.03,485.40 L317.06,485.41 L318.09,485.43 L319.13,485.44 L320.16,485.46 L321.20,485.48 L322.23,485.50 L323.26,485.57 L324.30,485.74 L325.33,486.00 L326.37,486.35 L327.40,486.79 L328.44,487.32 L329.47,488.58 L330.50,490.88 L331.54,493.83 L332.57,497.06 L333.61,501.34 L334.64,506.50 L335.68,511.64 L336.71,516.76 L337.74,522.01 L338.78,527.22 L339.81,532.20 L340.85,537.20 L341.88,542.10 L342.91,546.62 L343.95,550.45 L344.98,553.79 L346.02,556.83 L347.05,559.61 L348.08,562.20 L349.12,564.64 L350.15,566.96 L351.19,569.14 L352.22,571.21 L353.26,573.17 L354.29,575.04 L355.32,576.83 L356.36,578.57 L357.39,580.26 L358.43,581.86 L359.46,583.35 L360.50,584.70 L361.53,585.90 L362.56,587.02 L363.60,588.06 L364.63,589.02 L365.67,589.87 L366.70,590.60" stroke="#000" stroke-width="1.4" fill="none"/>
<line x1="242.40" y1="456.20" x2="242.40" y2="598.20" stroke="#000" stroke-width="1.4"/>
<line x1="236.90" y1="592.90" x2="389.00" y2="592.90" stroke="#000" stroke-width="1.4"/>
<line x1="236.80" y1="592.90" x2="242.40" y2="592.90" stroke="#000" stroke-width="1.4"/>
<text x="235.40" y="596.35" font-size="9.6" font-weight="bold" text-anchor="end">0</text>
<line x1="236.80" y1="566.78" x2="242.40" y2="566.78" stroke="#000" stroke-width="1.4"/>
<line x1="236.80" y1="540.66" x2="242.40" y2="540.66" stroke="#000" stroke-width="1.4"/>
<text x="235.40" y="544.11" font-size="9.6" font-weight="bold" text-anchor="end">50</text>
<line x1="236.80" y1="514.54" x2="242.40" y2="514.54" stroke="#000" stroke-width="1.4"/>
<line x1="236.80" y1="488.42" x2="242.40" y2="488.42" stroke="#000" stroke-width="1.4"/>
<text x="235.40" y="491.87" font-size="9.6" font-weight="bold" text-anchor="end">100</text>
<line x1="236.80" y1="462.30" x2="242.40" y2="462.30" stroke="#000" stroke-width="1.4"/>
<line x1="242.50" y1="592.90" x2="242.50" y2="598.20" stroke="#000" stroke-width="1.4"/>
<text x="242.50" y="609.70" font-size="9.8" font-weight="bold" text-anchor="middle">0.001</text>
<line x1="273.50" y1="592.90" x2="273.50" y2="598.20" stroke="#000" stroke-width="1.4"/>
<text x="273.50" y="609.70" font-size="9.8" font-weight="bold" text-anchor="middle">0.01</text>
<line x1="304.50" y1="592.90" x2="304.50" y2="598.20" stroke="#000" stroke-width="1.4"/>
<text x="304.50" y="609.70" font-size="9.8" font-weight="bold" text-anchor="middle">0.1</text>
<line x1="335.50" y1="592.90" x2="335.50" y2="598.20" stroke="#000" stroke-width="1.4"/>
<text x="335.50" y="609.70" font-size="9.8" font-weight="bold" text-anchor="middle">1</text>
<line x1="366.50" y1="592.90" x2="366.50" y2="598.20" stroke="#000" stroke-width="1.4"/>
<text x="366.50" y="609.70" font-size="9.8" font-weight="bold" text-anchor="middle">10</text>
<text x="263.60" y="627.00" font-size="10.8" font-weight="bold">ALK inhibitors (µM)</text>
<text x="211.60" y="524.30" font-size="11.2" font-weight="bold" text-anchor="middle" transform="rotate(-90 211.60 524.30)" stroke="#000" stroke-width="0.22">Relative viability (%)</text>
<line x1="387.60" y1="506.50" x2="402.00" y2="506.50" stroke="#000" stroke-width="1.4"/>
<circle cx="394.80" cy="506.50" r="1.8" fill="#000"/>
<text x="410.60" y="510.60" font-size="11.2">Ceritinib</text>
<line x1="387.60" y1="524.80" x2="402.00" y2="524.80" stroke="#f5306e" stroke-width="1.4"/>
<circle cx="394.80" cy="524.80" r="1.8" fill="#f5306e"/>
<text x="410.60" y="528.90" font-size="11.2">Crizotinib</text>
<line x1="387.60" y1="543.10" x2="402.00" y2="543.10" stroke="#3a8f88" stroke-width="1.4"/>
<circle cx="394.80" cy="543.10" r="1.8" fill="#3a8f88"/>
<text x="410.60" y="547.20" font-size="11.2">Entrectinib</text>
<line x1="387.60" y1="561.40" x2="402.00" y2="561.40" stroke="#7b1fc4" stroke-width="1.4"/>
<circle cx="394.80" cy="561.40" r="1.8" fill="#7b1fc4"/>
<text x="410.60" y="565.50" font-size="11.2">Ensartinib</text>
<line x1="387.60" y1="579.70" x2="402.00" y2="579.70" stroke="#e9b27a" stroke-width="1.4"/>
<circle cx="394.80" cy="579.70" r="1.8" fill="#e9b27a"/>
<text x="410.60" y="583.80" font-size="11.2">Lorlatinib</text>
<line x1="536.60" y1="453.80" x2="536.60" y2="586.70" stroke="#000" stroke-width="1.4"/>
<line x1="535.90" y1="586.00" x2="668.80" y2="586.00" stroke="#000" stroke-width="1.4"/>
<line x1="530.40" y1="586.00" x2="536.60" y2="586.00" stroke="#000" stroke-width="1.4"/>
<text x="529.40" y="589.60" font-size="10.2" font-weight="bold" text-anchor="end">0</text>
<line x1="530.40" y1="542.15" x2="536.60" y2="542.15" stroke="#000" stroke-width="1.4"/>
<text x="529.40" y="545.75" font-size="10.2" font-weight="bold" text-anchor="end">10</text>
<line x1="530.40" y1="498.30" x2="536.60" y2="498.30" stroke="#000" stroke-width="1.4"/>
<text x="529.40" y="501.90" font-size="10.2" font-weight="bold" text-anchor="end">20</text>
<line x1="530.40" y1="454.45" x2="536.60" y2="454.45" stroke="#000" stroke-width="1.4"/>
<text x="529.40" y="458.05" font-size="10.2" font-weight="bold" text-anchor="end">30</text>
<line x1="553.30" y1="586.00" x2="553.30" y2="591.20" stroke="#000" stroke-width="1.4"/>
<line x1="577.90" y1="586.00" x2="577.90" y2="591.20" stroke="#000" stroke-width="1.4"/>
<line x1="602.70" y1="586.00" x2="602.70" y2="591.20" stroke="#000" stroke-width="1.4"/>
<line x1="627.30" y1="586.00" x2="627.30" y2="591.20" stroke="#000" stroke-width="1.4"/>
<line x1="652.10" y1="586.00" x2="652.10" y2="591.20" stroke="#000" stroke-width="1.4"/>
<text x="513.00" y="519.10" font-size="11.0" font-weight="bold" text-anchor="middle" transform="rotate(-90 513.00 519.10)" stroke="#000" stroke-width="0.22">Drug sensitivity score (DSS)</text>
<line x1="553.40" y1="444.00" x2="652.00" y2="444.00" stroke="#000" stroke-width="1.4"/>
<line x1="591.00" y1="434.60" x2="591.00" y2="440.80" stroke="#000" stroke-width="1.5"/>
<line x1="588.32" y1="436.15" x2="593.68" y2="439.25" stroke="#000" stroke-width="1.5"/>
<line x1="588.32" y1="439.25" x2="593.68" y2="436.15" stroke="#000" stroke-width="1.5"/>
<line x1="599.20" y1="434.60" x2="599.20" y2="440.80" stroke="#000" stroke-width="1.5"/>
<line x1="596.52" y1="436.15" x2="601.88" y2="439.25" stroke="#000" stroke-width="1.5"/>
<line x1="596.52" y1="439.25" x2="601.88" y2="436.15" stroke="#000" stroke-width="1.5"/>
<line x1="607.40" y1="434.60" x2="607.40" y2="440.80" stroke="#000" stroke-width="1.5"/>
<line x1="604.72" y1="436.15" x2="610.08" y2="439.25" stroke="#000" stroke-width="1.5"/>
<line x1="604.72" y1="439.25" x2="610.08" y2="436.15" stroke="#000" stroke-width="1.5"/>
<line x1="615.60" y1="434.60" x2="615.60" y2="440.80" stroke="#000" stroke-width="1.5"/>
<line x1="612.92" y1="436.15" x2="618.28" y2="439.25" stroke="#000" stroke-width="1.5"/>
<line x1="612.92" y1="439.25" x2="618.28" y2="436.15" stroke="#000" stroke-width="1.5"/>
<line x1="578.00" y1="463.60" x2="652.00" y2="463.60" stroke="#000" stroke-width="1.4"/>
<line x1="603.40" y1="454.20" x2="603.40" y2="460.40" stroke="#000" stroke-width="1.5"/>
<line x1="600.72" y1="455.75" x2="606.08" y2="458.85" stroke="#000" stroke-width="1.5"/>
<line x1="600.72" y1="458.85" x2="606.08" y2="455.75" stroke="#000" stroke-width="1.5"/>
<line x1="611.60" y1="454.20" x2="611.60" y2="460.40" stroke="#000" stroke-width="1.5"/>
<line x1="608.92" y1="455.75" x2="614.28" y2="458.85" stroke="#000" stroke-width="1.5"/>
<line x1="608.92" y1="458.85" x2="614.28" y2="455.75" stroke="#000" stroke-width="1.5"/>
<line x1="619.80" y1="454.20" x2="619.80" y2="460.40" stroke="#000" stroke-width="1.5"/>
<line x1="617.12" y1="455.75" x2="622.48" y2="458.85" stroke="#000" stroke-width="1.5"/>
<line x1="617.12" y1="458.85" x2="622.48" y2="455.75" stroke="#000" stroke-width="1.5"/>
<line x1="628.00" y1="454.20" x2="628.00" y2="460.40" stroke="#000" stroke-width="1.5"/>
<line x1="625.32" y1="455.75" x2="630.68" y2="458.85" stroke="#000" stroke-width="1.5"/>
<line x1="625.32" y1="458.85" x2="630.68" y2="455.75" stroke="#000" stroke-width="1.5"/>
<line x1="603.00" y1="480.00" x2="652.00" y2="480.00" stroke="#000" stroke-width="1.4"/>
<line x1="616.50" y1="470.60" x2="616.50" y2="476.80" stroke="#000" stroke-width="1.5"/>
<line x1="613.82" y1="472.15" x2="619.18" y2="475.25" stroke="#000" stroke-width="1.5"/>
<line x1="613.82" y1="475.25" x2="619.18" y2="472.15" stroke="#000" stroke-width="1.5"/>
<line x1="624.70" y1="470.60" x2="624.70" y2="476.80" stroke="#000" stroke-width="1.5"/>
<line x1="622.02" y1="472.15" x2="627.38" y2="475.25" stroke="#000" stroke-width="1.5"/>
<line x1="622.02" y1="475.25" x2="627.38" y2="472.15" stroke="#000" stroke-width="1.5"/>
<line x1="632.90" y1="470.60" x2="632.90" y2="476.80" stroke="#000" stroke-width="1.5"/>
<line x1="630.22" y1="472.15" x2="635.58" y2="475.25" stroke="#000" stroke-width="1.5"/>
<line x1="630.22" y1="475.25" x2="635.58" y2="472.15" stroke="#000" stroke-width="1.5"/>
<line x1="641.10" y1="470.60" x2="641.10" y2="476.80" stroke="#000" stroke-width="1.5"/>
<line x1="638.42" y1="472.15" x2="643.78" y2="475.25" stroke="#000" stroke-width="1.5"/>
<line x1="638.42" y1="475.25" x2="643.78" y2="472.15" stroke="#000" stroke-width="1.5"/>
<line x1="627.60" y1="496.00" x2="652.00" y2="496.00" stroke="#000" stroke-width="1.4"/>
<line x1="628.40" y1="486.60" x2="628.40" y2="492.80" stroke="#000" stroke-width="1.5"/>
<line x1="625.72" y1="488.15" x2="631.08" y2="491.25" stroke="#000" stroke-width="1.5"/>
<line x1="625.72" y1="491.25" x2="631.08" y2="488.15" stroke="#000" stroke-width="1.5"/>
<line x1="636.60" y1="486.60" x2="636.60" y2="492.80" stroke="#000" stroke-width="1.5"/>
<line x1="633.92" y1="488.15" x2="639.28" y2="491.25" stroke="#000" stroke-width="1.5"/>
<line x1="633.92" y1="491.25" x2="639.28" y2="488.15" stroke="#000" stroke-width="1.5"/>
<line x1="644.80" y1="486.60" x2="644.80" y2="492.80" stroke="#000" stroke-width="1.5"/>
<line x1="642.12" y1="488.15" x2="647.48" y2="491.25" stroke="#000" stroke-width="1.5"/>
<line x1="642.12" y1="491.25" x2="647.48" y2="488.15" stroke="#000" stroke-width="1.5"/>
<line x1="653.00" y1="486.60" x2="653.00" y2="492.80" stroke="#000" stroke-width="1.5"/>
<line x1="650.32" y1="488.15" x2="655.68" y2="491.25" stroke="#000" stroke-width="1.5"/>
<line x1="650.32" y1="491.25" x2="655.68" y2="488.15" stroke="#000" stroke-width="1.5"/>
<path d="M556.20,477.40 L557.46,478.21 L558.31,479.02 L558.94,479.84 L559.52,480.65 L560.08,481.46 L560.51,482.27 L560.80,483.09 L561.05,483.90 L561.19,484.71 L561.18,485.52 L561.06,486.34 L560.88,487.15 L560.66,487.96 L560.30,488.77 L559.87,489.59 L559.44,490.40 L558.96,491.21 L558.47,492.02 L558.02,492.84 L557.59,493.65 L557.17,494.46 L556.75,495.27 L556.31,496.09 L555.96,496.90 L555.67,497.71 L555.50,498.52 L555.50,499.34 L555.50,500.15 L555.50,500.96 L555.50,501.77 L555.51,502.59 L555.70,503.40 L556.01,504.21 L556.30,505.02 L556.57,505.84 L556.59,506.65 L556.53,507.46 L556.43,508.27 L556.12,509.09 L555.40,509.90 L551.00,509.90 L550.28,509.09 L549.97,508.27 L549.87,507.46 L549.81,506.65 L549.83,505.84 L550.10,505.02 L550.39,504.21 L550.70,503.40 L550.89,502.59 L550.90,501.77 L550.90,500.96 L550.90,500.15 L550.90,499.34 L550.90,498.52 L550.73,497.71 L550.44,496.90 L550.09,496.09 L549.65,495.27 L549.23,494.46 L548.81,493.65 L548.38,492.84 L547.93,492.02 L547.44,491.21 L546.96,490.40 L546.53,489.59 L546.10,488.77 L545.74,487.96 L545.52,487.15 L545.34,486.34 L545.22,485.52 L545.21,484.71 L545.35,483.90 L545.60,483.09 L545.89,482.27 L546.32,481.46 L546.88,480.65 L547.46,479.84 L548.09,479.02 L548.94,478.21 L550.20,477.40 Z" stroke="#000" stroke-width="1.3" fill="none" stroke-linejoin="round"/>
<line x1="545.20" y1="485.00" x2="561.20" y2="485.00" stroke="#000" stroke-width="0.7" stroke-dasharray="1.5 1.2"/>
<circle cx="553.20" cy="479.30" r="1.9" fill="none" stroke="#000" stroke-width="1.1"/>
<circle cx="549.40" cy="484.50" r="1.9" fill="none" stroke="#000" stroke-width="1.1"/>
<circle cx="557.20" cy="485.20" r="1.9" fill="none" stroke="#000" stroke-width="1.1"/>
<circle cx="553.20" cy="489.70" r="1.9" fill="none" stroke="#000" stroke-width="1.1"/>
<circle cx="553.20" cy="495.80" r="1.9" fill="none" stroke="#000" stroke-width="1.1"/>
<circle cx="553.20" cy="507.60" r="1.9" fill="none" stroke="#000" stroke-width="1.1"/>
<circle cx="553.20" cy="509.20" r="1.9" fill="none" stroke="#000" stroke-width="1.1"/>
<path d="M581.50,467.10 L581.93,467.87 L582.10,468.63 L582.10,469.40 L582.10,470.16 L582.10,470.93 L582.13,471.69 L582.21,472.46 L582.34,473.22 L582.48,473.99 L582.65,474.75 L582.90,475.51 L583.19,476.28 L583.53,477.05 L583.87,477.81 L584.21,478.57 L584.55,479.34 L584.94,480.11 L585.29,480.87 L585.53,481.63 L585.70,482.40 L585.84,483.17 L585.90,483.93 L585.80,484.69 L585.53,485.46 L585.21,486.23 L584.90,486.99 L584.55,487.75 L584.19,488.52 L583.87,489.28 L583.56,490.05 L583.28,490.81 L583.02,491.58 L582.81,492.34 L582.65,493.11 L582.50,493.88 L582.34,494.64 L582.15,495.40 L581.93,496.17 L581.55,496.94 L580.90,497.70 L574.90,497.70 L574.25,496.94 L573.87,496.17 L573.65,495.40 L573.46,494.64 L573.30,493.88 L573.15,493.11 L572.99,492.34 L572.78,491.58 L572.52,490.81 L572.24,490.05 L571.93,489.28 L571.61,488.52 L571.25,487.75 L570.90,486.99 L570.59,486.23 L570.27,485.46 L570.00,484.69 L569.90,483.93 L569.96,483.17 L570.10,482.40 L570.27,481.63 L570.51,480.87 L570.86,480.11 L571.25,479.34 L571.59,478.57 L571.93,477.81 L572.27,477.05 L572.61,476.28 L572.90,475.51 L573.15,474.75 L573.32,473.99 L573.46,473.22 L573.59,472.46 L573.67,471.69 L573.70,470.93 L573.70,470.16 L573.70,469.40 L573.70,468.63 L573.87,467.87 L574.30,467.10 Z" stroke="#3a9e62" stroke-width="1.3" fill="none" stroke-linejoin="round"/>
<line x1="569.90" y1="484.00" x2="585.90" y2="484.00" stroke="#555" stroke-width="0.7" stroke-dasharray="1.5 1.2"/>
<circle cx="577.90" cy="468.20" r="1.9" fill="none" stroke="#3a9e62" stroke-width="1.1"/>
<circle cx="577.90" cy="469.20" r="1.9" fill="none" stroke="#3a9e62" stroke-width="1.1"/>
<circle cx="577.90" cy="476.50" r="1.9" fill="none" stroke="#3a9e62" stroke-width="1.1"/>
<circle cx="574.20" cy="484.00" r="1.9" fill="none" stroke="#3a9e62" stroke-width="1.1"/>
<circle cx="581.60" cy="484.00" r="1.9" fill="none" stroke="#3a9e62" stroke-width="1.1"/>
<circle cx="577.90" cy="490.30" r="1.9" fill="none" stroke="#3a9e62" stroke-width="1.1"/>
<circle cx="577.90" cy="496.30" r="1.9" fill="none" stroke="#3a9e62" stroke-width="1.1"/>
<path d="M609.90,501.10 L610.19,502.06 L610.30,503.01 L610.24,503.97 L610.11,504.92 L609.92,505.88 L609.63,506.83 L609.24,507.79 L608.71,508.74 L608.21,509.69 L607.73,510.65 L607.32,511.61 L607.07,512.56 L606.89,513.51 L606.75,514.47 L606.67,515.42 L606.60,516.38 L606.56,517.34 L606.51,518.29 L606.46,519.25 L606.41,520.20 L606.37,521.15 L606.33,522.11 L606.30,523.06 L606.27,524.02 L606.25,524.98 L606.22,525.93 L606.21,526.88 L606.20,527.84 L606.21,528.79 L606.25,529.75 L606.31,530.70 L606.38,531.66 L606.45,532.62 L606.56,533.57 L606.66,534.52 L606.70,535.48 L606.62,536.43 L606.42,537.39 L606.01,538.34 L605.10,539.30 L600.30,539.30 L599.39,538.34 L598.98,537.39 L598.78,536.43 L598.70,535.48 L598.74,534.52 L598.84,533.57 L598.95,532.62 L599.02,531.66 L599.09,530.70 L599.15,529.75 L599.19,528.79 L599.20,527.84 L599.19,526.88 L599.18,525.93 L599.15,524.98 L599.13,524.02 L599.10,523.06 L599.07,522.11 L599.03,521.15 L598.99,520.20 L598.94,519.25 L598.89,518.29 L598.84,517.34 L598.80,516.38 L598.73,515.42 L598.65,514.47 L598.51,513.51 L598.33,512.56 L598.08,511.61 L597.67,510.65 L597.19,509.69 L596.69,508.74 L596.16,507.79 L595.77,506.83 L595.48,505.88 L595.29,504.92 L595.16,503.97 L595.10,503.01 L595.21,502.06 L595.50,501.10 Z" stroke="#f53a8f" stroke-width="1.3" fill="none" stroke-linejoin="round"/>
<path d="M604.5,501.5 Q607,497.6 609.6,501.5" stroke="#f53a8f" stroke-width="1.3" fill="none"/>
<line x1="598.29" y1="512.40" x2="607.11" y2="512.40" stroke="#000" stroke-width="0.8" stroke-dasharray="1.8 1.4"/>
<circle cx="598.90" cy="504.90" r="1.9" fill="none" stroke="#f53a8f" stroke-width="1.1"/>
<circle cx="606.50" cy="506.80" r="1.9" fill="none" stroke="#f53a8f" stroke-width="1.1"/>
<circle cx="607.00" cy="501.10" r="1.9" fill="none" stroke="#f53a8f" stroke-width="1.1"/>
<circle cx="602.70" cy="517.60" r="1.9" fill="none" stroke="#f53a8f" stroke-width="1.1"/>
<circle cx="602.70" cy="526.10" r="1.9" fill="none" stroke="#f53a8f" stroke-width="1.1"/>
<circle cx="602.70" cy="536.90" r="1.9" fill="none" stroke="#f53a8f" stroke-width="1.1"/>
<circle cx="602.70" cy="538.60" r="1.9" fill="none" stroke="#f53a8f" stroke-width="1.1"/>
<path d="M630.50,502.50 L630.91,503.50 L631.27,504.50 L631.56,505.51 L631.85,506.51 L632.23,507.51 L632.77,508.51 L633.38,509.52 L634.00,510.52 L634.51,511.52 L634.98,512.52 L635.45,513.53 L635.82,514.53 L636.00,515.53 L635.83,516.53 L635.34,517.54 L634.79,518.54 L634.09,519.54 L633.41,520.54 L632.80,521.55 L632.23,522.55 L631.71,523.55 L631.24,524.56 L630.81,525.56 L630.42,526.56 L630.08,527.56 L629.74,528.57 L629.51,529.57 L629.51,530.57 L629.53,531.57 L629.57,532.58 L629.63,533.58 L629.71,534.58 L629.94,535.58 L630.28,536.59 L630.59,537.59 L630.90,538.59 L630.98,539.59 L630.74,540.60 L630.27,541.60 L629.30,542.60 L625.70,542.60 L624.73,541.60 L624.26,540.60 L624.02,539.59 L624.10,538.59 L624.41,537.59 L624.72,536.59 L625.06,535.58 L625.29,534.58 L625.37,533.58 L625.43,532.58 L625.47,531.57 L625.49,530.57 L625.49,529.57 L625.26,528.57 L624.92,527.56 L624.58,526.56 L624.19,525.56 L623.76,524.56 L623.29,523.55 L622.77,522.55 L622.20,521.55 L621.59,520.54 L620.91,519.54 L620.21,518.54 L619.66,517.54 L619.17,516.53 L619.00,515.53 L619.18,514.53 L619.55,513.53 L620.02,512.52 L620.49,511.52 L621.00,510.52 L621.62,509.52 L622.23,508.51 L622.77,507.51 L623.15,506.51 L623.44,505.51 L623.73,504.50 L624.09,503.50 L624.50,502.50 Z" stroke="#7a22c2" stroke-width="1.3" fill="none" stroke-linejoin="round"/>
<line x1="619.03" y1="516.00" x2="635.97" y2="516.00" stroke="#555" stroke-width="0.7" stroke-dasharray="1.5 1.2"/>
<circle cx="627.50" cy="503.90" r="1.9" fill="none" stroke="#7a22c2" stroke-width="1.1"/>
<circle cx="627.50" cy="514.30" r="1.9" fill="none" stroke="#7a22c2" stroke-width="1.1"/>
<circle cx="622.00" cy="516.20" r="1.9" fill="none" stroke="#7a22c2" stroke-width="1.1"/>
<circle cx="632.80" cy="516.20" r="1.9" fill="none" stroke="#7a22c2" stroke-width="1.1"/>
<circle cx="627.50" cy="525.60" r="1.9" fill="none" stroke="#7a22c2" stroke-width="1.1"/>
<circle cx="627.50" cy="537.80" r="1.9" fill="none" stroke="#7a22c2" stroke-width="1.1"/>
<circle cx="627.50" cy="540.00" r="1.9" fill="none" stroke="#7a22c2" stroke-width="1.1"/>
<path d="M654.50,557.40 L654.98,558.12 L655.14,558.85 L655.19,559.57 L655.14,560.30 L654.80,561.02 L654.40,561.75 L654.12,562.48 L653.86,563.20 L653.71,563.92 L653.71,564.65 L653.76,565.38 L653.84,566.10 L653.94,566.82 L654.05,567.55 L654.18,568.27 L654.33,569.00 L654.55,569.73 L654.81,570.45 L655.10,571.17 L655.41,571.90 L655.71,572.62 L656.02,573.35 L656.35,574.07 L656.69,574.80 L657.05,575.52 L657.42,576.25 L657.79,576.98 L658.18,577.70 L658.59,578.42 L658.99,579.15 L659.47,579.88 L659.89,580.60 L660.00,581.32 L659.94,582.05 L659.84,582.77 L659.70,583.50 L659.48,584.23 L659.11,584.95 L658.64,585.67 L658.10,586.40 L646.10,586.40 L645.56,585.67 L645.09,584.95 L644.72,584.23 L644.50,583.50 L644.36,582.77 L644.26,582.05 L644.20,581.32 L644.31,580.60 L644.73,579.88 L645.21,579.15 L645.61,578.42 L646.02,577.70 L646.41,576.98 L646.78,576.25 L647.15,575.52 L647.51,574.80 L647.85,574.07 L648.18,573.35 L648.49,572.62 L648.79,571.90 L649.10,571.17 L649.39,570.45 L649.65,569.73 L649.87,569.00 L650.02,568.27 L650.15,567.55 L650.26,566.82 L650.36,566.10 L650.44,565.38 L650.49,564.65 L650.49,563.92 L650.34,563.20 L650.08,562.48 L649.80,561.75 L649.40,561.02 L649.06,560.30 L649.01,559.57 L649.06,558.85 L649.22,558.12 L649.70,557.40 Z" stroke="#eaa65c" stroke-width="1.3" fill="none" stroke-linejoin="round"/>
<line x1="644.40" y1="580.40" x2="659.80" y2="580.40" stroke="#333" stroke-width="0.7" stroke-dasharray="1.5 1.2"/>
<circle cx="652.10" cy="559.90" r="1.9" fill="none" stroke="#eaa65c" stroke-width="1.1"/>
<circle cx="652.10" cy="573.30" r="1.9" fill="none" stroke="#eaa65c" stroke-width="1.1"/>
<circle cx="644.80" cy="578.60" r="1.9" fill="none" stroke="#eaa65c" stroke-width="1.1"/>
<circle cx="652.10" cy="581.10" r="1.9" fill="none" stroke="#eaa65c" stroke-width="1.1"/>
<circle cx="658.20" cy="582.50" r="1.9" fill="none" stroke="#eaa65c" stroke-width="1.1"/>
<circle cx="645.90" cy="586.00" r="1.9" fill="none" stroke="#eaa65c" stroke-width="1.1"/>
<text x="556.20" y="597.20" font-size="10.9" font-weight="bold" text-anchor="end" transform="rotate(-45 556.20 597.20)" stroke="#000" stroke-width="0.22">Ceritinib</text>
<text x="580.80" y="597.20" font-size="10.9" font-weight="bold" text-anchor="end" transform="rotate(-45 580.80 597.20)" stroke="#000" stroke-width="0.22">Entrectinib</text>
<text x="605.40" y="597.20" font-size="10.9" font-weight="bold" text-anchor="end" transform="rotate(-45 605.40 597.20)" stroke="#000" stroke-width="0.22">Crizotinib</text>
<text x="629.90" y="597.20" font-size="10.9" font-weight="bold" text-anchor="end" transform="rotate(-45 629.90 597.20)" stroke="#000" stroke-width="0.22">Ensartinib</text>
<text x="654.80" y="597.20" font-size="10.9" font-weight="bold" text-anchor="end" transform="rotate(-45 654.80 597.20)" stroke="#000" stroke-width="0.22">Lorlatinib</text>
</svg></body></html>
